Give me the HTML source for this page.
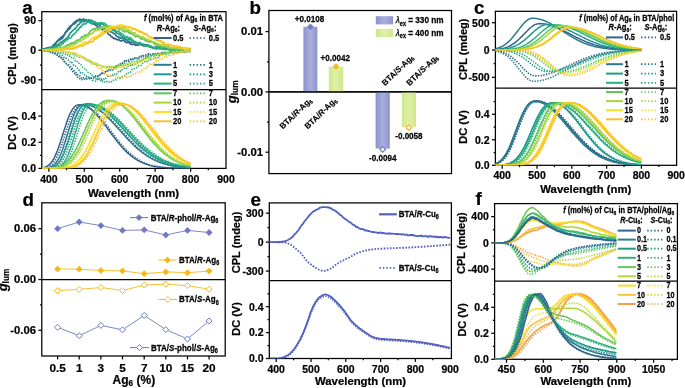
<!DOCTYPE html>
<html><head><meta charset="utf-8"><style>
html,body{margin:0;padding:0;background:#fff;}
svg{display:block;filter:blur(0.3px);}
text{font-family:"Liberation Sans",sans-serif;}
</style></head><body>
<svg width="685" height="388" viewBox="0 0 685 388">
<rect x="0" y="0" width="685" height="388" fill="#fff"/>
<rect x="41.8" y="11.7" width="184.2" height="156.7" fill="none" stroke="#000" stroke-width="1.25"/>
<line x1="41.8" y1="89.7" x2="226" y2="89.7" stroke="#000" stroke-width="1.25"/>
<g clip-path="url(#clipa1)">
<path d="M41.8,49.4 L42.7,49.3 L43.6,49.1 L44.5,48.9 L45.3,48.7 L46.2,48.4 L47.1,48.2 L48,48.2 L48.9,48.3 L49.8,47.6 L50.7,47.7 L51.5,47.4 L52.4,46.4 L53.3,44.9 L54.2,45 L55.1,44.5 L56,43.1 L56.9,41.5 L57.7,40.9 L58.6,40.4 L59.5,38.7 L60.4,38.9 L61.3,37 L62.2,36.6 L63.1,36 L63.9,35.2 L64.8,33.9 L65.7,31.8 L66.6,31.2 L67.5,29.7 L68.4,28.2 L69.3,27.5 L70.1,26.2 L71,26 L71.9,25.4 L72.8,24.4 L73.7,22.8 L74.6,22.1 L75.4,21.6 L76.3,20.7 L77.2,20.3 L78.1,20.3 L79,19.4 L79.9,19.1 L80.8,19.8 L81.6,19.7 L82.5,19.7 L83.4,19.2 L84.3,19.4 L85.2,20.3 L86.1,19.8 L87,21.1 L87.8,21.5 L88.7,21.3 L89.6,22.4 L90.5,22.7 L91.4,23.8 L92.3,23.5 L93.2,23.5 L94,24.1 L94.9,24.2 L95.8,25.5 L96.7,25.8 L97.6,26.4 L98.5,27 L99.4,27.9 L100.2,28 L101.1,28.1 L102,29.3 L102.9,29.9 L103.8,31.5 L104.7,31.6 L105.6,32 L106.4,31.9 L107.3,32.4 L108.2,33.9 L109.1,34.7 L110,34.9 L110.9,36.4 L111.8,36.6 L112.6,37.5 L113.5,38.2 L114.4,38.9 L115.3,38.3 L116.2,39.2 L117.1,39.7 L118,39.9 L118.8,39.4 L119.7,40.6 L120.6,40.8 L121.5,40.9 L122.4,40.5 L123.3,40.5 L124.2,40.6 L125,41.8 L125.9,42.3 L126.8,42.7 L127.7,42.2 L128.6,41.9 L129.5,43.2 L130.3,43.9 L131.2,44.3 L132.1,44.5 L133,44.3 L133.9,44.1 L134.8,44.6 L135.7,45.4 L136.5,45.2 L137.4,45.2 L138.3,44.9 L139.2,44.2 L140.1,44.3 L141,44.8 L141.9,44.9 L142.7,44.9 L143.6,46 L144.5,45.1 L145.4,45 L146.3,44.8 L147.2,44.8 L148.1,45.6 L148.9,46 L149.8,46.8 L150.7,46.3 L151.6,47.1 L152.5,47.5 L153.4,47.5 L154.3,47.6 L155.1,47.4 L156,47.8 L156.9,48.1 L157.8,48.1 L158.7,48.1 L159.6,47.8 L160.5,48.2 L161.3,47.1 L162.2,47 L163.1,47.7 L164,47.9 L164.9,47.9 L165.8,47.9 L166.7,48.3 L167.5,47.5 L168.4,47 L169.3,47.4 L170.2,47.7 L171.1,48.3 L172,48.6 L172.9,48.5 L173.7,48.6 L174.6,48 L175.5,48.5 L176.4,48.9 L177.3,48.1 L178.2,48.2 L179.1,48.7 L179.9,48.5 L180.8,49 L181.7,48.7 L182.6,48.2 L183.5,48 L184.4,48.2 L185.3,48.7 L186.1,48.8 L187,49.1 L187.9,48.7 L188.8,48.8 L189.7,48.6 L190.6,48.9" fill="none" stroke="#33628d" stroke-width="1.7" stroke-linejoin="round"/>
<path d="M41.8,49.4 L42.7,49.2 L43.6,49 L44.5,48.9 L45.3,48.6 L46.2,48.4 L47.1,48.1 L48,47.8 L48.9,47.5 L49.8,47.3 L50.7,47.6 L51.5,47.6 L52.4,46.8 L53.3,46.2 L54.2,44.8 L55.1,43.3 L56,43.1 L56.9,41.8 L57.7,40.6 L58.6,39.7 L59.5,39.8 L60.4,39.6 L61.3,39 L62.2,38.3 L63.1,37.4 L63.9,35.7 L64.8,33.8 L65.7,32.4 L66.6,31.8 L67.5,30.7 L68.4,29.4 L69.3,29.4 L70.1,28 L71,26.3 L71.9,25.3 L72.8,24.4 L73.7,24 L74.6,24 L75.4,22.6 L76.3,22.4 L77.2,21.3 L78.1,20.3 L79,20.7 L79.9,20.8 L80.8,19.9 L81.6,19.8 L82.5,20.8 L83.4,21.4 L84.3,21.7 L85.2,20.6 L86.1,20.3 L87,21.4 L87.8,20.9 L88.7,20.5 L89.6,21 L90.5,21.9 L91.4,22.1 L92.3,23.1 L93.2,24 L94,23 L94.9,23.2 L95.8,23.8 L96.7,23.5 L97.6,24.5 L98.5,24.5 L99.4,24.7 L100.2,26.2 L101.1,27 L102,27.7 L102.9,28.3 L103.8,28.3 L104.7,29.1 L105.6,29.5 L106.4,30.4 L107.3,29.8 L108.2,30.7 L109.1,31.3 L110,31.6 L110.9,31.5 L111.8,32.5 L112.6,32.4 L113.5,33.3 L114.4,34 L115.3,34.5 L116.2,35.9 L117.1,36.2 L118,36.9 L118.8,37.9 L119.7,37.2 L120.6,38.2 L121.5,38.3 L122.4,38.2 L123.3,38.6 L124.2,39.4 L125,39.7 L125.9,39.9 L126.8,39.9 L127.7,41.2 L128.6,41.2 L129.5,41.9 L130.3,42.4 L131.2,41.9 L132.1,42.3 L133,42.5 L133.9,42.4 L134.8,42.3 L135.7,43.1 L136.5,43.4 L137.4,43.8 L138.3,44.1 L139.2,44.1 L140.1,44.5 L141,44.7 L141.9,45 L142.7,44.5 L143.6,44.7 L144.5,44.6 L145.4,44.5 L146.3,45.7 L147.2,45.9 L148.1,45.3 L148.9,45.3 L149.8,46.6 L150.7,47.3 L151.6,47.2 L152.5,47.7 L153.4,47.8 L154.3,48.1 L155.1,47.4 L156,47 L156.9,46.6 L157.8,47.6 L158.7,47.3 L159.6,47.3 L160.5,48 L161.3,47.4 L162.2,47.1 L163.1,47.9 L164,47.4 L164.9,47.9 L165.8,48 L166.7,47.6 L167.5,47.5 L168.4,48.3 L169.3,48.4 L170.2,48.4 L171.1,48.6 L172,48.9 L172.9,48.9 L173.7,48.5 L174.6,49.1 L175.5,48.8 L176.4,48.8 L177.3,49.3 L178.2,49.2 L179.1,48.9 L179.9,48.9 L180.8,49.3 L181.7,48.7 L182.6,48.6 L183.5,48.4 L184.4,49.1 L185.3,49.3 L186.1,49.6 L187,49.2 L187.9,49.4 L188.8,49.6 L189.7,49.5 L190.6,49.1" fill="none" stroke="#2a7b8e" stroke-width="1.7" stroke-linejoin="round"/>
<path d="M41.8,49.7 L42.7,49.6 L43.6,49.5 L44.5,49.4 L45.3,49.3 L46.2,49.1 L47.1,49 L48,49.3 L48.9,48.7 L49.8,48.5 L50.7,48.6 L51.5,47.5 L52.4,47.1 L53.3,46.5 L54.2,47.1 L55.1,45.9 L56,46.3 L56.9,45 L57.7,44.7 L58.6,44.4 L59.5,43.6 L60.4,42.1 L61.3,42.2 L62.2,42 L63.1,40.9 L63.9,40.3 L64.8,39.8 L65.7,39 L66.6,38.3 L67.5,37.2 L68.4,36 L69.3,34.9 L70.1,33 L71,32.4 L71.9,31.2 L72.8,30.6 L73.7,29.6 L74.6,29.2 L75.4,28.1 L76.3,27.5 L77.2,25.6 L78.1,24.6 L79,24.3 L79.9,23.4 L80.8,21.9 L81.6,22.3 L82.5,21.2 L83.4,21.1 L84.3,20.9 L85.2,20.1 L86.1,20.5 L87,20.5 L87.8,20.3 L88.7,19.7 L89.6,20.5 L90.5,20.2 L91.4,20.3 L92.3,20.6 L93.2,21.2 L94,21.7 L94.9,22.6 L95.8,23.1 L96.7,23.5 L97.6,22.8 L98.5,23.4 L99.4,24 L100.2,24.7 L101.1,23.9 L102,23.7 L102.9,24.1 L103.8,25.2 L104.7,26 L105.6,26.6 L106.4,26.8 L107.3,27.7 L108.2,27.9 L109.1,28.5 L110,27.9 L110.9,27.9 L111.8,28.8 L112.6,30.1 L113.5,29.7 L114.4,30.9 L115.3,31.7 L116.2,33 L117.1,33.2 L118,33.5 L118.8,33.8 L119.7,34.7 L120.6,35 L121.5,36.2 L122.4,36.6 L123.3,37.3 L124.2,37.4 L125,38.3 L125.9,39.1 L126.8,39.2 L127.7,39.6 L128.6,39.4 L129.5,39.7 L130.3,39.6 L131.2,40 L132.1,40.2 L133,40.3 L133.9,41.4 L134.8,42.2 L135.7,41.7 L136.5,43 L137.4,42.9 L138.3,43.1 L139.2,44.4 L140.1,43.9 L141,43.7 L141.9,44.1 L142.7,44.3 L143.6,44.4 L144.5,45.8 L145.4,45.9 L146.3,46.1 L147.2,45.8 L148.1,45.8 L148.9,45.9 L149.8,46.4 L150.7,46.3 L151.6,46.7 L152.5,47 L153.4,47.8 L154.3,48.5 L155.1,48.7 L156,48.7 L156.9,49 L157.8,48.4 L158.7,48.5 L159.6,48.5 L160.5,48.6 L161.3,48.6 L162.2,48.8 L163.1,49.4 L164,49.1 L164.9,49 L165.8,49.2 L166.7,49.3 L167.5,49.3 L168.4,49.7 L169.3,49.5 L170.2,49.7 L171.1,50 L172,50 L172.9,49.7 L173.7,49.9 L174.6,49.7 L175.5,49.5 L176.4,49.7 L177.3,49.9 L178.2,49.9 L179.1,49.8 L179.9,49.8 L180.8,49.8 L181.7,49.9 L182.6,50.2 L183.5,50.3 L184.4,50.3 L185.3,50.1 L186.1,50.2 L187,50.1 L187.9,50.3 L188.8,50.4 L189.7,50.4 L190.6,50.2" fill="none" stroke="#20998b" stroke-width="1.7" stroke-linejoin="round"/>
<path d="M41.8,49.8 L42.7,49.7 L43.6,49.7 L44.5,49.6 L45.3,49.5 L46.2,49.4 L47.1,49.2 L48,49 L48.9,49.1 L49.8,48.4 L50.7,48 L51.5,48.6 L52.4,48.3 L53.3,47.6 L54.2,46.8 L55.1,47 L56,47.1 L56.9,47.2 L57.7,45.7 L58.6,46 L59.5,45.3 L60.4,45.4 L61.3,44.6 L62.2,43.1 L63.1,43.5 L63.9,42.1 L64.8,41.6 L65.7,40.4 L66.6,39.7 L67.5,39.8 L68.4,38.3 L69.3,37.8 L70.1,37.9 L71,37.6 L71.9,36.1 L72.8,35 L73.7,34.3 L74.6,33.7 L75.4,32.7 L76.3,31.8 L77.2,30 L78.1,30.1 L79,28.5 L79.9,27.1 L80.8,27.3 L81.6,25.6 L82.5,24.9 L83.4,23.8 L84.3,24.1 L85.2,23.9 L86.1,23.5 L87,22.1 L87.8,22 L88.7,22.2 L89.6,22.2 L90.5,22.4 L91.4,22.9 L92.3,23.1 L93.2,22 L94,22.4 L94.9,21.6 L95.8,22.4 L96.7,22.9 L97.6,22.8 L98.5,23.4 L99.4,23.5 L100.2,22.7 L101.1,22.5 L102,22.8 L102.9,23.3 L103.8,23.3 L104.7,23.4 L105.6,24.4 L106.4,24.7 L107.3,26.3 L108.2,26.1 L109.1,26.7 L110,26.7 L110.9,27.1 L111.8,28.2 L112.6,29.4 L113.5,28.7 L114.4,30 L115.3,30.3 L116.2,31 L117.1,31.6 L118,31.5 L118.8,31.2 L119.7,32.6 L120.6,32.9 L121.5,33.9 L122.4,34.2 L123.3,34.9 L124.2,35.9 L125,36.7 L125.9,37.2 L126.8,36.5 L127.7,37.1 L128.6,38.2 L129.5,37.7 L130.3,37.6 L131.2,38.7 L132.1,40 L133,40.8 L133.9,41.6 L134.8,41.7 L135.7,42.4 L136.5,42.8 L137.4,43.1 L138.3,42.9 L139.2,42.4 L140.1,42.6 L141,43.4 L141.9,44 L142.7,44.3 L143.6,44.8 L144.5,45.3 L145.4,46.1 L146.3,46.3 L147.2,45.4 L148.1,46.4 L148.9,46.5 L149.8,46.4 L150.7,46 L151.6,47 L152.5,47.5 L153.4,47.9 L154.3,47.9 L155.1,47.9 L156,47.4 L156.9,47.4 L157.8,47.4 L158.7,48.4 L159.6,49 L160.5,48.6 L161.3,48.3 L162.2,48.6 L163.1,48.7 L164,49.3 L164.9,49.3 L165.8,48.9 L166.7,48.9 L167.5,48.9 L168.4,48.8 L169.3,49.3 L170.2,49.7 L171.1,49.9 L172,49.7 L172.9,49.6 L173.7,49.4 L174.6,49.5 L175.5,49.6 L176.4,49.6 L177.3,49.7 L178.2,49.8 L179.1,50.1 L179.9,49.9 L180.8,50.1 L181.7,49.8 L182.6,49.8 L183.5,50 L184.4,50.2 L185.3,50.3 L186.1,50.1 L187,50 L187.9,50.2 L188.8,50.4 L189.7,50.2 L190.6,50.1" fill="none" stroke="#28b07e" stroke-width="1.7" stroke-linejoin="round"/>
<path d="M41.8,49.9 L42.7,49.9 L43.6,49.9 L44.5,49.8 L45.3,49.8 L46.2,49.7 L47.1,49.7 L48,49.4 L48.9,49.2 L49.8,49.3 L50.7,49.5 L51.5,49.5 L52.4,48.9 L53.3,48.8 L54.2,48.9 L55.1,49.2 L56,48.9 L56.9,48.4 L57.7,48.4 L58.6,48.4 L59.5,47.9 L60.4,47.2 L61.3,47.6 L62.2,48 L63.1,47.6 L63.9,47.2 L64.8,46.4 L65.7,46.6 L66.6,45.5 L67.5,44.9 L68.4,44.8 L69.3,45.1 L70.1,43.7 L71,43.9 L71.9,42.9 L72.8,43.2 L73.7,43.1 L74.6,41.9 L75.4,41.8 L76.3,40.4 L77.2,40.2 L78.1,40.3 L79,40 L79.9,39.3 L80.8,38.2 L81.6,36.8 L82.5,37.2 L83.4,36.7 L84.3,36.5 L85.2,34.7 L86.1,35 L87,35 L87.8,34.7 L88.7,33.7 L89.6,32 L90.5,31 L91.4,30.4 L92.3,29.5 L93.2,28.9 L94,29.4 L94.9,29.6 L95.8,28.3 L96.7,27.8 L97.6,28.6 L98.5,27.7 L99.4,27.7 L100.2,27.6 L101.1,27.5 L102,27.6 L102.9,27.9 L103.8,27.6 L104.7,27.3 L105.6,26.1 L106.4,27 L107.3,26 L108.2,26.8 L109.1,27 L110,26.4 L110.9,26.1 L111.8,26.8 L112.6,27.8 L113.5,27.7 L114.4,27.9 L115.3,27.2 L116.2,28.2 L117.1,28.6 L118,27.9 L118.8,29.3 L119.7,29.4 L120.6,29 L121.5,29 L122.4,30.4 L123.3,31.3 L124.2,31.9 L125,30.9 L125.9,31.7 L126.8,31.5 L127.7,31.3 L128.6,32.4 L129.5,33.3 L130.3,32.7 L131.2,33.2 L132.1,34.3 L133,34.3 L133.9,35.2 L134.8,35.9 L135.7,36.9 L136.5,36.4 L137.4,36 L138.3,36.5 L139.2,36.5 L140.1,38.2 L141,38.9 L141.9,39.1 L142.7,38.5 L143.6,38.5 L144.5,39.6 L145.4,40.6 L146.3,41 L147.2,41.2 L148.1,40.8 L148.9,42 L149.8,41.8 L150.7,41.9 L151.6,42 L152.5,42.3 L153.4,42.9 L154.3,43.8 L155.1,44.4 L156,44.8 L156.9,44.4 L157.8,45.5 L158.7,46 L159.6,45.4 L160.5,46.1 L161.3,46.9 L162.2,47.4 L163.1,46.9 L164,47.2 L164.9,46.3 L165.8,46.2 L166.7,46.1 L167.5,47.2 L168.4,48 L169.3,48.4 L170.2,48.2 L171.1,47.9 L172,48.1 L172.9,48.6 L173.7,48.6 L174.6,48.5 L175.5,48.4 L176.4,48.4 L177.3,48.3 L178.2,48.5 L179.1,49.1 L179.9,48.9 L180.8,49.2 L181.7,49.2 L182.6,49.4 L183.5,49.2 L184.4,49.6 L185.3,49.7 L186.1,49.8 L187,50 L187.9,49.6 L188.8,49.6 L189.7,49.8 L190.6,49.9" fill="none" stroke="#5ec45b" stroke-width="1.7" stroke-linejoin="round"/>
<path d="M41.8,50 L42.7,50 L43.6,49.9 L44.5,49.9 L45.3,49.9 L46.2,49.8 L47.1,49.8 L48,49.8 L48.9,49.5 L49.8,49.3 L50.7,49.1 L51.5,49.6 L52.4,49.6 L53.3,49.7 L54.2,49.7 L55.1,49 L56,48.9 L56.9,48.5 L57.7,48.7 L58.6,48.2 L59.5,48.3 L60.4,48.5 L61.3,47.9 L62.2,47.3 L63.1,47.9 L63.9,47.5 L64.8,47.1 L65.7,47.4 L66.6,47.2 L67.5,47.3 L68.4,47.1 L69.3,46.8 L70.1,45.8 L71,45.1 L71.9,45.3 L72.8,45.5 L73.7,44.9 L74.6,43.8 L75.4,43.8 L76.3,43.4 L77.2,43.1 L78.1,41.7 L79,41.2 L79.9,41.5 L80.8,41.3 L81.6,40.5 L82.5,39.5 L83.4,38.6 L84.3,38.8 L85.2,38.5 L86.1,37.1 L87,36.6 L87.8,36.3 L88.7,35.8 L89.6,34.2 L90.5,34.2 L91.4,33.5 L92.3,33.2 L93.2,32.7 L94,31.4 L94.9,30.3 L95.8,30.6 L96.7,30.7 L97.6,29.7 L98.5,29.9 L99.4,30.1 L100.2,28.5 L101.1,28.3 L102,27.4 L102.9,27.6 L103.8,26.7 L104.7,26.9 L105.6,27.4 L106.4,27.8 L107.3,27.1 L108.2,26.6 L109.1,25.8 L110,26.9 L110.9,26.5 L111.8,26.8 L112.6,26.7 L113.5,27.4 L114.4,27.5 L115.3,27.2 L116.2,26.5 L117.1,27.6 L118,27.6 L118.8,27.1 L119.7,26.8 L120.6,28 L121.5,28.9 L122.4,28.1 L123.3,27.7 L124.2,28.6 L125,29.9 L125.9,29.2 L126.8,30 L127.7,29.6 L128.6,30.1 L129.5,30.2 L130.3,31.6 L131.2,31.4 L132.1,32.5 L133,32.9 L133.9,32.6 L134.8,32.6 L135.7,34 L136.5,34.8 L137.4,35.1 L138.3,35.3 L139.2,35.8 L140.1,36.7 L141,37.2 L141.9,36.8 L142.7,36.5 L143.6,38.1 L144.5,38.1 L145.4,38 L146.3,39.4 L147.2,39 L148.1,40.2 L148.9,40.1 L149.8,40.4 L150.7,40.6 L151.6,41.4 L152.5,41.8 L153.4,41.9 L154.3,42.4 L155.1,42.4 L156,42.9 L156.9,43.3 L157.8,44.4 L158.7,44.1 L159.6,44.3 L160.5,45 L161.3,44.5 L162.2,44.4 L163.1,45 L164,46 L164.9,46 L165.8,46.8 L166.7,47.3 L167.5,47.1 L168.4,47.6 L169.3,47.4 L170.2,47.3 L171.1,48 L172,47.6 L172.9,48.2 L173.7,47.7 L174.6,47.5 L175.5,47.8 L176.4,48.6 L177.3,48.5 L178.2,48.6 L179.1,48.2 L179.9,48.8 L180.8,48.5 L181.7,48.3 L182.6,48.5 L183.5,48.5 L184.4,49.1 L185.3,48.8 L186.1,49.1 L187,48.9 L187.9,48.9 L188.8,49.4 L189.7,49.3 L190.6,49.2" fill="none" stroke="#a9d53a" stroke-width="1.7" stroke-linejoin="round"/>
<path d="M41.8,50.1 L42.7,50.1 L43.6,50.1 L44.5,50.1 L45.3,50.1 L46.2,50.1 L47.1,50.1 L48,50.2 L48.9,50.1 L49.8,49.9 L50.7,50.1 L51.5,50.1 L52.4,50 L53.3,50.1 L54.2,50.2 L55.1,50.2 L56,50.2 L56.9,49.7 L57.7,49.6 L58.6,49.3 L59.5,49.6 L60.4,49.3 L61.3,49.6 L62.2,49.4 L63.1,49.2 L63.9,49.2 L64.8,48.8 L65.7,48.7 L66.6,48.6 L67.5,48.2 L68.4,48.6 L69.3,47.9 L70.1,47.7 L71,47.9 L71.9,47.3 L72.8,47.6 L73.7,46.6 L74.6,46.6 L75.4,46.7 L76.3,46 L77.2,46 L78.1,46.3 L79,45.3 L79.9,45.8 L80.8,44.6 L81.6,44.7 L82.5,43.9 L83.4,42.7 L84.3,42.5 L85.2,42.1 L86.1,42.2 L87,42.6 L87.8,42.4 L88.7,41.9 L89.6,40.5 L90.5,39.9 L91.4,39.2 L92.3,37.8 L93.2,38.2 L94,37.9 L94.9,36.7 L95.8,36.9 L96.7,36.8 L97.6,35.8 L98.5,35.4 L99.4,34.5 L100.2,34 L101.1,32.8 L102,31.9 L102.9,31.9 L103.8,30.8 L104.7,30.3 L105.6,30.4 L106.4,28.8 L107.3,29 L108.2,29.1 L109.1,29 L110,27.8 L110.9,26.7 L111.8,26.1 L112.6,26.4 L113.5,26.6 L114.4,27.1 L115.3,26.1 L116.2,25.8 L117.1,25.9 L118,25.4 L118.8,25.6 L119.7,24.8 L120.6,24.8 L121.5,25.7 L122.4,25 L123.3,26.3 L124.2,26.1 L125,26.3 L125.9,26.8 L126.8,27.5 L127.7,26.7 L128.6,27.8 L129.5,27.5 L130.3,26.8 L131.2,28 L132.1,28.7 L133,28.5 L133.9,28.8 L134.8,28.9 L135.7,28.8 L136.5,30.1 L137.4,30.7 L138.3,31.2 L139.2,32.1 L140.1,31.4 L141,31.4 L141.9,31.7 L142.7,33.4 L143.6,33 L144.5,33.2 L145.4,34 L146.3,34.1 L147.2,35 L148.1,36 L148.9,36.9 L149.8,37.4 L150.7,38.2 L151.6,38.4 L152.5,37.9 L153.4,38.1 L154.3,38.1 L155.1,38.5 L156,39.7 L156.9,40 L157.8,40.6 L158.7,40.5 L159.6,41.1 L160.5,42 L161.3,42 L162.2,41.6 L163.1,42.9 L164,42.6 L164.9,44.1 L165.8,44.5 L166.7,45 L167.5,44.5 L168.4,44 L169.3,44.3 L170.2,45.3 L171.1,44.9 L172,45.8 L172.9,46.6 L173.7,45.9 L174.6,46.1 L175.5,46.3 L176.4,46.5 L177.3,46.3 L178.2,47 L179.1,46.9 L179.9,47.2 L180.8,47.2 L181.7,47.8 L182.6,47.8 L183.5,48.1 L184.4,48.5 L185.3,48.9 L186.1,48.7 L187,49.2 L187.9,48.8 L188.8,49.2 L189.7,49.6 L190.6,49.7" fill="none" stroke="#f6e01f" stroke-width="1.7" stroke-linejoin="round"/>
<path d="M41.8,50.2 L42.7,50.2 L43.6,50.2 L44.5,50.2 L45.3,50.1 L46.2,50.1 L47.1,50.1 L48,50 L48.9,49.9 L49.8,50.2 L50.7,50.1 L51.5,50.1 L52.4,49.9 L53.3,49.8 L54.2,49.7 L55.1,50 L56,49.8 L56.9,49.6 L57.7,49.5 L58.6,49.8 L59.5,50 L60.4,50.1 L61.3,50.1 L62.2,49.6 L63.1,49.4 L63.9,49.3 L64.8,49.1 L65.7,49 L66.6,49.2 L67.5,49.4 L68.4,49.5 L69.3,48.9 L70.1,49 L71,48.9 L71.9,48.7 L72.8,48.9 L73.7,48.7 L74.6,48.5 L75.4,47.7 L76.3,47.7 L77.2,47.6 L78.1,46.5 L79,46.4 L79.9,45.7 L80.8,45.6 L81.6,46.3 L82.5,45.9 L83.4,45.5 L84.3,44.5 L85.2,44.5 L86.1,43.7 L87,43.4 L87.8,43.5 L88.7,42.3 L89.6,42.7 L90.5,41.5 L91.4,41.7 L92.3,41.8 L93.2,41.3 L94,39.8 L94.9,38.4 L95.8,39.1 L96.7,38.3 L97.6,37.7 L98.5,36.5 L99.4,36.7 L100.2,36 L101.1,35.6 L102,34.3 L102.9,34.3 L103.8,32.9 L104.7,33 L105.6,33 L106.4,31.9 L107.3,31.4 L108.2,31.6 L109.1,30.6 L110,30.8 L110.9,29.5 L111.8,28.8 L112.6,28.1 L113.5,27.9 L114.4,28.1 L115.3,28 L116.2,27.9 L117.1,26.9 L118,27.7 L118.8,26.6 L119.7,27.5 L120.6,27.7 L121.5,27.7 L122.4,26.6 L123.3,26.7 L124.2,27.1 L125,26.4 L125.9,27.3 L126.8,27.4 L127.7,27.4 L128.6,27.1 L129.5,27.1 L130.3,27.4 L131.2,28.1 L132.1,28.7 L133,29.4 L133.9,28.7 L134.8,28.9 L135.7,29 L136.5,30.2 L137.4,30.5 L138.3,30.3 L139.2,30.7 L140.1,31.9 L141,32.1 L141.9,31.7 L142.7,32.9 L143.6,33.7 L144.5,34.2 L145.4,33.9 L146.3,33.8 L147.2,35.2 L148.1,36 L148.9,36.6 L149.8,36.9 L150.7,37 L151.6,37.9 L152.5,38.2 L153.4,38.9 L154.3,38.1 L155.1,38.3 L156,39.7 L156.9,39.2 L157.8,40.6 L158.7,41 L159.6,40.4 L160.5,40.6 L161.3,41 L162.2,41.9 L163.1,42.9 L164,42.9 L164.9,43.9 L165.8,44.4 L166.7,44.5 L167.5,45.4 L168.4,45.3 L169.3,44.7 L170.2,44.8 L171.1,45.2 L172,45.4 L172.9,45.9 L173.7,46.8 L174.6,46.5 L175.5,46.9 L176.4,46.6 L177.3,46.3 L178.2,47 L179.1,47.2 L179.9,47.2 L180.8,47.7 L181.7,48.2 L182.6,48 L183.5,47.8 L184.4,47.9 L185.3,48.1 L186.1,48.1 L187,48.3 L187.9,48.5 L188.8,48.8 L189.7,49.1 L190.6,49.1" fill="none" stroke="#f8c02c" stroke-width="1.7" stroke-linejoin="round"/>
<path d="M41.8,50.6 L42.7,50.6 L43.6,50.7 L44.5,50.8 L45.3,51 L46.2,51.1 L47.1,51.3 L48,51.5 L48.9,51.6 L49.8,51.9 L50.7,52 L51.5,51.8 L52.4,52.9 L53.3,53 L54.2,53 L55.1,53.9 L56,54.5 L56.9,54.2 L57.7,56 L58.6,56.4 L59.5,57.7 L60.4,57.6 L61.3,57.7 L62.2,59 L63.1,60.8 L63.9,61.4 L64.8,62.2 L65.7,62.9 L66.6,64.1 L67.5,65 L68.4,65.7 L69.3,67.1 L70.1,68.6 L71,68.9 L71.9,70.9 L72.8,71.6 L73.7,72.9 L74.6,73.4 L75.4,75.2 L76.3,75 L77.2,76.3 L78.1,77.8 L79,78.4 L79.9,78.7 L80.8,79.7 L81.6,79.6 L82.5,79.5 L83.4,79 L84.3,79.3 L85.2,79.6 L86.1,79.8 L87,78.9 L87.8,78 L88.7,78.2 L89.6,78.8 L90.5,77.9 L91.4,78.1 L92.3,78.3 L93.2,78.4 L94,77.2 L94.9,76.4 L95.8,76.1 L96.7,76 L97.6,75.7 L98.5,75.8 L99.4,74.5 L100.2,74.6 L101.1,73.9 L102,73.1 L102.9,72.4 L103.8,72.4 L104.7,72.5 L105.6,71.9 L106.4,72 L107.3,70.6 L108.2,70.5 L109.1,69.3 L110,69.5 L110.9,69.2 L111.8,68.9 L112.6,68.3 L113.5,68.1 L114.4,68.1 L115.3,66.6 L116.2,66.4 L117.1,66.1 L118,65.7 L118.8,64.9 L119.7,64.4 L120.6,63.6 L121.5,62.9 L122.4,62.9 L123.3,61.7 L124.2,61.1 L125,61.9 L125.9,60.8 L126.8,60 L127.7,59.6 L128.6,60.3 L129.5,59.3 L130.3,59 L131.2,59.8 L132.1,60 L133,58.4 L133.9,58 L134.8,58.3 L135.7,58.6 L136.5,58.6 L137.4,58.3 L138.3,57.1 L139.2,57.1 L140.1,57.4 L141,56.1 L141.9,55.6 L142.7,56.3 L143.6,55.3 L144.5,55.2 L145.4,54.8 L146.3,54.7 L147.2,54.2 L148.1,54.1 L148.9,53.8 L149.8,54.7 L150.7,54.3 L151.6,54.3 L152.5,53.8 L153.4,54.1 L154.3,53.4 L155.1,53.6 L156,54.1 L156.9,54.3 L157.8,54.6 L158.7,54 L159.6,54.4 L160.5,53.9 L161.3,54.1 L162.2,53.6 L163.1,53.3 L164,53.1 L164.9,52.5 L165.8,53.3 L166.7,52.6 L167.5,52.7 L168.4,52.6 L169.3,52.3 L170.2,52 L171.1,52.4 L172,52.5 L172.9,51.8 L173.7,52.5 L174.6,52.2 L175.5,52 L176.4,52.5 L177.3,52.1 L178.2,51.8 L179.1,51.4 L179.9,51.8 L180.8,51.3 L181.7,51.5 L182.6,51.6 L183.5,51.3 L184.4,51.9 L185.3,51.5 L186.1,51.4 L187,51.6 L187.9,51.2 L188.8,51.4 L189.7,51.4 L190.6,51.3" fill="none" stroke="#33628d" stroke-width="1.6" stroke-dasharray="1.4 1.3" stroke-linecap="butt"/>
<path d="M41.8,50.6 L42.7,50.7 L43.6,50.7 L44.5,50.8 L45.3,50.9 L46.2,51.1 L47.1,51.2 L48,51.1 L48.9,51.5 L49.8,51.8 L50.7,52.3 L51.5,52.4 L52.4,52.1 L53.3,52.4 L54.2,52.6 L55.1,53.6 L56,54.4 L56.9,55.1 L57.7,55.3 L58.6,55.6 L59.5,55.8 L60.4,57.5 L61.3,57.6 L62.2,57.8 L63.1,58.8 L63.9,60.7 L64.8,61.6 L65.7,63 L66.6,63.9 L67.5,63.6 L68.4,64.5 L69.3,65.3 L70.1,66.1 L71,66.7 L71.9,68.1 L72.8,69.2 L73.7,70.2 L74.6,71.1 L75.4,72.1 L76.3,72.9 L77.2,74.5 L78.1,74.8 L79,75.7 L79.9,75.9 L80.8,77.3 L81.6,78.1 L82.5,78.8 L83.4,78 L84.3,77.4 L85.2,77.6 L86.1,78.1 L87,77.5 L87.8,77.3 L88.7,77.5 L89.6,78 L90.5,78.1 L91.4,77.9 L92.3,77.9 L93.2,77.5 L94,76.9 L94.9,75.9 L95.8,76.8 L96.7,76.2 L97.6,76.6 L98.5,76.5 L99.4,75.1 L100.2,74.6 L101.1,73.6 L102,73.7 L102.9,74.3 L103.8,73.7 L104.7,72.9 L105.6,71.6 L106.4,70.7 L107.3,70.9 L108.2,70.8 L109.1,71.1 L110,70.1 L110.9,70.1 L111.8,69.9 L112.6,69.9 L113.5,69.6 L114.4,68.1 L115.3,68 L116.2,66.4 L117.1,66.8 L118,65.4 L118.8,65.8 L119.7,66 L120.6,64.6 L121.5,64.5 L122.4,63.5 L123.3,63.7 L124.2,63.8 L125,62.4 L125.9,61.6 L126.8,60.8 L127.7,60.5 L128.6,61.2 L129.5,60.5 L130.3,59.8 L131.2,59.7 L132.1,58.7 L133,59.2 L133.9,58.1 L134.8,57.9 L135.7,58.8 L136.5,59.1 L137.4,58.1 L138.3,57.2 L139.2,57.8 L140.1,57.7 L141,56.8 L141.9,57.2 L142.7,56.1 L143.6,56.1 L144.5,56.7 L145.4,56.4 L146.3,55.8 L147.2,55.7 L148.1,55.1 L148.9,55.7 L149.8,54.8 L150.7,55 L151.6,54.5 L152.5,54.3 L153.4,54.4 L154.3,54.5 L155.1,53.8 L156,53.1 L156.9,53 L157.8,53.3 L158.7,53.8 L159.6,54.4 L160.5,53.2 L161.3,52.9 L162.2,52.6 L163.1,53.1 L164,53 L164.9,52.3 L165.8,52.2 L166.7,52.4 L167.5,52.8 L168.4,52.9 L169.3,52.2 L170.2,52.6 L171.1,52.3 L172,52.2 L172.9,51.8 L173.7,51.7 L174.6,52.2 L175.5,52.8 L176.4,52.7 L177.3,52.4 L178.2,52.1 L179.1,51.7 L179.9,51.4 L180.8,52.1 L181.7,51.6 L182.6,51.4 L183.5,51.2 L184.4,51.3 L185.3,51.7 L186.1,51.3 L187,51.1 L187.9,51.1 L188.8,50.9 L189.7,51.3 L190.6,51.7" fill="none" stroke="#2a7b8e" stroke-width="1.6" stroke-dasharray="1.4 1.3" stroke-linecap="butt"/>
<path d="M41.8,50.5 L42.7,50.6 L43.6,50.6 L44.5,50.7 L45.3,50.8 L46.2,50.9 L47.1,51 L48,50.9 L48.9,51.1 L49.8,51.6 L50.7,51.8 L51.5,51.6 L52.4,51.5 L53.3,51.9 L54.2,52.7 L55.1,52.4 L56,52.4 L56.9,53.3 L57.7,53.4 L58.6,53.1 L59.5,53.2 L60.4,54.1 L61.3,54.8 L62.2,55.3 L63.1,56.5 L63.9,57.3 L64.8,58.1 L65.7,57.9 L66.6,58.7 L67.5,59.1 L68.4,60 L69.3,60.6 L70.1,61.9 L71,63.2 L71.9,62.6 L72.8,63.8 L73.7,65.3 L74.6,65.6 L75.4,65.9 L76.3,67.6 L77.2,68.2 L78.1,69.3 L79,70 L79.9,71.7 L80.8,72.9 L81.6,72.3 L82.5,72.6 L83.4,73.8 L84.3,74.6 L85.2,75.9 L86.1,76 L87,76.9 L87.8,76.7 L88.7,77.2 L89.6,77.5 L90.5,77.6 L91.4,79 L92.3,80.2 L93.2,80.5 L94,80.7 L94.9,81 L95.8,81.2 L96.7,80.3 L97.6,79.3 L98.5,79.5 L99.4,78.7 L100.2,78.2 L101.1,79.4 L102,78.9 L102.9,78.9 L103.8,79.3 L104.7,77.9 L105.6,78.3 L106.4,77.8 L107.3,77.2 L108.2,76.2 L109.1,76 L110,76.2 L110.9,76 L111.8,76.2 L112.6,74.7 L113.5,73.7 L114.4,74.3 L115.3,74.7 L116.2,74.3 L117.1,73.7 L118,72.2 L118.8,71.2 L119.7,70.6 L120.6,71.4 L121.5,70.2 L122.4,69.6 L123.3,69.1 L124.2,68 L125,68.8 L125.9,68.8 L126.8,67.5 L127.7,66.3 L128.6,65.9 L129.5,66.1 L130.3,65.5 L131.2,64.6 L132.1,65.1 L133,64.7 L133.9,64.4 L134.8,64.3 L135.7,63.4 L136.5,63.2 L137.4,62.8 L138.3,62.6 L139.2,61.4 L140.1,61.7 L141,60.5 L141.9,60.6 L142.7,60.7 L143.6,59.1 L144.5,59.3 L145.4,58 L146.3,57.3 L147.2,56.8 L148.1,57.7 L148.9,57.4 L149.8,57.8 L150.7,56.4 L151.6,55.7 L152.5,55.6 L153.4,55.8 L154.3,55.9 L155.1,55 L156,55.1 L156.9,54.8 L157.8,55.3 L158.7,55.4 L159.6,55.6 L160.5,54.5 L161.3,54.1 L162.2,54.6 L163.1,53.5 L164,53.9 L164.9,53.8 L165.8,54 L166.7,53.9 L167.5,52.9 L168.4,53.1 L169.3,53.4 L170.2,53 L171.1,53 L172,52.2 L172.9,52.8 L173.7,52 L174.6,52.6 L175.5,51.9 L176.4,51.8 L177.3,52.2 L178.2,52.1 L179.1,52.2 L179.9,52.2 L180.8,52.2 L181.7,52.1 L182.6,51.4 L183.5,51 L184.4,50.9 L185.3,51.5 L186.1,51.6 L187,51.1 L187.9,51.6 L188.8,51.2 L189.7,51.4 L190.6,50.9" fill="none" stroke="#20998b" stroke-width="1.6" stroke-dasharray="1.4 1.3" stroke-linecap="butt"/>
<path d="M41.8,50.4 L42.7,50.4 L43.6,50.4 L44.5,50.5 L45.3,50.5 L46.2,50.5 L47.1,50.6 L48,50.8 L48.9,50.8 L49.8,50.6 L50.7,50.9 L51.5,50.9 L52.4,51.3 L53.3,51.5 L54.2,51.2 L55.1,51.2 L56,51.7 L56.9,52.2 L57.7,52.6 L58.6,52.3 L59.5,52.4 L60.4,52.9 L61.3,53.3 L62.2,53.2 L63.1,53.1 L63.9,53 L64.8,53.5 L65.7,54.6 L66.6,55.6 L67.5,55.2 L68.4,55.8 L69.3,55.8 L70.1,57.2 L71,56.9 L71.9,57.9 L72.8,57.8 L73.7,58 L74.6,59.1 L75.4,60.8 L76.3,60.5 L77.2,61.5 L78.1,61.7 L79,63.2 L79.9,64.5 L80.8,64.5 L81.6,65.7 L82.5,67 L83.4,67.8 L84.3,68.2 L85.2,69.9 L86.1,70.3 L87,71 L87.8,71.7 L88.7,73.1 L89.6,73.2 L90.5,73.5 L91.4,73.9 L92.3,75.4 L93.2,75.9 L94,77 L94.9,77.2 L95.8,78.8 L96.7,78.5 L97.6,78.4 L98.5,79.3 L99.4,80 L100.2,80.4 L101.1,80.7 L102,81.9 L102.9,80.9 L103.8,81.7 L104.7,82.1 L105.6,82.5 L106.4,82.3 L107.3,81.3 L108.2,82 L109.1,82.2 L110,81.2 L110.9,81.4 L111.8,81.7 L112.6,80.8 L113.5,80.2 L114.4,79.8 L115.3,79.2 L116.2,79.7 L117.1,78.5 L118,77.9 L118.8,78.6 L119.7,78.6 L120.6,77.7 L121.5,77 L122.4,76.8 L123.3,76.7 L124.2,76 L125,75.8 L125.9,74.6 L126.8,73.3 L127.7,73.7 L128.6,72.8 L129.5,71.8 L130.3,72 L131.2,70.7 L132.1,69.6 L133,69.7 L133.9,69.4 L134.8,68.2 L135.7,67.9 L136.5,67.7 L137.4,66.4 L138.3,65.7 L139.2,65.9 L140.1,65.9 L141,65.4 L141.9,64.8 L142.7,63.3 L143.6,62.6 L144.5,61.8 L145.4,61.3 L146.3,60.8 L147.2,61.7 L148.1,61.1 L148.9,59.8 L149.8,59 L150.7,59.6 L151.6,59.3 L152.5,58.7 L153.4,58.6 L154.3,58.1 L155.1,58.5 L156,57.9 L156.9,57.3 L157.8,57.7 L158.7,57.5 L159.6,55.8 L160.5,55.2 L161.3,54.5 L162.2,54.5 L163.1,54.1 L164,53.6 L164.9,53.3 L165.8,54.5 L166.7,53.9 L167.5,54.2 L168.4,53.5 L169.3,53.8 L170.2,53.4 L171.1,52.6 L172,52.5 L172.9,52.9 L173.7,52.7 L174.6,52.6 L175.5,51.9 L176.4,52.3 L177.3,52.4 L178.2,52 L179.1,52.3 L179.9,52 L180.8,51.4 L181.7,51.5 L182.6,51.7 L183.5,51.6 L184.4,51.5 L185.3,51.7 L186.1,51.8 L187,51.8 L187.9,51.6 L188.8,51.4 L189.7,51.4 L190.6,51.4" fill="none" stroke="#28b07e" stroke-width="1.6" stroke-dasharray="1.4 1.3" stroke-linecap="butt"/>
<path d="M41.8,50.3 L42.7,50.3 L43.6,50.3 L44.5,50.4 L45.3,50.4 L46.2,50.4 L47.1,50.4 L48,50.4 L48.9,50.5 L49.8,50.5 L50.7,50.5 L51.5,50.6 L52.4,50.8 L53.3,50.9 L54.2,51.1 L55.1,51 L56,51.1 L56.9,51.1 L57.7,51.5 L58.6,51.5 L59.5,51.2 L60.4,51.6 L61.3,51.6 L62.2,51.8 L63.1,52.1 L63.9,51.6 L64.8,52.2 L65.7,52.1 L66.6,52.9 L67.5,53.5 L68.4,52.9 L69.3,53.3 L70.1,54.2 L71,54.3 L71.9,54.5 L72.8,54.2 L73.7,55.2 L74.6,55.7 L75.4,54.9 L76.3,55.1 L77.2,56.3 L78.1,56.8 L79,57.3 L79.9,57.1 L80.8,57.4 L81.6,57.3 L82.5,57.5 L83.4,58.4 L84.3,58.7 L85.2,59 L86.1,59.4 L87,60.3 L87.8,60.4 L88.7,60.9 L89.6,60.9 L90.5,62.5 L91.4,62.3 L92.3,63.8 L93.2,63.5 L94,63.8 L94.9,64.3 L95.8,64 L96.7,64.6 L97.6,65.4 L98.5,65.2 L99.4,65.1 L100.2,65.7 L101.1,66.4 L102,66.8 L102.9,67 L103.8,66.7 L104.7,67.3 L105.6,67.5 L106.4,67.3 L107.3,67.5 L108.2,67.7 L109.1,67 L110,66.5 L110.9,66.8 L111.8,67 L112.6,67.5 L113.5,67.5 L114.4,67.7 L115.3,67 L116.2,66.6 L117.1,67.1 L118,65.9 L118.8,66.2 L119.7,65.4 L120.6,64.9 L121.5,64.3 L122.4,65.2 L123.3,65.1 L124.2,64.2 L125,65.1 L125.9,65.4 L126.8,64.5 L127.7,64 L128.6,62.9 L129.5,62.5 L130.3,62.5 L131.2,61.6 L132.1,61.8 L133,61.8 L133.9,61.3 L134.8,61.4 L135.7,61.4 L136.5,60.8 L137.4,60.8 L138.3,59.6 L139.2,59.3 L140.1,59.3 L141,59.9 L141.9,59.5 L142.7,59.2 L143.6,58.6 L144.5,58.1 L145.4,57.2 L146.3,56.5 L147.2,56.8 L148.1,56.9 L148.9,56.5 L149.8,55.5 L150.7,56 L151.6,55.8 L152.5,55.1 L153.4,55.8 L154.3,55.7 L155.1,54.4 L156,54 L156.9,54.2 L157.8,54.8 L158.7,53.7 L159.6,53.4 L160.5,53 L161.3,52.4 L162.2,52.3 L163.1,52.8 L164,53.4 L164.9,53.4 L165.8,53 L166.7,52.7 L167.5,52.9 L168.4,53 L169.3,52.4 L170.2,52.1 L171.1,52.1 L172,51.5 L172.9,51.5 L173.7,52 L174.6,51.8 L175.5,51.4 L176.4,51.5 L177.3,51.2 L178.2,51.6 L179.1,51.5 L179.9,51 L180.8,51 L181.7,50.8 L182.6,51.1 L183.5,51 L184.4,50.8 L185.3,50.9 L186.1,50.7 L187,50.7 L187.9,50.4 L188.8,50.4 L189.7,50.6 L190.6,50.8" fill="none" stroke="#5ec45b" stroke-width="1.6" stroke-dasharray="1.4 1.3" stroke-linecap="butt"/>
<path d="M41.8,50.3 L42.7,50.3 L43.6,50.3 L44.5,50.3 L45.3,50.4 L46.2,50.4 L47.1,50.4 L48,50.3 L48.9,50.3 L49.8,50.6 L50.7,50.9 L51.5,50.6 L52.4,50.7 L53.3,50.6 L54.2,50.8 L55.1,51 L56,51.1 L56.9,51.4 L57.7,50.9 L58.6,51 L59.5,51.3 L60.4,51.4 L61.3,51.5 L62.2,52 L63.1,51.5 L63.9,51.7 L64.8,51.4 L65.7,51.9 L66.6,52 L67.5,52.6 L68.4,53.3 L69.3,52.6 L70.1,52.5 L71,53.3 L71.9,52.9 L72.8,52.9 L73.7,54 L74.6,54.1 L75.4,53.7 L76.3,54.5 L77.2,54.3 L78.1,55.6 L79,56.1 L79.9,56 L80.8,57 L81.6,57.5 L82.5,57 L83.4,57.6 L84.3,57.6 L85.2,58.8 L86.1,59.6 L87,60 L87.8,60.7 L88.7,59.9 L89.6,60.8 L90.5,61.1 L91.4,62.1 L92.3,62.2 L93.2,62.6 L94,63 L94.9,64 L95.8,64.5 L96.7,63.8 L97.6,64.4 L98.5,65 L99.4,65.6 L100.2,65.8 L101.1,66.2 L102,66.8 L102.9,66.1 L103.8,66.4 L104.7,67 L105.6,66.4 L106.4,67.2 L107.3,67.3 L108.2,66.4 L109.1,67.2 L110,67 L110.9,66.2 L111.8,65.9 L112.6,66.8 L113.5,66.9 L114.4,66.3 L115.3,66.5 L116.2,65.6 L117.1,66.3 L118,65.4 L118.8,65.6 L119.7,66.1 L120.6,65.8 L121.5,66.2 L122.4,65.3 L123.3,65.5 L124.2,64.4 L125,64.3 L125.9,64.5 L126.8,64.7 L127.7,64 L128.6,64.3 L129.5,63.1 L130.3,63.7 L131.2,63.2 L132.1,62.7 L133,62.8 L133.9,61.9 L134.8,61.9 L135.7,61.3 L136.5,61.1 L137.4,61.2 L138.3,61 L139.2,61.3 L140.1,61.1 L141,59.7 L141.9,59.8 L142.7,59.1 L143.6,59.5 L144.5,58.9 L145.4,58.7 L146.3,58.3 L147.2,58.2 L148.1,58.5 L148.9,58.1 L149.8,57.9 L150.7,57.8 L151.6,56.6 L152.5,56.7 L153.4,56.4 L154.3,55.2 L155.1,54.8 L156,54.2 L156.9,53.9 L157.8,54.9 L158.7,55 L159.6,55.4 L160.5,54.4 L161.3,53.8 L162.2,54 L163.1,53.8 L164,53.3 L164.9,52.9 L165.8,53.3 L166.7,52.6 L167.5,52.8 L168.4,52.5 L169.3,52.8 L170.2,53 L171.1,52.1 L172,51.8 L172.9,51.6 L173.7,52.2 L174.6,52.4 L175.5,52.3 L176.4,52.2 L177.3,52 L178.2,51.8 L179.1,51.9 L179.9,51.7 L180.8,51.3 L181.7,51.4 L182.6,51 L183.5,50.9 L184.4,50.8 L185.3,51 L186.1,50.9 L187,50.7 L187.9,50.8 L188.8,51.1 L189.7,50.6 L190.6,50.5" fill="none" stroke="#a9d53a" stroke-width="1.6" stroke-dasharray="1.4 1.3" stroke-linecap="butt"/>
<path d="M41.8,50.3 L42.7,50.3 L43.6,50.3 L44.5,50.3 L45.3,50.3 L46.2,50.3 L47.1,50.4 L48,50.4 L48.9,50.5 L49.8,50.3 L50.7,50.3 L51.5,50.6 L52.4,50.5 L53.3,50.6 L54.2,50.5 L55.1,50.4 L56,50.7 L56.9,51 L57.7,50.7 L58.6,50.9 L59.5,50.7 L60.4,50.8 L61.3,50.8 L62.2,50.8 L63.1,51 L63.9,51.4 L64.8,52 L65.7,51.8 L66.6,52 L67.5,52.1 L68.4,51.8 L69.3,52.6 L70.1,52.4 L71,53.4 L71.9,53.1 L72.8,52.8 L73.7,53.7 L74.6,53.8 L75.4,53.3 L76.3,53.8 L77.2,54.3 L78.1,55.3 L79,56.2 L79.9,56.4 L80.8,56.6 L81.6,57.2 L82.5,57.5 L83.4,58.2 L84.3,57.8 L85.2,57.8 L86.1,58.8 L87,59.5 L87.8,59.6 L88.7,60 L89.6,59.6 L90.5,60.7 L91.4,61.5 L92.3,61.1 L93.2,62.4 L94,62.6 L94.9,63.3 L95.8,63 L96.7,63.6 L97.6,63.7 L98.5,65 L99.4,64.9 L100.2,65.2 L101.1,65.8 L102,65.7 L102.9,65.7 L103.8,67 L104.7,67.5 L105.6,67.8 L106.4,68.3 L107.3,68.9 L108.2,68.8 L109.1,69 L110,68.3 L110.9,68.4 L111.8,69 L112.6,69 L113.5,68.7 L114.4,68.7 L115.3,69 L116.2,69.3 L117.1,69.5 L118,67.9 L118.8,67.4 L119.7,68.3 L120.6,67.5 L121.5,66.6 L122.4,66.8 L123.3,67.6 L124.2,67.2 L125,67 L125.9,67.3 L126.8,66.6 L127.7,67.1 L128.6,65.7 L129.5,65.3 L130.3,65 L131.2,64.2 L132.1,64.1 L133,64.6 L133.9,64.8 L134.8,64.9 L135.7,64.9 L136.5,63.5 L137.4,62.6 L138.3,62.9 L139.2,63 L140.1,62.2 L141,61.3 L141.9,60.5 L142.7,61.2 L143.6,60.4 L144.5,59.7 L145.4,59.4 L146.3,59.8 L147.2,60.1 L148.1,58.9 L148.9,59.1 L149.8,58.9 L150.7,58.4 L151.6,58.3 L152.5,57.3 L153.4,57.7 L154.3,58.1 L155.1,57.2 L156,56.6 L156.9,55.8 L157.8,55.4 L158.7,54.8 L159.6,54.3 L160.5,54.7 L161.3,54.8 L162.2,55.3 L163.1,55.2 L164,54.6 L164.9,55 L165.8,54.1 L166.7,54.4 L167.5,54 L168.4,52.9 L169.3,53.6 L170.2,53.9 L171.1,53.4 L172,53.4 L172.9,52.7 L173.7,53.1 L174.6,52.3 L175.5,51.8 L176.4,51.6 L177.3,51.8 L178.2,52 L179.1,51.7 L179.9,51.6 L180.8,51.6 L181.7,51.7 L182.6,51.5 L183.5,51.3 L184.4,51 L185.3,50.7 L186.1,51.1 L187,51.2 L187.9,51.1 L188.8,51 L189.7,51 L190.6,51.1" fill="none" stroke="#f6e01f" stroke-width="1.6" stroke-dasharray="1.4 1.3" stroke-linecap="butt"/>
<path d="M41.8,50.2 L42.7,50.2 L43.6,50.3 L44.5,50.3 L45.3,50.3 L46.2,50.3 L47.1,50.3 L48,49.9 L48.9,50.1 L49.8,50.1 L50.7,50.4 L51.5,50.3 L52.4,50.3 L53.3,50.5 L54.2,50.5 L55.1,50.3 L56,50.4 L56.9,50.4 L57.7,50.7 L58.6,50.8 L59.5,50.6 L60.4,51 L61.3,51.2 L62.2,51 L63.1,51.1 L63.9,51.5 L64.8,51.3 L65.7,51.5 L66.6,51.5 L67.5,51.7 L68.4,51.8 L69.3,51.9 L70.1,52.2 L71,52.9 L71.9,53.2 L72.8,52.6 L73.7,52.9 L74.6,53.8 L75.4,53.3 L76.3,54.1 L77.2,55 L78.1,54.9 L79,55.5 L79.9,55.6 L80.8,55.7 L81.6,56.6 L82.5,56.7 L83.4,57.7 L84.3,57.8 L85.2,58 L86.1,59.2 L87,59.6 L87.8,60.6 L88.7,60.8 L89.6,60.5 L90.5,61.2 L91.4,61.6 L92.3,62 L93.2,63.7 L94,63.4 L94.9,64 L95.8,65.7 L96.7,65.7 L97.6,66.8 L98.5,68.1 L99.4,67.7 L100.2,68.5 L101.1,68.9 L102,70.6 L102.9,70.6 L103.8,72.2 L104.7,72.9 L105.6,73.4 L106.4,74.5 L107.3,74.4 L108.2,75.2 L109.1,75.7 L110,75.4 L110.9,76 L111.8,75.7 L112.6,76.1 L113.5,76 L114.4,76.6 L115.3,76.4 L116.2,76.5 L117.1,77.7 L118,77.4 L118.8,77.9 L119.7,77.4 L120.6,77.3 L121.5,76.9 L122.4,77.9 L123.3,77.8 L124.2,77.1 L125,76.3 L125.9,76.2 L126.8,77.1 L127.7,76.5 L128.6,76.9 L129.5,76.2 L130.3,75.2 L131.2,75.7 L132.1,74.4 L133,74 L133.9,74.2 L134.8,74.3 L135.7,73.6 L136.5,72.4 L137.4,72 L138.3,72.3 L139.2,72.4 L140.1,72.1 L141,70.4 L141.9,70.4 L142.7,69.5 L143.6,69.2 L144.5,68.2 L145.4,67.9 L146.3,67.9 L147.2,66.3 L148.1,65.9 L148.9,65.1 L149.8,64.3 L150.7,63.4 L151.6,64.2 L152.5,63.9 L153.4,63.7 L154.3,62.8 L155.1,61.5 L156,60.7 L156.9,61.4 L157.8,61.3 L158.7,59.9 L159.6,59.2 L160.5,59.2 L161.3,58.8 L162.2,58.9 L163.1,57.6 L164,57.6 L164.9,56.5 L165.8,56.3 L166.7,56.9 L167.5,56.6 L168.4,56.5 L169.3,55.2 L170.2,54.9 L171.1,55.5 L172,55.5 L172.9,55 L173.7,54.5 L174.6,53.9 L175.5,53.8 L176.4,53.7 L177.3,54.1 L178.2,53.3 L179.1,53.2 L179.9,53.4 L180.8,52.9 L181.7,51.9 L182.6,52.5 L183.5,52.5 L184.4,52 L185.3,52 L186.1,52 L187,51.7 L187.9,51.7 L188.8,51.4 L189.7,51.3 L190.6,50.8" fill="none" stroke="#f8c02c" stroke-width="1.6" stroke-dasharray="1.4 1.3" stroke-linecap="butt"/>
</g>
<g clip-path="url(#clipa2)">
<path d="M41.8,168 L42.9,167.8 L43.9,167.5 L45,167.2 L46.1,166.8 L47.1,166.2 L48.2,165.5 L49.2,164.7 L50.3,163.6 L51.4,162.3 L52.4,160.9 L53.5,159.1 L54.6,157.1 L55.6,154.9 L56.7,152.4 L57.7,149.7 L58.8,146.7 L59.9,143.6 L60.9,140.4 L62,137 L63.1,133.6 L64.1,130.2 L65.2,126.9 L66.2,123.6 L67.3,120.6 L68.4,117.7 L69.4,115.1 L70.5,112.8 L71.6,110.8 L72.6,109.1 L73.7,107.7 L74.7,106.6 L75.8,105.8 L76.9,105.2 L77.9,104.9 L79,104.8 L80.1,104.7 L81.1,104.8 L82.2,104.9 L83.2,105.2 L84.3,105.5 L85.4,105.9 L86.4,106.3 L87.5,106.9 L88.6,107.5 L89.6,108.3 L90.7,109.1 L91.7,109.9 L92.8,110.9 L93.9,111.9 L94.9,112.9 L96,114.1 L97.1,115.2 L98.1,116.5 L99.2,117.7 L100.2,119 L101.3,120.4 L102.4,121.7 L103.4,123.1 L104.5,124.5 L105.6,125.9 L106.6,127.4 L107.7,128.8 L108.7,130.3 L109.8,131.7 L110.9,133.2 L111.9,134.6 L113,136 L114.1,137.4 L115.1,138.8 L116.2,140.2 L117.2,141.5 L118.3,142.8 L119.4,144.1 L120.4,145.3 L121.5,146.6 L122.6,147.7 L123.6,148.9 L124.7,150 L125.7,151.1 L126.8,152.1 L127.9,153.1 L128.9,154 L130,154.9 L131.1,155.8 L132.1,156.6 L133.2,157.4 L134.2,158.2 L135.3,158.9 L136.4,159.6 L137.4,160.2 L138.5,160.8 L139.6,161.4 L140.6,161.9 L141.7,162.4 L142.7,162.9 L143.8,163.3 L144.9,163.7 L145.9,164.1 L147,164.5 L148.1,164.8 L149.1,165.1 L150.2,165.4 L151.2,165.7 L152.3,165.9 L153.4,166.2 L154.4,166.4 L155.5,166.6 L156.6,166.7 L157.6,166.9 L158.7,167 L159.7,167.2 L160.8,167.3 L161.9,167.4 L162.9,167.5 L164,167.6 L165.1,167.7 L166.1,167.8 L167.2,167.8 L168.2,167.9 L169.3,168 L170.4,168 L171.4,168 L172.5,168.1 L173.6,168.1 L174.6,168.2 L175.7,168.2 L176.8,168.2 L177.8,168.2 L178.9,168.3 L179.9,168.3 L181,168.3 L182.1,168.3 L183.1,168.3 L184.2,168.3 L185.3,168.3 L186.3,168.3 L187.4,168.4 L188.4,168.4 L189.5,168.4 L190.6,168.4" fill="none" stroke="#33628d" stroke-width="1.5" stroke-linejoin="round"/>
<path d="M41.8,168.2 L42.9,168.1 L43.9,168 L45,167.8 L46.1,167.5 L47.1,167.2 L48.2,166.8 L49.2,166.2 L50.3,165.6 L51.4,164.7 L52.4,163.7 L53.5,162.4 L54.6,161 L55.6,159.3 L56.7,157.3 L57.7,155.1 L58.8,152.7 L59.9,150 L60.9,147.1 L62,144 L63.1,140.8 L64.1,137.5 L65.2,134.1 L66.2,130.8 L67.3,127.5 L68.4,124.3 L69.4,121.3 L70.5,118.5 L71.6,115.9 L72.6,113.6 L73.7,111.6 L74.7,110 L75.8,108.6 L76.9,107.5 L77.9,106.7 L79,106.2 L80.1,105.9 L81.1,105.7 L82.2,105.7 L83.2,105.7 L84.3,105.9 L85.4,106.1 L86.4,106.4 L87.5,106.8 L88.6,107.3 L89.6,107.8 L90.7,108.5 L91.7,109.2 L92.8,110 L93.9,110.8 L94.9,111.7 L96,112.7 L97.1,113.8 L98.1,114.9 L99.2,116 L100.2,117.2 L101.3,118.5 L102.4,119.8 L103.4,121.1 L104.5,122.4 L105.6,123.8 L106.6,125.2 L107.7,126.6 L108.7,128 L109.8,129.4 L110.9,130.8 L111.9,132.3 L113,133.7 L114.1,135.1 L115.1,136.5 L116.2,137.9 L117.2,139.2 L118.3,140.6 L119.4,141.9 L120.4,143.2 L121.5,144.5 L122.6,145.7 L123.6,146.9 L124.7,148 L125.7,149.2 L126.8,150.3 L127.9,151.3 L128.9,152.3 L130,153.3 L131.1,154.2 L132.1,155.1 L133.2,156 L134.2,156.8 L135.3,157.6 L136.4,158.3 L137.4,159 L138.5,159.7 L139.6,160.3 L140.6,160.9 L141.7,161.5 L142.7,162 L143.8,162.5 L144.9,163 L145.9,163.4 L147,163.8 L148.1,164.2 L149.1,164.6 L150.2,164.9 L151.2,165.2 L152.3,165.5 L153.4,165.7 L154.4,166 L155.5,166.2 L156.6,166.4 L157.6,166.6 L158.7,166.8 L159.7,166.9 L160.8,167.1 L161.9,167.2 L162.9,167.3 L164,167.4 L165.1,167.5 L166.1,167.6 L167.2,167.7 L168.2,167.8 L169.3,167.8 L170.4,167.9 L171.4,168 L172.5,168 L173.6,168.1 L174.6,168.1 L175.7,168.1 L176.8,168.2 L177.8,168.2 L178.9,168.2 L179.9,168.2 L181,168.3 L182.1,168.3 L183.1,168.3 L184.2,168.3 L185.3,168.3 L186.3,168.3 L187.4,168.3 L188.4,168.3 L189.5,168.4 L190.6,168.4" fill="none" stroke="#33628d" stroke-width="1.6" stroke-dasharray="1.4 1.3" stroke-linecap="butt"/>
<path d="M41.8,168.3 L42.9,168.3 L43.9,168.3 L45,168.2 L46.1,168.1 L47.1,167.9 L48.2,167.7 L49.2,167.5 L50.3,167.1 L51.4,166.6 L52.4,166 L53.5,165.3 L54.6,164.3 L55.6,163.2 L56.7,161.8 L57.7,160.2 L58.8,158.3 L59.9,156.1 L60.9,153.7 L62,151 L63.1,148.1 L64.1,144.9 L65.2,141.6 L66.2,138.2 L67.3,134.7 L68.4,131.2 L69.4,127.7 L70.5,124.4 L71.6,121.2 L72.6,118.2 L73.7,115.4 L74.7,112.9 L75.8,110.8 L76.9,109 L77.9,107.5 L79,106.3 L80.1,105.5 L81.1,104.9 L82.2,104.5 L83.2,104.4 L84.3,104.4 L85.4,104.4 L86.4,104.5 L87.5,104.6 L88.6,104.8 L89.6,105.1 L90.7,105.4 L91.7,105.8 L92.8,106.2 L93.9,106.7 L94.9,107.3 L96,107.9 L97.1,108.5 L98.1,109.2 L99.2,110 L100.2,110.8 L101.3,111.6 L102.4,112.5 L103.4,113.4 L104.5,114.3 L105.6,115.3 L106.6,116.3 L107.7,117.4 L108.7,118.4 L109.8,119.5 L110.9,120.6 L111.9,121.7 L113,122.9 L114.1,124 L115.1,125.2 L116.2,126.4 L117.2,127.6 L118.3,128.8 L119.4,130 L120.4,131.1 L121.5,132.3 L122.6,133.5 L123.6,134.7 L124.7,135.8 L125.7,137 L126.8,138.1 L127.9,139.3 L128.9,140.4 L130,141.5 L131.1,142.5 L132.1,143.6 L133.2,144.6 L134.2,145.7 L135.3,146.6 L136.4,147.6 L137.4,148.6 L138.5,149.5 L139.6,150.4 L140.6,151.2 L141.7,152.1 L142.7,152.9 L143.8,153.7 L144.9,154.4 L145.9,155.2 L147,155.9 L148.1,156.5 L149.1,157.2 L150.2,157.8 L151.2,158.4 L152.3,159 L153.4,159.6 L154.4,160.1 L155.5,160.6 L156.6,161.1 L157.6,161.5 L158.7,162 L159.7,162.4 L160.8,162.8 L161.9,163.1 L162.9,163.5 L164,163.8 L165.1,164.1 L166.1,164.4 L167.2,164.7 L168.2,165 L169.3,165.2 L170.4,165.4 L171.4,165.7 L172.5,165.9 L173.6,166.1 L174.6,166.2 L175.7,166.4 L176.8,166.6 L177.8,166.7 L178.9,166.8 L179.9,167 L181,167.1 L182.1,167.2 L183.1,167.3 L184.2,167.4 L185.3,167.5 L186.3,167.5 L187.4,167.6 L188.4,167.7 L189.5,167.8 L190.6,167.8" fill="none" stroke="#2a7b8e" stroke-width="1.5" stroke-linejoin="round"/>
<path d="M41.8,168.4 L42.9,168.4 L43.9,168.3 L45,168.3 L46.1,168.3 L47.1,168.2 L48.2,168.1 L49.2,167.9 L50.3,167.7 L51.4,167.5 L52.4,167.1 L53.5,166.7 L54.6,166.1 L55.6,165.3 L56.7,164.4 L57.7,163.2 L58.8,161.9 L59.9,160.3 L60.9,158.4 L62,156.3 L63.1,153.9 L64.1,151.3 L65.2,148.4 L66.2,145.3 L67.3,142 L68.4,138.7 L69.4,135.2 L70.5,131.8 L71.6,128.3 L72.6,125 L73.7,121.9 L74.7,118.9 L75.8,116.2 L76.9,113.8 L77.9,111.7 L79,109.9 L80.1,108.4 L81.1,107.3 L82.2,106.4 L83.2,105.8 L84.3,105.5 L85.4,105.3 L86.4,105.3 L87.5,105.3 L88.6,105.4 L89.6,105.6 L90.7,105.8 L91.7,106.1 L92.8,106.4 L93.9,106.7 L94.9,107.2 L96,107.7 L97.1,108.2 L98.1,108.8 L99.2,109.4 L100.2,110.1 L101.3,110.9 L102.4,111.6 L103.4,112.4 L104.5,113.3 L105.6,114.2 L106.6,115.1 L107.7,116.1 L108.7,117.1 L109.8,118.1 L110.9,119.2 L111.9,120.2 L113,121.3 L114.1,122.4 L115.1,123.6 L116.2,124.7 L117.2,125.9 L118.3,127 L119.4,128.2 L120.4,129.4 L121.5,130.5 L122.6,131.7 L123.6,132.9 L124.7,134 L125.7,135.2 L126.8,136.3 L127.9,137.5 L128.9,138.6 L130,139.7 L131.1,140.8 L132.1,141.9 L133.2,142.9 L134.2,144 L135.3,145 L136.4,146 L137.4,147 L138.5,147.9 L139.6,148.8 L140.6,149.8 L141.7,150.6 L142.7,151.5 L143.8,152.3 L144.9,153.1 L145.9,153.9 L147,154.6 L148.1,155.4 L149.1,156.1 L150.2,156.7 L151.2,157.4 L152.3,158 L153.4,158.6 L154.4,159.1 L155.5,159.7 L156.6,160.2 L157.6,160.7 L158.7,161.2 L159.7,161.6 L160.8,162 L161.9,162.5 L162.9,162.8 L164,163.2 L165.1,163.6 L166.1,163.9 L167.2,164.2 L168.2,164.5 L169.3,164.8 L170.4,165 L171.4,165.3 L172.5,165.5 L173.6,165.7 L174.6,165.9 L175.7,166.1 L176.8,166.3 L177.8,166.4 L178.9,166.6 L179.9,166.7 L181,166.9 L182.1,167 L183.1,167.1 L184.2,167.2 L185.3,167.3 L186.3,167.4 L187.4,167.5 L188.4,167.6 L189.5,167.6 L190.6,167.7" fill="none" stroke="#2a7b8e" stroke-width="1.6" stroke-dasharray="1.4 1.3" stroke-linecap="butt"/>
<path d="M41.8,168.4 L42.9,168.4 L43.9,168.3 L45,168.3 L46.1,168.3 L47.1,168.2 L48.2,168.1 L49.2,168 L50.3,167.8 L51.4,167.6 L52.4,167.3 L53.5,166.9 L54.6,166.4 L55.6,165.7 L56.7,164.9 L57.7,163.9 L58.8,162.7 L59.9,161.3 L60.9,159.6 L62,157.7 L63.1,155.5 L64.1,153 L65.2,150.3 L66.2,147.4 L67.3,144.3 L68.4,141 L69.4,137.6 L70.5,134.2 L71.6,130.7 L72.6,127.3 L73.7,124 L74.7,120.8 L75.8,117.8 L76.9,115.1 L77.9,112.6 L79,110.5 L80.1,108.6 L81.1,107.1 L82.2,105.9 L83.2,105 L84.3,104.4 L85.4,104 L86.4,103.8 L87.5,103.7 L88.6,103.7 L89.6,103.8 L90.7,103.9 L91.7,104.1 L92.8,104.3 L93.9,104.6 L94.9,105 L96,105.4 L97.1,105.9 L98.1,106.4 L99.2,106.9 L100.2,107.5 L101.3,108.2 L102.4,108.9 L103.4,109.7 L104.5,110.5 L105.6,111.3 L106.6,112.2 L107.7,113.1 L108.7,114 L109.8,115 L110.9,116 L111.9,117.1 L113,118.1 L114.1,119.2 L115.1,120.3 L116.2,121.4 L117.2,122.6 L118.3,123.7 L119.4,124.9 L120.4,126 L121.5,127.2 L122.6,128.4 L123.6,129.6 L124.7,130.7 L125.7,131.9 L126.8,133.1 L127.9,134.2 L128.9,135.4 L130,136.5 L131.1,137.7 L132.1,138.8 L133.2,139.9 L134.2,141 L135.3,142 L136.4,143.1 L137.4,144.1 L138.5,145.1 L139.6,146.1 L140.6,147.1 L141.7,148 L142.7,148.9 L143.8,149.8 L144.9,150.7 L145.9,151.5 L147,152.4 L148.1,153.1 L149.1,153.9 L150.2,154.7 L151.2,155.4 L152.3,156.1 L153.4,156.7 L154.4,157.3 L155.5,158 L156.6,158.5 L157.6,159.1 L158.7,159.6 L159.7,160.2 L160.8,160.6 L161.9,161.1 L162.9,161.6 L164,162 L165.1,162.4 L166.1,162.8 L167.2,163.1 L168.2,163.5 L169.3,163.8 L170.4,164.1 L171.4,164.4 L172.5,164.7 L173.6,164.9 L174.6,165.2 L175.7,165.4 L176.8,165.6 L177.8,165.8 L178.9,166 L179.9,166.2 L181,166.4 L182.1,166.5 L183.1,166.7 L184.2,166.8 L185.3,166.9 L186.3,167 L187.4,167.2 L188.4,167.3 L189.5,167.3 L190.6,167.4" fill="none" stroke="#20998b" stroke-width="1.5" stroke-linejoin="round"/>
<path d="M41.8,168.4 L42.9,168.4 L43.9,168.4 L45,168.4 L46.1,168.3 L47.1,168.3 L48.2,168.3 L49.2,168.2 L50.3,168.1 L51.4,168 L52.4,167.8 L53.5,167.6 L54.6,167.3 L55.6,166.9 L56.7,166.4 L57.7,165.8 L58.8,165 L59.9,164 L60.9,162.8 L62,161.4 L63.1,159.7 L64.1,157.8 L65.2,155.7 L66.2,153.2 L67.3,150.6 L68.4,147.7 L69.4,144.7 L70.5,141.4 L71.6,138.1 L72.6,134.7 L73.7,131.3 L74.7,127.9 L75.8,124.6 L76.9,121.5 L77.9,118.6 L79,115.9 L80.1,113.5 L81.1,111.4 L82.2,109.5 L83.2,108 L84.3,106.8 L85.4,105.9 L86.4,105.3 L87.5,104.9 L88.6,104.7 L89.6,104.7 L90.7,104.7 L91.7,104.8 L92.8,104.9 L93.9,105.1 L94.9,105.3 L96,105.6 L97.1,105.9 L98.1,106.3 L99.2,106.8 L100.2,107.3 L101.3,107.9 L102.4,108.5 L103.4,109.1 L104.5,109.8 L105.6,110.6 L106.6,111.3 L107.7,112.2 L108.7,113 L109.8,113.9 L110.9,114.9 L111.9,115.8 L113,116.8 L114.1,117.8 L115.1,118.9 L116.2,119.9 L117.2,121 L118.3,122.1 L119.4,123.2 L120.4,124.4 L121.5,125.5 L122.6,126.7 L123.6,127.8 L124.7,129 L125.7,130.1 L126.8,131.3 L127.9,132.4 L128.9,133.6 L130,134.7 L131.1,135.9 L132.1,137 L133.2,138.1 L134.2,139.2 L135.3,140.3 L136.4,141.4 L137.4,142.4 L138.5,143.5 L139.6,144.5 L140.6,145.5 L141.7,146.4 L142.7,147.4 L143.8,148.3 L144.9,149.2 L145.9,150.1 L147,151 L148.1,151.8 L149.1,152.6 L150.2,153.4 L151.2,154.1 L152.3,154.9 L153.4,155.6 L154.4,156.2 L155.5,156.9 L156.6,157.5 L157.6,158.1 L158.7,158.7 L159.7,159.2 L160.8,159.8 L161.9,160.3 L162.9,160.8 L164,161.2 L165.1,161.7 L166.1,162.1 L167.2,162.5 L168.2,162.9 L169.3,163.2 L170.4,163.6 L171.4,163.9 L172.5,164.2 L173.6,164.5 L174.6,164.7 L175.7,165 L176.8,165.2 L177.8,165.5 L178.9,165.7 L179.9,165.9 L181,166.1 L182.1,166.2 L183.1,166.4 L184.2,166.5 L185.3,166.7 L186.3,166.8 L187.4,166.9 L188.4,167.1 L189.5,167.2 L190.6,167.3" fill="none" stroke="#20998b" stroke-width="1.6" stroke-dasharray="1.4 1.3" stroke-linecap="butt"/>
<path d="M41.8,168.4 L42.9,168.4 L43.9,168.4 L45,168.4 L46.1,168.4 L47.1,168.4 L48.2,168.4 L49.2,168.4 L50.3,168.3 L51.4,168.3 L52.4,168.2 L53.5,168.1 L54.6,168 L55.6,167.8 L56.7,167.6 L57.7,167.3 L58.8,166.8 L59.9,166.3 L60.9,165.6 L62,164.7 L63.1,163.6 L64.1,162.2 L65.2,160.6 L66.2,158.8 L67.3,156.6 L68.4,154.2 L69.4,151.5 L70.5,148.6 L71.6,145.4 L72.6,142 L73.7,138.5 L74.7,134.9 L75.8,131.3 L76.9,127.8 L77.9,124.3 L79,121 L80.1,118 L81.1,115.2 L82.2,112.7 L83.2,110.5 L84.3,108.7 L85.4,107.2 L86.4,106.1 L87.5,105.3 L88.6,104.8 L89.6,104.5 L90.7,104.4 L91.7,104.4 L92.8,104.4 L93.9,104.5 L94.9,104.7 L96,104.9 L97.1,105.2 L98.1,105.5 L99.2,105.9 L100.2,106.3 L101.3,106.8 L102.4,107.4 L103.4,108 L104.5,108.6 L105.6,109.3 L106.6,110 L107.7,110.8 L108.7,111.6 L109.8,112.5 L110.9,113.3 L111.9,114.3 L113,115.2 L114.1,116.2 L115.1,117.2 L116.2,118.3 L117.2,119.3 L118.3,120.4 L119.4,121.5 L120.4,122.6 L121.5,123.8 L122.6,124.9 L123.6,126.1 L124.7,127.2 L125.7,128.4 L126.8,129.6 L127.9,130.7 L128.9,131.9 L130,133 L131.1,134.2 L132.1,135.3 L133.2,136.5 L134.2,137.6 L135.3,138.7 L136.4,139.8 L137.4,140.9 L138.5,142 L139.6,143 L140.6,144 L141.7,145 L142.7,146 L143.8,147 L144.9,147.9 L145.9,148.8 L147,149.7 L148.1,150.6 L149.1,151.4 L150.2,152.3 L151.2,153 L152.3,153.8 L153.4,154.5 L154.4,155.3 L155.5,156 L156.6,156.6 L157.6,157.3 L158.7,157.9 L159.7,158.5 L160.8,159 L161.9,159.6 L162.9,160.1 L164,160.6 L165.1,161 L166.1,161.5 L167.2,161.9 L168.2,162.3 L169.3,162.7 L170.4,163.1 L171.4,163.4 L172.5,163.7 L173.6,164.1 L174.6,164.4 L175.7,164.6 L176.8,164.9 L177.8,165.1 L178.9,165.4 L179.9,165.6 L181,165.8 L182.1,166 L183.1,166.2 L184.2,166.3 L185.3,166.5 L186.3,166.6 L187.4,166.8 L188.4,166.9 L189.5,167 L190.6,167.1" fill="none" stroke="#28b07e" stroke-width="1.5" stroke-linejoin="round"/>
<path d="M41.8,168.4 L42.9,168.4 L43.9,168.4 L45,168.4 L46.1,168.4 L47.1,168.4 L48.2,168.4 L49.2,168.4 L50.3,168.4 L51.4,168.4 L52.4,168.3 L53.5,168.3 L54.6,168.2 L55.6,168.1 L56.7,168 L57.7,167.8 L58.8,167.6 L59.9,167.3 L60.9,166.9 L62,166.3 L63.1,165.6 L64.1,164.7 L65.2,163.6 L66.2,162.3 L67.3,160.8 L68.4,158.9 L69.4,156.8 L70.5,154.4 L71.6,151.8 L72.6,148.9 L73.7,145.7 L74.7,142.4 L75.8,139 L76.9,135.4 L77.9,131.9 L79,128.4 L80.1,125 L81.1,121.7 L82.2,118.7 L83.2,116 L84.3,113.5 L85.4,111.4 L86.4,109.6 L87.5,108.2 L88.6,107 L89.6,106.2 L90.7,105.7 L91.7,105.4 L92.8,105.3 L93.9,105.3 L94.9,105.4 L96,105.5 L97.1,105.6 L98.1,105.8 L99.2,106.1 L100.2,106.4 L101.3,106.8 L102.4,107.3 L103.4,107.7 L104.5,108.3 L105.6,108.9 L106.6,109.5 L107.7,110.2 L108.7,110.9 L109.8,111.7 L110.9,112.5 L111.9,113.3 L113,114.2 L114.1,115.1 L115.1,116 L116.2,117 L117.2,118 L118.3,119 L119.4,120.1 L120.4,121.1 L121.5,122.2 L122.6,123.3 L123.6,124.4 L124.7,125.6 L125.7,126.7 L126.8,127.8 L127.9,129 L128.9,130.1 L130,131.3 L131.1,132.4 L132.1,133.6 L133.2,134.7 L134.2,135.8 L135.3,137 L136.4,138.1 L137.4,139.2 L138.5,140.2 L139.6,141.3 L140.6,142.4 L141.7,143.4 L142.7,144.4 L143.8,145.4 L144.9,146.4 L145.9,147.3 L147,148.2 L148.1,149.1 L149.1,150 L150.2,150.9 L151.2,151.7 L152.3,152.5 L153.4,153.3 L154.4,154 L155.5,154.8 L156.6,155.5 L157.6,156.1 L158.7,156.8 L159.7,157.4 L160.8,158 L161.9,158.6 L162.9,159.2 L164,159.7 L165.1,160.2 L166.1,160.7 L167.2,161.1 L168.2,161.6 L169.3,162 L170.4,162.4 L171.4,162.8 L172.5,163.2 L173.6,163.5 L174.6,163.8 L175.7,164.1 L176.8,164.4 L177.8,164.7 L178.9,164.9 L179.9,165.2 L181,165.4 L182.1,165.6 L183.1,165.8 L184.2,166 L185.3,166.2 L186.3,166.4 L187.4,166.5 L188.4,166.7 L189.5,166.8 L190.6,166.9" fill="none" stroke="#28b07e" stroke-width="1.6" stroke-dasharray="1.4 1.3" stroke-linecap="butt"/>
<path d="M41.8,168.4 L42.9,168.4 L43.9,168.3 L45,168.3 L46.1,168.3 L47.1,168.3 L48.2,168.2 L49.2,168.2 L50.3,168.1 L51.4,168 L52.4,167.9 L53.5,167.8 L54.6,167.6 L55.6,167.5 L56.7,167.2 L57.7,167 L58.8,166.7 L59.9,166.3 L60.9,165.8 L62,165.3 L63.1,164.7 L64.1,164.1 L65.2,163.3 L66.2,162.4 L67.3,161.4 L68.4,160.3 L69.4,159.1 L70.5,157.8 L71.6,156.4 L72.6,154.8 L73.7,153.1 L74.7,151.3 L75.8,149.4 L76.9,147.4 L77.9,145.3 L79,143.1 L80.1,140.8 L81.1,138.5 L82.2,136.1 L83.2,133.7 L84.3,131.2 L85.4,128.8 L86.4,126.4 L87.5,124 L88.6,121.7 L89.6,119.5 L90.7,117.3 L91.7,115.3 L92.8,113.3 L93.9,111.5 L94.9,109.8 L96,108.3 L97.1,106.9 L98.1,105.6 L99.2,104.5 L100.2,103.6 L101.3,102.8 L102.4,102.1 L103.4,101.5 L104.5,101.1 L105.6,100.8 L106.6,100.6 L107.7,100.5 L108.7,100.4 L109.8,100.4 L110.9,100.5 L111.9,100.6 L113,100.8 L114.1,101.1 L115.1,101.4 L116.2,101.8 L117.2,102.3 L118.3,102.9 L119.4,103.6 L120.4,104.3 L121.5,105.1 L122.6,105.9 L123.6,106.8 L124.7,107.8 L125.7,108.8 L126.8,109.8 L127.9,110.9 L128.9,112.1 L130,113.3 L131.1,114.5 L132.1,115.8 L133.2,117.1 L134.2,118.4 L135.3,119.8 L136.4,121.1 L137.4,122.5 L138.5,123.9 L139.6,125.3 L140.6,126.7 L141.7,128.1 L142.7,129.5 L143.8,130.9 L144.9,132.3 L145.9,133.7 L147,135 L148.1,136.4 L149.1,137.7 L150.2,139 L151.2,140.3 L152.3,141.6 L153.4,142.8 L154.4,144 L155.5,145.2 L156.6,146.3 L157.6,147.4 L158.7,148.5 L159.7,149.6 L160.8,150.6 L161.9,151.6 L162.9,152.5 L164,153.4 L165.1,154.3 L166.1,155.1 L167.2,155.9 L168.2,156.7 L169.3,157.4 L170.4,158.1 L171.4,158.8 L172.5,159.4 L173.6,160 L174.6,160.6 L175.7,161.1 L176.8,161.6 L177.8,162.1 L178.9,162.6 L179.9,163 L181,163.4 L182.1,163.8 L183.1,164.1 L184.2,164.5 L185.3,164.8 L186.3,165.1 L187.4,165.3 L188.4,165.6 L189.5,165.8 L190.6,166" fill="none" stroke="#5ec45b" stroke-width="1.5" stroke-linejoin="round"/>
<path d="M41.8,168.4 L42.9,168.4 L43.9,168.4 L45,168.4 L46.1,168.3 L47.1,168.3 L48.2,168.3 L49.2,168.3 L50.3,168.2 L51.4,168.2 L52.4,168.1 L53.5,168 L54.6,167.9 L55.6,167.8 L56.7,167.7 L57.7,167.5 L58.8,167.3 L59.9,167 L60.9,166.7 L62,166.3 L63.1,165.9 L64.1,165.4 L65.2,164.8 L66.2,164.1 L67.3,163.4 L68.4,162.5 L69.4,161.5 L70.5,160.5 L71.6,159.3 L72.6,158 L73.7,156.6 L74.7,155 L75.8,153.4 L76.9,151.6 L77.9,149.7 L79,147.7 L80.1,145.6 L81.1,143.5 L82.2,141.2 L83.2,138.9 L84.3,136.6 L85.4,134.2 L86.4,131.8 L87.5,129.4 L88.6,127 L89.6,124.7 L90.7,122.4 L91.7,120.2 L92.8,118.1 L93.9,116.1 L94.9,114.2 L96,112.4 L97.1,110.7 L98.1,109.2 L99.2,107.8 L100.2,106.6 L101.3,105.5 L102.4,104.5 L103.4,103.7 L104.5,103.1 L105.6,102.5 L106.6,102.1 L107.7,101.8 L108.7,101.6 L109.8,101.5 L110.9,101.5 L111.9,101.5 L113,101.5 L114.1,101.6 L115.1,101.8 L116.2,102.1 L117.2,102.4 L118.3,102.8 L119.4,103.3 L120.4,103.9 L121.5,104.5 L122.6,105.2 L123.6,106 L124.7,106.8 L125.7,107.7 L126.8,108.7 L127.9,109.7 L128.9,110.7 L130,111.8 L131.1,112.9 L132.1,114.1 L133.2,115.3 L134.2,116.6 L135.3,117.9 L136.4,119.2 L137.4,120.5 L138.5,121.8 L139.6,123.2 L140.6,124.6 L141.7,126 L142.7,127.3 L143.8,128.7 L144.9,130.1 L145.9,131.5 L147,132.8 L148.1,134.2 L149.1,135.5 L150.2,136.9 L151.2,138.2 L152.3,139.5 L153.4,140.7 L154.4,142 L155.5,143.2 L156.6,144.4 L157.6,145.5 L158.7,146.7 L159.7,147.8 L160.8,148.8 L161.9,149.9 L162.9,150.9 L164,151.8 L165.1,152.7 L166.1,153.6 L167.2,154.5 L168.2,155.3 L169.3,156.1 L170.4,156.9 L171.4,157.6 L172.5,158.3 L173.6,158.9 L174.6,159.5 L175.7,160.1 L176.8,160.7 L177.8,161.2 L178.9,161.7 L179.9,162.2 L181,162.7 L182.1,163.1 L183.1,163.5 L184.2,163.8 L185.3,164.2 L186.3,164.5 L187.4,164.8 L188.4,165.1 L189.5,165.4 L190.6,165.6" fill="none" stroke="#5ec45b" stroke-width="1.6" stroke-dasharray="1.4 1.3" stroke-linecap="butt"/>
<path d="M41.8,168.4 L42.9,168.4 L43.9,168.4 L45,168.4 L46.1,168.4 L47.1,168.4 L48.2,168.4 L49.2,168.3 L50.3,168.3 L51.4,168.3 L52.4,168.2 L53.5,168.2 L54.6,168.1 L55.6,168 L56.7,167.9 L57.7,167.8 L58.8,167.6 L59.9,167.4 L60.9,167.2 L62,166.9 L63.1,166.5 L64.1,166.1 L65.2,165.6 L66.2,165 L67.3,164.4 L68.4,163.6 L69.4,162.7 L70.5,161.8 L71.6,160.6 L72.6,159.4 L73.7,158.1 L74.7,156.6 L75.8,154.9 L76.9,153.2 L77.9,151.3 L79,149.3 L80.1,147.2 L81.1,145 L82.2,142.7 L83.2,140.3 L84.3,137.8 L85.4,135.3 L86.4,132.8 L87.5,130.3 L88.6,127.8 L89.6,125.3 L90.7,122.9 L91.7,120.5 L92.8,118.2 L93.9,116.1 L94.9,114 L96,112.1 L97.1,110.4 L98.1,108.8 L99.2,107.3 L100.2,106.1 L101.3,104.9 L102.4,104 L103.4,103.2 L104.5,102.5 L105.6,102 L106.6,101.6 L107.7,101.4 L108.7,101.2 L109.8,101.1 L110.9,101.1 L111.9,101.1 L113,101.2 L114.1,101.4 L115.1,101.6 L116.2,101.9 L117.2,102.3 L118.3,102.8 L119.4,103.3 L120.4,104 L121.5,104.6 L122.6,105.4 L123.6,106.2 L124.7,107.1 L125.7,108 L126.8,109 L127.9,110 L128.9,111.1 L130,112.3 L131.1,113.4 L132.1,114.6 L133.2,115.9 L134.2,117.2 L135.3,118.5 L136.4,119.8 L137.4,121.1 L138.5,122.5 L139.6,123.9 L140.6,125.3 L141.7,126.6 L142.7,128 L143.8,129.4 L144.9,130.8 L145.9,132.2 L147,133.6 L148.1,134.9 L149.1,136.3 L150.2,137.6 L151.2,138.9 L152.3,140.2 L153.4,141.4 L154.4,142.7 L155.5,143.9 L156.6,145 L157.6,146.2 L158.7,147.3 L159.7,148.4 L160.8,149.4 L161.9,150.4 L162.9,151.4 L164,152.3 L165.1,153.3 L166.1,154.1 L167.2,155 L168.2,155.8 L169.3,156.5 L170.4,157.3 L171.4,158 L172.5,158.7 L173.6,159.3 L174.6,159.9 L175.7,160.5 L176.8,161 L177.8,161.5 L178.9,162 L179.9,162.5 L181,162.9 L182.1,163.3 L183.1,163.7 L184.2,164.1 L185.3,164.4 L186.3,164.7 L187.4,165 L188.4,165.3 L189.5,165.5 L190.6,165.8" fill="none" stroke="#a9d53a" stroke-width="1.5" stroke-linejoin="round"/>
<path d="M41.8,168.4 L42.9,168.4 L43.9,168.4 L45,168.4 L46.1,168.4 L47.1,168.4 L48.2,168.4 L49.2,168.4 L50.3,168.4 L51.4,168.3 L52.4,168.3 L53.5,168.3 L54.6,168.2 L55.6,168.2 L56.7,168.1 L57.7,168 L58.8,167.9 L59.9,167.8 L60.9,167.6 L62,167.4 L63.1,167.2 L64.1,166.9 L65.2,166.6 L66.2,166.1 L67.3,165.7 L68.4,165.1 L69.4,164.4 L70.5,163.7 L71.6,162.8 L72.6,161.9 L73.7,160.8 L74.7,159.6 L75.8,158.2 L76.9,156.7 L77.9,155.1 L79,153.4 L80.1,151.6 L81.1,149.6 L82.2,147.5 L83.2,145.3 L84.3,143 L85.4,140.7 L86.4,138.3 L87.5,135.8 L88.6,133.3 L89.6,130.8 L90.7,128.4 L91.7,125.9 L92.8,123.5 L93.9,121.2 L94.9,119 L96,116.9 L97.1,114.9 L98.1,113 L99.2,111.3 L100.2,109.7 L101.3,108.3 L102.4,107 L103.4,105.9 L104.5,104.9 L105.6,104.1 L106.6,103.5 L107.7,103 L108.7,102.6 L109.8,102.4 L110.9,102.2 L111.9,102.1 L113,102.1 L114.1,102.1 L115.1,102.2 L116.2,102.4 L117.2,102.6 L118.3,102.9 L119.4,103.3 L120.4,103.8 L121.5,104.3 L122.6,104.9 L123.6,105.6 L124.7,106.3 L125.7,107.1 L126.8,108 L127.9,108.9 L128.9,109.9 L130,110.9 L131.1,112 L132.1,113.1 L133.2,114.3 L134.2,115.4 L135.3,116.7 L136.4,117.9 L137.4,119.2 L138.5,120.5 L139.6,121.8 L140.6,123.2 L141.7,124.5 L142.7,125.9 L143.8,127.3 L144.9,128.6 L145.9,130 L147,131.4 L148.1,132.7 L149.1,134.1 L150.2,135.4 L151.2,136.7 L152.3,138 L153.4,139.3 L154.4,140.6 L155.5,141.8 L156.6,143 L157.6,144.2 L158.7,145.4 L159.7,146.5 L160.8,147.6 L161.9,148.7 L162.9,149.7 L164,150.7 L165.1,151.7 L166.1,152.6 L167.2,153.5 L168.2,154.3 L169.3,155.2 L170.4,156 L171.4,156.7 L172.5,157.4 L173.6,158.1 L174.6,158.8 L175.7,159.4 L176.8,160 L177.8,160.6 L178.9,161.1 L179.9,161.6 L181,162.1 L182.1,162.6 L183.1,163 L184.2,163.4 L185.3,163.8 L186.3,164.1 L187.4,164.4 L188.4,164.8 L189.5,165 L190.6,165.3" fill="none" stroke="#a9d53a" stroke-width="1.6" stroke-dasharray="1.4 1.3" stroke-linecap="butt"/>
<path d="M41.8,168.4 L42.9,168.4 L43.9,168.4 L45,168.4 L46.1,168.4 L47.1,168.4 L48.2,168.4 L49.2,168.4 L50.3,168.4 L51.4,168.4 L52.4,168.4 L53.5,168.4 L54.6,168.3 L55.6,168.3 L56.7,168.3 L57.7,168.2 L58.8,168.2 L59.9,168.1 L60.9,168.1 L62,168 L63.1,167.9 L64.1,167.7 L65.2,167.6 L66.2,167.4 L67.3,167.1 L68.4,166.8 L69.4,166.5 L70.5,166.1 L71.6,165.6 L72.6,165.1 L73.7,164.4 L74.7,163.7 L75.8,162.9 L76.9,162 L77.9,161 L79,159.9 L80.1,158.7 L81.1,157.3 L82.2,155.8 L83.2,154.3 L84.3,152.6 L85.4,150.8 L86.4,148.9 L87.5,146.9 L88.6,144.8 L89.6,142.6 L90.7,140.4 L91.7,138.1 L92.8,135.8 L93.9,133.4 L94.9,131.1 L96,128.8 L97.1,126.5 L98.1,124.3 L99.2,122.1 L100.2,120 L101.3,118 L102.4,116.1 L103.4,114.3 L104.5,112.6 L105.6,111.1 L106.6,109.7 L107.7,108.4 L108.7,107.3 L109.8,106.3 L110.9,105.5 L111.9,104.8 L113,104.3 L114.1,103.8 L115.1,103.5 L116.2,103.3 L117.2,103.1 L118.3,103.1 L119.4,103.1 L120.4,103.1 L121.5,103.2 L122.6,103.3 L123.6,103.6 L124.7,103.9 L125.7,104.3 L126.8,104.8 L127.9,105.4 L128.9,106 L130,106.7 L131.1,107.5 L132.1,108.4 L133.2,109.3 L134.2,110.2 L135.3,111.2 L136.4,112.3 L137.4,113.4 L138.5,114.6 L139.6,115.8 L140.6,117 L141.7,118.3 L142.7,119.6 L143.8,120.9 L144.9,122.3 L145.9,123.7 L147,125 L148.1,126.4 L149.1,127.8 L150.2,129.2 L151.2,130.6 L152.3,132 L153.4,133.4 L154.4,134.8 L155.5,136.1 L156.6,137.5 L157.6,138.8 L158.7,140.1 L159.7,141.4 L160.8,142.6 L161.9,143.9 L162.9,145.1 L164,146.2 L165.1,147.4 L166.1,148.5 L167.2,149.5 L168.2,150.6 L169.3,151.6 L170.4,152.5 L171.4,153.5 L172.5,154.3 L173.6,155.2 L174.6,156 L175.7,156.8 L176.8,157.5 L177.8,158.2 L178.9,158.9 L179.9,159.6 L181,160.2 L182.1,160.7 L183.1,161.3 L184.2,161.8 L185.3,162.3 L186.3,162.7 L187.4,163.2 L188.4,163.6 L189.5,163.9 L190.6,164.3" fill="none" stroke="#f6e01f" stroke-width="1.5" stroke-linejoin="round"/>
<path d="M41.8,168.4 L42.9,168.4 L43.9,168.4 L45,168.4 L46.1,168.4 L47.1,168.4 L48.2,168.4 L49.2,168.4 L50.3,168.4 L51.4,168.4 L52.4,168.4 L53.5,168.4 L54.6,168.4 L55.6,168.4 L56.7,168.3 L57.7,168.3 L58.8,168.3 L59.9,168.3 L60.9,168.2 L62,168.1 L63.1,168.1 L64.1,168 L65.2,167.9 L66.2,167.7 L67.3,167.6 L68.4,167.4 L69.4,167.1 L70.5,166.8 L71.6,166.5 L72.6,166.1 L73.7,165.7 L74.7,165.1 L75.8,164.5 L76.9,163.8 L77.9,163 L79,162.1 L80.1,161.1 L81.1,160 L82.2,158.8 L83.2,157.5 L84.3,156 L85.4,154.5 L86.4,152.8 L87.5,151 L88.6,149.2 L89.6,147.2 L90.7,145.1 L91.7,143 L92.8,140.8 L93.9,138.5 L94.9,136.3 L96,134 L97.1,131.7 L98.1,129.4 L99.2,127.1 L100.2,124.9 L101.3,122.8 L102.4,120.7 L103.4,118.7 L104.5,116.8 L105.6,115.1 L106.6,113.4 L107.7,111.9 L108.7,110.6 L109.8,109.3 L110.9,108.2 L111.9,107.3 L113,106.5 L114.1,105.8 L115.1,105.2 L116.2,104.8 L117.2,104.5 L118.3,104.3 L119.4,104.1 L120.4,104.1 L121.5,104 L122.6,104 L123.6,104.1 L124.7,104.3 L125.7,104.6 L126.8,104.9 L127.9,105.3 L128.9,105.8 L130,106.3 L131.1,107 L132.1,107.7 L133.2,108.4 L134.2,109.3 L135.3,110.2 L136.4,111.1 L137.4,112.1 L138.5,113.2 L139.6,114.3 L140.6,115.4 L141.7,116.6 L142.7,117.8 L143.8,119.1 L144.9,120.3 L145.9,121.7 L147,123 L148.1,124.3 L149.1,125.7 L150.2,127.1 L151.2,128.4 L152.3,129.8 L153.4,131.2 L154.4,132.6 L155.5,133.9 L156.6,135.3 L157.6,136.6 L158.7,137.9 L159.7,139.3 L160.8,140.5 L161.9,141.8 L162.9,143 L164,144.2 L165.1,145.4 L166.1,146.6 L167.2,147.7 L168.2,148.8 L169.3,149.8 L170.4,150.8 L171.4,151.8 L172.5,152.8 L173.6,153.7 L174.6,154.6 L175.7,155.4 L176.8,156.2 L177.8,157 L178.9,157.7 L179.9,158.4 L181,159.1 L182.1,159.7 L183.1,160.3 L184.2,160.9 L185.3,161.4 L186.3,161.9 L187.4,162.4 L188.4,162.8 L189.5,163.2 L190.6,163.6" fill="none" stroke="#f6e01f" stroke-width="1.6" stroke-dasharray="1.4 1.3" stroke-linecap="butt"/>
<path d="M41.8,168.4 L42.9,168.4 L43.9,168.4 L45,168.4 L46.1,168.4 L47.1,168.4 L48.2,168.4 L49.2,168.4 L50.3,168.4 L51.4,168.4 L52.4,168.4 L53.5,168.4 L54.6,168.4 L55.6,168.4 L56.7,168.4 L57.7,168.4 L58.8,168.4 L59.9,168.3 L60.9,168.3 L62,168.3 L63.1,168.2 L64.1,168.2 L65.2,168.1 L66.2,168 L67.3,167.9 L68.4,167.8 L69.4,167.7 L70.5,167.5 L71.6,167.2 L72.6,166.9 L73.7,166.6 L74.7,166.2 L75.8,165.7 L76.9,165.2 L77.9,164.5 L79,163.8 L80.1,163 L81.1,162 L82.2,161 L83.2,159.8 L84.3,158.5 L85.4,157 L86.4,155.5 L87.5,153.8 L88.6,152 L89.6,150 L90.7,148 L91.7,145.9 L92.8,143.7 L93.9,141.4 L94.9,139 L96,136.6 L97.1,134.2 L98.1,131.8 L99.2,129.3 L100.2,127 L101.3,124.6 L102.4,122.4 L103.4,120.2 L104.5,118.1 L105.6,116.2 L106.6,114.3 L107.7,112.6 L108.7,111.1 L109.8,109.7 L110.9,108.5 L111.9,107.4 L113,106.5 L114.1,105.7 L115.1,105.1 L116.2,104.6 L117.2,104.2 L118.3,104 L119.4,103.8 L120.4,103.7 L121.5,103.7 L122.6,103.7 L123.6,103.8 L124.7,104 L125.7,104.2 L126.8,104.6 L127.9,105 L128.9,105.5 L130,106 L131.1,106.7 L132.1,107.4 L133.2,108.1 L134.2,109 L135.3,109.9 L136.4,110.8 L137.4,111.8 L138.5,112.9 L139.6,114 L140.6,115.1 L141.7,116.3 L142.7,117.6 L143.8,118.8 L144.9,120.1 L145.9,121.4 L147,122.8 L148.1,124.1 L149.1,125.5 L150.2,126.9 L151.2,128.2 L152.3,129.6 L153.4,131 L154.4,132.4 L155.5,133.8 L156.6,135.1 L157.6,136.5 L158.7,137.8 L159.7,139.1 L160.8,140.4 L161.9,141.7 L162.9,142.9 L164,144.1 L165.1,145.3 L166.1,146.5 L167.2,147.6 L168.2,148.7 L169.3,149.7 L170.4,150.7 L171.4,151.7 L172.5,152.7 L173.6,153.6 L174.6,154.5 L175.7,155.3 L176.8,156.1 L177.8,156.9 L178.9,157.6 L179.9,158.3 L181,159 L182.1,159.6 L183.1,160.2 L184.2,160.8 L185.3,161.4 L186.3,161.9 L187.4,162.3 L188.4,162.8 L189.5,163.2 L190.6,163.6" fill="none" stroke="#f8c02c" stroke-width="1.5" stroke-linejoin="round"/>
<path d="M41.8,168.4 L42.9,168.4 L43.9,168.4 L45,168.4 L46.1,168.4 L47.1,168.4 L48.2,168.4 L49.2,168.4 L50.3,168.4 L51.4,168.4 L52.4,168.4 L53.5,168.4 L54.6,168.4 L55.6,168.4 L56.7,168.4 L57.7,168.4 L58.8,168.4 L59.9,168.4 L60.9,168.4 L62,168.3 L63.1,168.3 L64.1,168.3 L65.2,168.2 L66.2,168.2 L67.3,168.1 L68.4,168 L69.4,167.9 L70.5,167.8 L71.6,167.7 L72.6,167.5 L73.7,167.2 L74.7,167 L75.8,166.6 L76.9,166.2 L77.9,165.8 L79,165.2 L80.1,164.6 L81.1,163.9 L82.2,163 L83.2,162.1 L84.3,161.1 L85.4,159.9 L86.4,158.6 L87.5,157.2 L88.6,155.7 L89.6,154 L90.7,152.2 L91.7,150.3 L92.8,148.3 L93.9,146.2 L94.9,144 L96,141.8 L97.1,139.4 L98.1,137.1 L99.2,134.7 L100.2,132.3 L101.3,129.9 L102.4,127.6 L103.4,125.3 L104.5,123.1 L105.6,120.9 L106.6,118.9 L107.7,116.9 L108.7,115.1 L109.8,113.5 L110.9,112 L111.9,110.6 L113,109.4 L114.1,108.3 L115.1,107.4 L116.2,106.6 L117.2,106 L118.3,105.5 L119.4,105.2 L120.4,104.9 L121.5,104.8 L122.6,104.7 L123.6,104.7 L124.7,104.7 L125.7,104.8 L126.8,105 L127.9,105.2 L128.9,105.5 L130,105.9 L131.1,106.4 L132.1,107 L133.2,107.6 L134.2,108.3 L135.3,109 L136.4,109.9 L137.4,110.7 L138.5,111.7 L139.6,112.7 L140.6,113.7 L141.7,114.8 L142.7,115.9 L143.8,117.1 L144.9,118.3 L145.9,119.6 L147,120.8 L148.1,122.1 L149.1,123.4 L150.2,124.8 L151.2,126.1 L152.3,127.5 L153.4,128.8 L154.4,130.2 L155.5,131.6 L156.6,132.9 L157.6,134.3 L158.7,135.6 L159.7,136.9 L160.8,138.3 L161.9,139.5 L162.9,140.8 L164,142.1 L165.1,143.3 L166.1,144.5 L167.2,145.7 L168.2,146.8 L169.3,147.9 L170.4,149 L171.4,150 L172.5,151 L173.6,152 L174.6,152.9 L175.7,153.8 L176.8,154.7 L177.8,155.5 L178.9,156.3 L179.9,157.1 L181,157.8 L182.1,158.5 L183.1,159.2 L184.2,159.8 L185.3,160.4 L186.3,160.9 L187.4,161.5 L188.4,162 L189.5,162.4 L190.6,162.9" fill="none" stroke="#f8c02c" stroke-width="1.6" stroke-dasharray="1.4 1.3" stroke-linecap="butt"/>
</g>
<line x1="38.4" y1="20.6" x2="41.8" y2="20.6" stroke="#000" stroke-width="1.25"/>
<line x1="38.4" y1="50.2" x2="41.8" y2="50.2" stroke="#000" stroke-width="1.25"/>
<line x1="38.4" y1="79.8" x2="41.8" y2="79.8" stroke="#000" stroke-width="1.25"/>
<line x1="40" y1="35.4" x2="41.8" y2="35.4" stroke="#000" stroke-width="1.25"/>
<line x1="40" y1="65" x2="41.8" y2="65" stroke="#000" stroke-width="1.25"/>
<text transform="translate(36,24.4) scale(1,1.12)" font-size="10.5" font-weight="bold" text-anchor="end" fill="#000" stroke="#000" stroke-width="0.22" >90</text>
<text transform="translate(36,54) scale(1,1.12)" font-size="10.5" font-weight="bold" text-anchor="end" fill="#000" stroke="#000" stroke-width="0.22" >0</text>
<text transform="translate(36,83.6) scale(1,1.12)" font-size="10.5" font-weight="bold" text-anchor="end" fill="#000" stroke="#000" stroke-width="0.22" >-90</text>
<line x1="38.4" y1="168.4" x2="41.8" y2="168.4" stroke="#000" stroke-width="1.25"/>
<line x1="38.4" y1="142.3" x2="41.8" y2="142.3" stroke="#000" stroke-width="1.25"/>
<line x1="38.4" y1="116.1" x2="41.8" y2="116.1" stroke="#000" stroke-width="1.25"/>
<line x1="40" y1="155.3" x2="41.8" y2="155.3" stroke="#000" stroke-width="1.25"/>
<line x1="40" y1="129.2" x2="41.8" y2="129.2" stroke="#000" stroke-width="1.25"/>
<line x1="40" y1="103.1" x2="41.8" y2="103.1" stroke="#000" stroke-width="1.25"/>
<text transform="translate(36,172.2) scale(1,1.12)" font-size="10.5" font-weight="bold" text-anchor="end" fill="#000" stroke="#000" stroke-width="0.22" >0.0</text>
<text transform="translate(36,146.1) scale(1,1.12)" font-size="10.5" font-weight="bold" text-anchor="end" fill="#000" stroke="#000" stroke-width="0.22" >0.2</text>
<text transform="translate(36,119.9) scale(1,1.12)" font-size="10.5" font-weight="bold" text-anchor="end" fill="#000" stroke="#000" stroke-width="0.22" >0.4</text>
<line x1="48.9" y1="168.4" x2="48.9" y2="171.8" stroke="#000" stroke-width="1.25"/>
<line x1="84.3" y1="168.4" x2="84.3" y2="171.8" stroke="#000" stroke-width="1.25"/>
<line x1="119.7" y1="168.4" x2="119.7" y2="171.8" stroke="#000" stroke-width="1.25"/>
<line x1="155.1" y1="168.4" x2="155.1" y2="171.8" stroke="#000" stroke-width="1.25"/>
<line x1="190.6" y1="168.4" x2="190.6" y2="171.8" stroke="#000" stroke-width="1.25"/>
<line x1="66.6" y1="168.4" x2="66.6" y2="170.2" stroke="#000" stroke-width="1.25"/>
<line x1="102" y1="168.4" x2="102" y2="170.2" stroke="#000" stroke-width="1.25"/>
<line x1="137.4" y1="168.4" x2="137.4" y2="170.2" stroke="#000" stroke-width="1.25"/>
<line x1="172.9" y1="168.4" x2="172.9" y2="170.2" stroke="#000" stroke-width="1.25"/>
<line x1="208.3" y1="168.4" x2="208.3" y2="170.2" stroke="#000" stroke-width="1.25"/>
<text transform="translate(48.9,182.5) scale(1,1.12)" font-size="10.5" font-weight="bold" text-anchor="middle" fill="#000" stroke="#000" stroke-width="0.22" >400</text>
<text transform="translate(84.3,182.5) scale(1,1.12)" font-size="10.5" font-weight="bold" text-anchor="middle" fill="#000" stroke="#000" stroke-width="0.22" >500</text>
<text transform="translate(119.7,182.5) scale(1,1.12)" font-size="10.5" font-weight="bold" text-anchor="middle" fill="#000" stroke="#000" stroke-width="0.22" >600</text>
<text transform="translate(155.1,182.5) scale(1,1.12)" font-size="10.5" font-weight="bold" text-anchor="middle" fill="#000" stroke="#000" stroke-width="0.22" >700</text>
<text transform="translate(190.6,182.5) scale(1,1.12)" font-size="10.5" font-weight="bold" text-anchor="middle" fill="#000" stroke="#000" stroke-width="0.22" >800</text>
<text transform="translate(226,182.5) scale(1,1.12)" font-size="10.5" font-weight="bold" text-anchor="middle" fill="#000" stroke="#000" stroke-width="0.22" >900</text>
<text x="22.2" y="13.7" font-size="18.8" font-weight="bold" text-anchor="start" fill="#000" stroke="#000" stroke-width="0.22" >a</text>
<text transform="translate(16.3,53.9) rotate(-90)" font-size="11.0" font-weight="bold" text-anchor="middle" stroke="#000" stroke-width="0.22">CPL (mdeg)</text>
<text transform="translate(16.1,133.0) rotate(-90)" font-size="11.0" font-weight="bold" text-anchor="middle" stroke="#000" stroke-width="0.22">DC (V)</text>
<text x="133.5" y="196.6" font-size="10.8" font-weight="bold" text-anchor="middle" fill="#000" stroke="#000" stroke-width="0.22"  textLength="91" lengthAdjust="spacingAndGlyphs">Wavelength (nm)</text>
<text transform="translate(223,20.5) scale(1,1.15)" font-size="7.5" font-weight="bold" text-anchor="end" fill="#000" stroke="#000" stroke-width="0.22" ><tspan font-style="italic">f</tspan> (mol%) of Ag<tspan font-size="5" dy="1.5">6</tspan><tspan dy="-1.5"> in BTA</tspan></text>
<text transform="translate(156.8,30.6) scale(1,1.15)" font-size="7.5" font-weight="bold" text-anchor="start" fill="#000" stroke="#000" stroke-width="0.22" ><tspan font-style="italic">R</tspan>-Ag<tspan font-size="5" dy="1.5">6</tspan><tspan dy="-1.5">:</tspan></text>
<text transform="translate(193.6,30.6) scale(1,1.15)" font-size="7.5" font-weight="bold" text-anchor="start" fill="#000" stroke="#000" stroke-width="0.22" ><tspan font-style="italic">S</tspan>-Ag<tspan font-size="5" dy="1.5">6</tspan><tspan dy="-1.5">:</tspan></text>
<line x1="153.7" y1="38" x2="171.6" y2="38" stroke="#33628d" stroke-width="2.0"/>
<text transform="translate(173,40.8) scale(1,1.15)" font-size="7.5" font-weight="bold" text-anchor="start" fill="#000" stroke="#000" stroke-width="0.22" >0.5</text>
<line x1="189.6" y1="38.0" x2="205.5" y2="38.0" stroke="#33628d" stroke-width="1.7" stroke-dasharray="1.5 1.96"/>
<text transform="translate(208.8,40.8) scale(1,1.15)" font-size="7.5" font-weight="bold" text-anchor="start" fill="#000" stroke="#000" stroke-width="0.22" >0.5</text>
<line x1="153.7" y1="64.8" x2="171.6" y2="64.8" stroke="#2a7b8e" stroke-width="2.0"/>
<text transform="translate(173,67.6) scale(1,1.15)" font-size="7.5" font-weight="bold" text-anchor="start" fill="#000" stroke="#000" stroke-width="0.22" >1</text>
<line x1="189.6" y1="64.8" x2="205.5" y2="64.8" stroke="#2a7b8e" stroke-width="1.7" stroke-dasharray="1.5 1.96"/>
<text transform="translate(208.8,67.6) scale(1,1.15)" font-size="7.5" font-weight="bold" text-anchor="start" fill="#000" stroke="#000" stroke-width="0.22" >1</text>
<line x1="153.7" y1="74.3" x2="171.6" y2="74.3" stroke="#20998b" stroke-width="2.0"/>
<text transform="translate(173,77.1) scale(1,1.15)" font-size="7.5" font-weight="bold" text-anchor="start" fill="#000" stroke="#000" stroke-width="0.22" >3</text>
<line x1="189.6" y1="74.3" x2="205.5" y2="74.3" stroke="#20998b" stroke-width="1.7" stroke-dasharray="1.5 1.96"/>
<text transform="translate(208.8,77.1) scale(1,1.15)" font-size="7.5" font-weight="bold" text-anchor="start" fill="#000" stroke="#000" stroke-width="0.22" >3</text>
<line x1="153.7" y1="83.6" x2="171.6" y2="83.6" stroke="#28b07e" stroke-width="2.0"/>
<text transform="translate(173,86.4) scale(1,1.15)" font-size="7.5" font-weight="bold" text-anchor="start" fill="#000" stroke="#000" stroke-width="0.22" >5</text>
<line x1="189.6" y1="83.6" x2="205.5" y2="83.6" stroke="#28b07e" stroke-width="1.7" stroke-dasharray="1.5 1.96"/>
<text transform="translate(208.8,86.4) scale(1,1.15)" font-size="7.5" font-weight="bold" text-anchor="start" fill="#000" stroke="#000" stroke-width="0.22" >5</text>
<line x1="153.7" y1="93.3" x2="171.6" y2="93.3" stroke="#5ec45b" stroke-width="2.0"/>
<text transform="translate(173,96.1) scale(1,1.15)" font-size="7.5" font-weight="bold" text-anchor="start" fill="#000" stroke="#000" stroke-width="0.22" >7</text>
<line x1="189.6" y1="93.3" x2="205.5" y2="93.3" stroke="#5ec45b" stroke-width="1.7" stroke-dasharray="1.5 1.96"/>
<text transform="translate(208.8,96.1) scale(1,1.15)" font-size="7.5" font-weight="bold" text-anchor="start" fill="#000" stroke="#000" stroke-width="0.22" >7</text>
<line x1="153.7" y1="102.6" x2="171.6" y2="102.6" stroke="#a9d53a" stroke-width="2.0"/>
<text transform="translate(173,105.4) scale(1,1.15)" font-size="7.5" font-weight="bold" text-anchor="start" fill="#000" stroke="#000" stroke-width="0.22" >10</text>
<line x1="189.6" y1="102.6" x2="205.5" y2="102.6" stroke="#a9d53a" stroke-width="1.7" stroke-dasharray="1.5 1.96"/>
<text transform="translate(208.8,105.4) scale(1,1.15)" font-size="7.5" font-weight="bold" text-anchor="start" fill="#000" stroke="#000" stroke-width="0.22" >10</text>
<line x1="153.7" y1="111.9" x2="171.6" y2="111.9" stroke="#f6e01f" stroke-width="2.0"/>
<text transform="translate(173,114.7) scale(1,1.15)" font-size="7.5" font-weight="bold" text-anchor="start" fill="#000" stroke="#000" stroke-width="0.22" >15</text>
<line x1="189.6" y1="111.9" x2="205.5" y2="111.9" stroke="#f6e01f" stroke-width="1.7" stroke-dasharray="1.5 1.96"/>
<text transform="translate(208.8,114.7) scale(1,1.15)" font-size="7.5" font-weight="bold" text-anchor="start" fill="#000" stroke="#000" stroke-width="0.22" >15</text>
<line x1="153.7" y1="121.3" x2="171.6" y2="121.3" stroke="#f8c02c" stroke-width="2.0"/>
<text transform="translate(173,124.1) scale(1,1.15)" font-size="7.5" font-weight="bold" text-anchor="start" fill="#000" stroke="#000" stroke-width="0.22" >20</text>
<line x1="189.6" y1="121.3" x2="205.5" y2="121.3" stroke="#f8c02c" stroke-width="1.7" stroke-dasharray="1.5 1.96"/>
<text transform="translate(208.8,124.1) scale(1,1.15)" font-size="7.5" font-weight="bold" text-anchor="start" fill="#000" stroke="#000" stroke-width="0.22" >20</text>
<rect x="268.9" y="10.5" width="182.6" height="163.1" fill="none" stroke="#000" stroke-width="1.25"/>
<line x1="268.9" y1="91.9" x2="451.5" y2="91.9" stroke="#000" stroke-width="1.25"/>
<line x1="265.5" y1="31.6" x2="268.9" y2="31.6" stroke="#000" stroke-width="1.25"/>
<line x1="265.5" y1="91.9" x2="268.9" y2="91.9" stroke="#000" stroke-width="1.25"/>
<line x1="265.5" y1="152.2" x2="268.9" y2="152.2" stroke="#000" stroke-width="1.25"/>
<line x1="267.1" y1="61.8" x2="268.9" y2="61.8" stroke="#000" stroke-width="1.25"/>
<line x1="267.1" y1="122.1" x2="268.9" y2="122.1" stroke="#000" stroke-width="1.25"/>
<text x="263.1" y="35.2" font-size="11.3" font-weight="bold" text-anchor="end" fill="#000" stroke="#000" stroke-width="0.22" >0.01</text>
<text x="263.1" y="95.5" font-size="11.3" font-weight="bold" text-anchor="end" fill="#000" stroke="#000" stroke-width="0.22" >0.00</text>
<text x="263.1" y="155.8" font-size="11.3" font-weight="bold" text-anchor="end" fill="#000" stroke="#000" stroke-width="0.22" >-0.01</text>
<text x="249.4" y="13.6" font-size="18.8" font-weight="bold" text-anchor="start" fill="#000" stroke="#000" stroke-width="0.22" >b</text>
<defs><linearGradient id="gb" x1="0" x2="1" y1="0" y2="0"><stop offset="0" stop-color="#8a93cc"/><stop offset="0.5" stop-color="#a9afdc"/><stop offset="1" stop-color="#8b94cd"/></linearGradient><linearGradient id="gg" x1="0" x2="1" y1="0" y2="0"><stop offset="0" stop-color="#cfe68a"/><stop offset="0.5" stop-color="#e0efa8"/><stop offset="1" stop-color="#d0e78b"/></linearGradient><clipPath id="clipa1"><rect x="41.8" y="11.7" width="184.2" height="78.0"/></clipPath><clipPath id="clipa2"><rect x="41.8" y="89.7" width="184.2" height="78.7"/></clipPath></defs>
<rect x="303.4" y="26.8" width="14" height="65.1" fill="url(#gb)"/>
<path d="M310.4,23.5 L313.7,26.8 L310.4,30.1 L307.1,26.8 Z" fill="#6f7bc4"/>
<text transform="translate(309.6,21.6) scale(1,1.15)" font-size="8.1" font-weight="bold" text-anchor="middle" fill="#000" stroke="#000" stroke-width="0.22" >+0.0108</text>
<rect x="328.8" y="66.6" width="14.4" height="25.3" fill="url(#gg)"/>
<path d="M336,63.3 L339.3,66.6 L336,69.9 L332.7,66.6 Z" fill="#f6b81a"/>
<text transform="translate(335.2,61.4) scale(1,1.15)" font-size="8.1" font-weight="bold" text-anchor="middle" fill="#000" stroke="#000" stroke-width="0.22" >+0.0042</text>
<rect x="375.6" y="91.9" width="14.2" height="56.7" fill="url(#gb)"/>
<path d="M382.7,146.6 L385.5,149.4 L382.7,152.2 L379.9,149.4 Z" fill="#fff" stroke="#6f7bc4" stroke-width="1.2"/>
<text transform="translate(382.7,160.5) scale(1,1.15)" font-size="8.1" font-weight="bold" text-anchor="middle" fill="#000" stroke="#000" stroke-width="0.22" >-0.0094</text>
<rect x="401.8" y="91.9" width="14.2" height="35" fill="url(#gg)"/>
<path d="M408.9,124.9 L411.7,127.7 L408.9,130.5 L406.1,127.7 Z" fill="#fff" stroke="#f6b81a" stroke-width="1.2"/>
<text transform="translate(408.9,138.8) scale(1,1.15)" font-size="8.1" font-weight="bold" text-anchor="middle" fill="#000" stroke="#000" stroke-width="0.22" >-0.0058</text>
<line x1="268.9" y1="91.9" x2="451.5" y2="91.9" stroke="#000" stroke-width="1.25"/>
<text transform="translate(312.3,101.0) rotate(-44)" font-size="8.2" font-weight="bold" text-anchor="end" fill="#000" stroke="#000" stroke-width="0.15">BTA/<tspan font-style="italic">R</tspan>-Ag<tspan font-size="5.5" dy="1.5">6</tspan></text>
<text transform="translate(337.3,101.0) rotate(-44)" font-size="8.2" font-weight="bold" text-anchor="end" fill="#000" stroke="#000" stroke-width="0.15">BTA/<tspan font-style="italic">R</tspan>-Ag<tspan font-size="5.5" dy="1.5">6</tspan></text>
<text transform="translate(385.0,86.2) rotate(-44)" font-size="8.2" font-weight="bold" text-anchor="start" fill="#000" stroke="#000" stroke-width="0.15">BTA/<tspan font-style="italic">S</tspan>-Ag<tspan font-size="5.5" dy="1.5">6</tspan></text>
<text transform="translate(409.5,86.2) rotate(-44)" font-size="8.2" font-weight="bold" text-anchor="start" fill="#000" stroke="#000" stroke-width="0.15">BTA/<tspan font-style="italic">S</tspan>-Ag<tspan font-size="5.5" dy="1.5">6</tspan></text>
<rect x="375.8" y="16.2" width="17.2" height="8.2" fill="url(#gb)"/>
<rect x="375.8" y="28.9" width="17.2" height="8.2" fill="url(#gg)"/>
<text transform="translate(395.8,23.2) scale(1,1.15)" font-size="8.2" font-weight="bold" text-anchor="start" fill="#000" stroke="#000" stroke-width="0.22" ><tspan font-style="italic" font-weight="normal">λ</tspan><tspan font-size="5.5" dy="2">ex</tspan><tspan dy="-2"> = 330 nm</tspan></text>
<text transform="translate(395.8,35.9) scale(1,1.15)" font-size="8.2" font-weight="bold" text-anchor="start" fill="#000" stroke="#000" stroke-width="0.22" ><tspan font-style="italic" font-weight="normal">λ</tspan><tspan font-size="5.5" dy="2">ex</tspan><tspan dy="-2"> = 400 nm</tspan></text>
<text transform="translate(235.9,91.8) rotate(-90)" font-size="13" font-weight="bold" text-anchor="middle" stroke="#000" stroke-width="0.2"><tspan font-style="italic">g</tspan><tspan font-size="8.3" dy="2">lum</tspan></text>
<defs><clipPath id="clipc1"><rect x="495.4" y="11.3" width="181.20000000000005" height="76.8"/></clipPath><clipPath id="clipc2"><rect x="495.4" y="88.1" width="181.20000000000005" height="77.20000000000002"/></clipPath></defs>
<rect x="495.4" y="11.3" width="181.2" height="154" fill="none" stroke="#000" stroke-width="1.25"/>
<line x1="495.4" y1="88.1" x2="676.6" y2="88.1" stroke="#000" stroke-width="1.25"/>
<g clip-path="url(#clipc1)">
<path d="M495.2,49.6 L496.6,49.5 L498,49.3 L499.4,49.1 L500.8,48.9 L502.2,48.6 L503.6,48.3 L505,47.9 L506.4,47.4 L507.8,46.9 L509.2,46.3 L510.6,45.5 L511.9,44.7 L513.3,43.8 L514.7,42.8 L516.1,41.7 L517.5,40.5 L518.9,39.3 L520.3,37.9 L521.7,36.5 L523.1,35.1 L524.5,33.6 L525.9,32.2 L527.3,30.8 L528.6,29.4 L530,28.2 L531.4,27 L532.8,26 L534.2,25.1 L535.6,24.4 L537,24 L538.4,23.7 L539.8,23.6 L541.2,23.7 L542.6,23.8 L544,23.9 L545.4,24.1 L546.7,24.4 L548.1,24.7 L549.5,25 L550.9,25.4 L552.3,25.9 L553.7,26.3 L555.1,26.9 L556.5,27.4 L557.9,28 L559.3,28.6 L560.7,29.3 L562.1,29.9 L563.4,30.6 L564.8,31.3 L566.2,32 L567.6,32.7 L569,33.5 L570.4,34.2 L571.8,34.9 L573.2,35.6 L574.6,36.4 L576,37.1 L577.4,37.8 L578.8,38.4 L580.2,39.1 L581.5,39.8 L582.9,40.4 L584.3,41 L585.7,41.6 L587.1,42.2 L588.5,42.7 L589.9,43.2 L591.3,43.7 L592.7,44.2 L594.1,44.6 L595.5,45.1 L596.9,45.5 L598.2,45.8 L599.6,46.2 L601,46.5 L602.4,46.8 L603.8,47.1 L605.2,47.4 L606.6,47.6 L608,47.8 L609.4,48.1 L610.8,48.3 L612.2,48.4 L613.6,48.6 L615,48.7 L616.3,48.9 L617.7,49 L619.1,49.1 L620.5,49.2 L621.9,49.3 L623.3,49.4 L624.7,49.5 L626.1,49.5 L627.5,49.6 L628.9,49.6 L630.3,49.7 L631.7,49.7 L633,49.8 L634.4,49.8 L635.8,49.8 L637.2,49.8 L638.6,49.9 L640,49.9 L641.4,49.9" fill="none" stroke="#33628d" stroke-width="1.5" stroke-linejoin="round"/>
<path d="M495.2,48.8 L496.6,48.4 L498,48 L499.4,47.5 L500.8,47 L502.2,46.3 L503.6,45.5 L505,44.6 L506.4,43.5 L507.8,42.4 L509.2,41.1 L510.6,39.7 L511.9,38.2 L513.3,36.5 L514.7,34.8 L516.1,33 L517.5,31.2 L518.9,29.4 L520.3,27.5 L521.7,25.8 L523.1,24.2 L524.5,22.6 L525.9,21.3 L527.3,20.2 L528.6,19.3 L530,18.7 L531.4,18.3 L532.8,18.2 L534.2,18.3 L535.6,18.4 L537,18.6 L538.4,18.9 L539.8,19.2 L541.2,19.6 L542.6,20 L544,20.5 L545.4,21.1 L546.7,21.7 L548.1,22.4 L549.5,23.1 L550.9,23.8 L552.3,24.6 L553.7,25.4 L555.1,26.3 L556.5,27.1 L557.9,28 L559.3,28.9 L560.7,29.8 L562.1,30.7 L563.4,31.6 L564.8,32.5 L566.2,33.4 L567.6,34.3 L569,35.2 L570.4,36 L571.8,36.9 L573.2,37.7 L574.6,38.5 L576,39.2 L577.4,40 L578.8,40.7 L580.2,41.3 L581.5,42 L582.9,42.6 L584.3,43.2 L585.7,43.7 L587.1,44.2 L588.5,44.7 L589.9,45.2 L591.3,45.6 L592.7,46 L594.1,46.4 L595.5,46.7 L596.9,47 L598.2,47.3 L599.6,47.6 L601,47.8 L602.4,48.1 L603.8,48.3 L605.2,48.5 L606.6,48.6 L608,48.8 L609.4,48.9 L610.8,49 L612.2,49.2 L613.6,49.3 L615,49.3 L616.3,49.4 L617.7,49.5 L619.1,49.6 L620.5,49.6 L621.9,49.7 L623.3,49.7 L624.7,49.8 L626.1,49.8 L627.5,49.8 L628.9,49.8 L630.3,49.9 L631.7,49.9 L633,49.9 L634.4,49.9 L635.8,49.9 L637.2,49.9 L638.6,49.9 L640,50 L641.4,50" fill="none" stroke="#2a7b8e" stroke-width="1.5" stroke-linejoin="round"/>
<path d="M495.2,49.8 L496.6,49.7 L498,49.7 L499.4,49.6 L500.8,49.5 L502.2,49.3 L503.6,49.2 L505,49 L506.4,48.8 L507.8,48.5 L509.2,48.2 L510.6,47.8 L511.9,47.3 L513.3,46.8 L514.7,46.2 L516.1,45.6 L517.5,44.9 L518.9,44.1 L520.3,43.2 L521.7,42.2 L523.1,41.2 L524.5,40.1 L525.9,38.9 L527.3,37.7 L528.6,36.4 L530,35.1 L531.4,33.9 L532.8,32.6 L534.2,31.3 L535.6,30.1 L537,29 L538.4,27.9 L539.8,27 L541.2,26.2 L542.6,25.5 L544,25 L545.4,24.6 L546.7,24.5 L548.1,24.5 L549.5,24.5 L550.9,24.6 L552.3,24.8 L553.7,25 L555.1,25.3 L556.5,25.6 L557.9,26 L559.3,26.4 L560.7,26.8 L562.1,27.3 L563.4,27.9 L564.8,28.4 L566.2,29 L567.6,29.6 L569,30.3 L570.4,31 L571.8,31.7 L573.2,32.4 L574.6,33.1 L576,33.8 L577.4,34.5 L578.8,35.2 L580.2,35.9 L581.5,36.7 L582.9,37.4 L584.3,38 L585.7,38.7 L587.1,39.4 L588.5,40 L589.9,40.7 L591.3,41.3 L592.7,41.8 L594.1,42.4 L595.5,42.9 L596.9,43.5 L598.2,44 L599.6,44.4 L601,44.9 L602.4,45.3 L603.8,45.7 L605.2,46 L606.6,46.4 L608,46.7 L609.4,47 L610.8,47.3 L612.2,47.5 L613.6,47.8 L615,48 L616.3,48.2 L617.7,48.4 L619.1,48.5 L620.5,48.7 L621.9,48.8 L623.3,49 L624.7,49.1 L626.1,49.2 L627.5,49.3 L628.9,49.4 L630.3,49.4 L631.7,49.5 L633,49.6 L634.4,49.6 L635.8,49.7 L637.2,49.7 L638.6,49.8 L640,49.8 L641.4,49.8" fill="none" stroke="#20998b" stroke-width="1.5" stroke-linejoin="round"/>
<path d="M495.2,50 L496.6,49.9 L498,49.9 L499.4,49.9 L500.8,49.9 L502.2,49.8 L503.6,49.8 L505,49.7 L506.4,49.6 L507.8,49.5 L509.2,49.4 L510.6,49.3 L511.9,49.1 L513.3,48.9 L514.7,48.6 L516.1,48.3 L517.5,48 L518.9,47.6 L520.3,47.1 L521.7,46.6 L523.1,46 L524.5,45.3 L525.9,44.6 L527.3,43.7 L528.6,42.8 L530,41.8 L531.4,40.8 L532.8,39.7 L534.2,38.5 L535.6,37.3 L537,36 L538.4,34.8 L539.8,33.5 L541.2,32.3 L542.6,31 L544,29.9 L545.4,28.8 L546.7,27.8 L548.1,27 L549.5,26.2 L550.9,25.7 L552.3,25.2 L553.7,25 L555.1,24.9 L556.5,24.9 L557.9,25 L559.3,25.1 L560.7,25.3 L562.1,25.6 L563.4,25.8 L564.8,26.2 L566.2,26.6 L567.6,27 L569,27.5 L570.4,28 L571.8,28.5 L573.2,29.1 L574.6,29.7 L576,30.3 L577.4,31 L578.8,31.6 L580.2,32.3 L581.5,33 L582.9,33.7 L584.3,34.4 L585.7,35.1 L587.1,35.8 L588.5,36.5 L589.9,37.2 L591.3,37.9 L592.7,38.6 L594.1,39.2 L595.5,39.9 L596.9,40.5 L598.2,41.1 L599.6,41.7 L601,42.3 L602.4,42.8 L603.8,43.3 L605.2,43.8 L606.6,44.3 L608,44.7 L609.4,45.2 L610.8,45.6 L612.2,45.9 L613.6,46.3 L615,46.6 L616.3,46.9 L617.7,47.2 L619.1,47.5 L620.5,47.7 L621.9,47.9 L623.3,48.1 L624.7,48.3 L626.1,48.5 L627.5,48.7 L628.9,48.8 L630.3,48.9 L631.7,49 L633,49.2 L634.4,49.3 L635.8,49.3 L637.2,49.4 L638.6,49.5 L640,49.6 L641.4,49.6" fill="none" stroke="#28b07e" stroke-width="1.5" stroke-linejoin="round"/>
<path d="M495.2,50 L496.6,50 L498,50 L499.4,50 L500.8,50 L502.2,49.9 L503.6,49.9 L505,49.9 L506.4,49.9 L507.8,49.8 L509.2,49.8 L510.6,49.7 L511.9,49.6 L513.3,49.5 L514.7,49.4 L516.1,49.2 L517.5,49 L518.9,48.8 L520.3,48.5 L521.7,48.2 L523.1,47.9 L524.5,47.4 L525.9,47 L527.3,46.4 L528.6,45.8 L530,45.1 L531.4,44.3 L532.8,43.5 L534.2,42.5 L535.6,41.6 L537,40.5 L538.4,39.4 L539.8,38.2 L541.2,37 L542.6,35.8 L544,34.5 L545.4,33.3 L546.7,32.1 L548.1,31 L549.5,29.9 L550.9,28.9 L552.3,28 L553.7,27.2 L555.1,26.6 L556.5,26.1 L557.9,25.7 L559.3,25.6 L560.7,25.5 L562.1,25.6 L563.4,25.7 L564.8,25.9 L566.2,26.1 L567.6,26.3 L569,26.6 L570.4,27 L571.8,27.4 L573.2,27.8 L574.6,28.3 L576,28.8 L577.4,29.3 L578.8,29.9 L580.2,30.5 L581.5,31.1 L582.9,31.8 L584.3,32.4 L585.7,33.1 L587.1,33.8 L588.5,34.5 L589.9,35.2 L591.3,35.9 L592.7,36.5 L594.1,37.2 L595.5,37.9 L596.9,38.6 L598.2,39.2 L599.6,39.8 L601,40.5 L602.4,41.1 L603.8,41.6 L605.2,42.2 L606.6,42.7 L608,43.2 L609.4,43.7 L610.8,44.2 L612.2,44.7 L613.6,45.1 L615,45.5 L616.3,45.9 L617.7,46.2 L619.1,46.5 L620.5,46.8 L621.9,47.1 L623.3,47.4 L624.7,47.6 L626.1,47.9 L627.5,48.1 L628.9,48.3 L630.3,48.4 L631.7,48.6 L633,48.8 L634.4,48.9 L635.8,49 L637.2,49.1 L638.6,49.2 L640,49.3 L641.4,49.4" fill="none" stroke="#5ec45b" stroke-width="1.5" stroke-linejoin="round"/>
<path d="M495.2,50 L496.6,50 L498,50 L499.4,50 L500.8,50 L502.2,50 L503.6,50 L505,49.9 L506.4,49.9 L507.8,49.9 L509.2,49.9 L510.6,49.8 L511.9,49.8 L513.3,49.7 L514.7,49.7 L516.1,49.6 L517.5,49.5 L518.9,49.3 L520.3,49.1 L521.7,48.9 L523.1,48.7 L524.5,48.4 L525.9,48.1 L527.3,47.7 L528.6,47.3 L530,46.7 L531.4,46.2 L532.8,45.5 L534.2,44.8 L535.6,44 L537,43.1 L538.4,42.2 L539.8,41.2 L541.2,40.1 L542.6,39 L544,37.8 L545.4,36.6 L546.7,35.4 L548.1,34.2 L549.5,33 L550.9,31.9 L552.3,30.8 L553.7,29.7 L555.1,28.8 L556.5,28 L557.9,27.3 L559.3,26.7 L560.7,26.3 L562.1,26.1 L563.4,26 L564.8,26 L566.2,26.1 L567.6,26.2 L569,26.4 L570.4,26.6 L571.8,26.9 L573.2,27.2 L574.6,27.6 L576,28 L577.4,28.4 L578.8,28.9 L580.2,29.4 L581.5,30 L582.9,30.6 L584.3,31.2 L585.7,31.8 L587.1,32.4 L588.5,33.1 L589.9,33.7 L591.3,34.4 L592.7,35.1 L594.1,35.8 L595.5,36.4 L596.9,37.1 L598.2,37.8 L599.6,38.4 L601,39.1 L602.4,39.7 L603.8,40.3 L605.2,40.9 L606.6,41.5 L608,42.1 L609.4,42.6 L610.8,43.1 L612.2,43.6 L613.6,44.1 L615,44.5 L616.3,45 L617.7,45.4 L619.1,45.7 L620.5,46.1 L621.9,46.4 L623.3,46.7 L624.7,47 L626.1,47.3 L627.5,47.6 L628.9,47.8 L630.3,48 L631.7,48.2 L633,48.4 L634.4,48.6 L635.8,48.7 L637.2,48.8 L638.6,49 L640,49.1 L641.4,49.2" fill="none" stroke="#a9d53a" stroke-width="1.5" stroke-linejoin="round"/>
<path d="M495.2,50 L496.6,50 L498,50 L499.4,50 L500.8,50 L502.2,50 L503.6,50 L505,50 L506.4,50 L507.8,50 L509.2,50 L510.6,49.9 L511.9,49.9 L513.3,49.9 L514.7,49.9 L516.1,49.8 L517.5,49.8 L518.9,49.7 L520.3,49.7 L521.7,49.6 L523.1,49.5 L524.5,49.3 L525.9,49.2 L527.3,49 L528.6,48.8 L530,48.5 L531.4,48.2 L532.8,47.8 L534.2,47.4 L535.6,46.9 L537,46.4 L538.4,45.8 L539.8,45.1 L541.2,44.4 L542.6,43.6 L544,42.8 L545.4,41.8 L546.7,40.9 L548.1,39.8 L549.5,38.8 L550.9,37.7 L552.3,36.5 L553.7,35.4 L555.1,34.3 L556.5,33.2 L557.9,32.2 L559.3,31.2 L560.7,30.3 L562.1,29.5 L563.4,28.8 L564.8,28.2 L566.2,27.8 L567.6,27.5 L569,27.4 L570.4,27.3 L571.8,27.4 L573.2,27.5 L574.6,27.6 L576,27.8 L577.4,28.1 L578.8,28.4 L580.2,28.7 L581.5,29.1 L582.9,29.5 L584.3,29.9 L585.7,30.4 L587.1,30.9 L588.5,31.5 L589.9,32 L591.3,32.6 L592.7,33.2 L594.1,33.9 L595.5,34.5 L596.9,35.1 L598.2,35.8 L599.6,36.4 L601,37.1 L602.4,37.7 L603.8,38.3 L605.2,39 L606.6,39.6 L608,40.2 L609.4,40.8 L610.8,41.4 L612.2,41.9 L613.6,42.4 L615,43 L616.3,43.5 L617.7,43.9 L619.1,44.4 L620.5,44.8 L621.9,45.2 L623.3,45.6 L624.7,46 L626.1,46.3 L627.5,46.6 L628.9,46.9 L630.3,47.2 L631.7,47.5 L633,47.7 L634.4,47.9 L635.8,48.1 L637.2,48.3 L638.6,48.5 L640,48.7 L641.4,48.8" fill="none" stroke="#f6e01f" stroke-width="1.5" stroke-linejoin="round"/>
<path d="M495.2,50 L496.6,50 L498,50 L499.4,50 L500.8,50 L502.2,50 L503.6,50 L505,50 L506.4,50 L507.8,50 L509.2,50 L510.6,50 L511.9,49.9 L513.3,49.9 L514.7,49.9 L516.1,49.9 L517.5,49.8 L518.9,49.8 L520.3,49.7 L521.7,49.7 L523.1,49.6 L524.5,49.5 L525.9,49.3 L527.3,49.2 L528.6,49 L530,48.8 L531.4,48.5 L532.8,48.2 L534.2,47.8 L535.6,47.4 L537,47 L538.4,46.4 L539.8,45.8 L541.2,45.2 L542.6,44.5 L544,43.7 L545.4,42.8 L546.7,41.9 L548.1,40.9 L549.5,39.9 L550.9,38.8 L552.3,37.7 L553.7,36.6 L555.1,35.5 L556.5,34.4 L557.9,33.3 L559.3,32.3 L560.7,31.3 L562.1,30.5 L563.4,29.7 L564.8,29 L566.2,28.4 L567.6,28 L569,27.7 L570.4,27.5 L571.8,27.5 L573.2,27.6 L574.6,27.7 L576,27.8 L577.4,28 L578.8,28.3 L580.2,28.6 L581.5,28.9 L582.9,29.3 L584.3,29.7 L585.7,30.1 L587.1,30.6 L588.5,31.2 L589.9,31.7 L591.3,32.3 L592.7,32.9 L594.1,33.5 L595.5,34.1 L596.9,34.7 L598.2,35.4 L599.6,36 L601,36.7 L602.4,37.3 L603.8,38 L605.2,38.6 L606.6,39.2 L608,39.9 L609.4,40.5 L610.8,41 L612.2,41.6 L613.6,42.2 L615,42.7 L616.3,43.2 L617.7,43.7 L619.1,44.2 L620.5,44.6 L621.9,45 L623.3,45.4 L624.7,45.8 L626.1,46.2 L627.5,46.5 L628.9,46.8 L630.3,47.1 L631.7,47.4 L633,47.6 L634.4,47.8 L635.8,48.1 L637.2,48.3 L638.6,48.4 L640,48.6 L641.4,48.8" fill="none" stroke="#f8c02c" stroke-width="1.5" stroke-linejoin="round"/>
<path d="M495.2,50.6 L496.6,50.8 L498,51 L499.4,51.3 L500.8,51.6 L502.2,52 L503.6,52.5 L505,53 L506.4,53.7 L507.8,54.4 L509.2,55.3 L510.6,56.2 L511.9,57.3 L513.3,58.4 L514.7,59.6 L516.1,61 L517.5,62.4 L518.9,63.8 L520.3,65.3 L521.7,66.8 L523.1,68.3 L524.5,69.7 L525.9,71 L527.3,72.3 L528.6,73.4 L530,74.3 L531.4,75 L532.8,75.5 L534.2,75.8 L535.6,75.9 L537,75.8 L538.4,75.8 L539.8,75.6 L541.2,75.5 L542.6,75.3 L544,75 L545.4,74.7 L546.7,74.4 L548.1,74 L549.5,73.6 L550.9,73.1 L552.3,72.7 L553.7,72.2 L555.1,71.6 L556.5,71.1 L557.9,70.5 L559.3,69.9 L560.7,69.3 L562.1,68.6 L563.4,68 L564.8,67.3 L566.2,66.7 L567.6,66 L569,65.4 L570.4,64.7 L571.8,64.1 L573.2,63.4 L574.6,62.8 L576,62.1 L577.4,61.5 L578.8,60.9 L580.2,60.3 L581.5,59.7 L582.9,59.1 L584.3,58.6 L585.7,58.1 L587.1,57.6 L588.5,57.1 L589.9,56.6 L591.3,56.2 L592.7,55.7 L594.1,55.3 L595.5,54.9 L596.9,54.6 L598.2,54.2 L599.6,53.9 L601,53.6 L602.4,53.3 L603.8,53 L605.2,52.8 L606.6,52.5 L608,52.3 L609.4,52.1 L610.8,51.9 L612.2,51.7 L613.6,51.6 L615,51.4 L616.3,51.3 L617.7,51.2 L619.1,51 L620.5,50.9 L621.9,50.8 L623.3,50.7 L624.7,50.7 L626.1,50.6 L627.5,50.5 L628.9,50.5 L630.3,50.4 L631.7,50.4 L633,50.3 L634.4,50.3 L635.8,50.3 L637.2,50.2 L638.6,50.2 L640,50.2 L641.4,50.1" fill="none" stroke="#33628d" stroke-width="1.6" stroke-dasharray="1.4 1.3" stroke-linecap="butt"/>
<path d="M495.2,51 L496.6,51.3 L498,51.6 L499.4,52.1 L500.8,52.6 L502.2,53.1 L503.6,53.8 L505,54.7 L506.4,55.6 L507.8,56.6 L509.2,57.8 L510.6,59.1 L511.9,60.5 L513.3,62.1 L514.7,63.7 L516.1,65.4 L517.5,67.2 L518.9,69 L520.3,70.8 L521.7,72.5 L523.1,74.2 L524.5,75.8 L525.9,77.3 L527.3,78.5 L528.6,79.6 L530,80.4 L531.4,81 L532.8,81.3 L534.2,81.3 L535.6,81.2 L537,81.1 L538.4,81 L539.8,80.8 L541.2,80.5 L542.6,80.2 L544,79.9 L545.4,79.5 L546.7,79 L548.1,78.5 L549.5,78 L550.9,77.5 L552.3,76.9 L553.7,76.3 L555.1,75.6 L556.5,74.9 L557.9,74.2 L559.3,73.5 L560.7,72.8 L562.1,72 L563.4,71.3 L564.8,70.5 L566.2,69.7 L567.6,69 L569,68.2 L570.4,67.4 L571.8,66.7 L573.2,65.9 L574.6,65.2 L576,64.4 L577.4,63.7 L578.8,63 L580.2,62.3 L581.5,61.6 L582.9,61 L584.3,60.3 L585.7,59.7 L587.1,59.1 L588.5,58.5 L589.9,58 L591.3,57.5 L592.7,56.9 L594.1,56.5 L595.5,56 L596.9,55.6 L598.2,55.2 L599.6,54.8 L601,54.4 L602.4,54.1 L603.8,53.7 L605.2,53.4 L606.6,53.1 L608,52.9 L609.4,52.6 L610.8,52.4 L612.2,52.2 L613.6,52 L615,51.8 L616.3,51.6 L617.7,51.5 L619.1,51.3 L620.5,51.2 L621.9,51.1 L623.3,51 L624.7,50.9 L626.1,50.8 L627.5,50.7 L628.9,50.6 L630.3,50.6 L631.7,50.5 L633,50.4 L634.4,50.4 L635.8,50.3 L637.2,50.3 L638.6,50.3 L640,50.2 L641.4,50.2" fill="none" stroke="#2a7b8e" stroke-width="1.6" stroke-dasharray="1.4 1.3" stroke-linecap="butt"/>
<path d="M495.2,50.2 L496.6,50.2 L498,50.3 L499.4,50.3 L500.8,50.4 L502.2,50.6 L503.6,50.7 L505,50.9 L506.4,51.1 L507.8,51.3 L509.2,51.6 L510.6,51.9 L511.9,52.3 L513.3,52.8 L514.7,53.3 L516.1,53.9 L517.5,54.5 L518.9,55.2 L520.3,56 L521.7,56.8 L523.1,57.7 L524.5,58.7 L525.9,59.7 L527.3,60.8 L528.6,61.9 L530,63 L531.4,64.1 L532.8,65.2 L534.2,66.2 L535.6,67.2 L537,68.1 L538.4,69 L539.8,69.7 L541.2,70.3 L542.6,70.8 L544,71.2 L545.4,71.4 L546.7,71.4 L548.1,71.4 L549.5,71.3 L550.9,71.2 L552.3,71 L553.7,70.9 L555.1,70.6 L556.5,70.4 L557.9,70.1 L559.3,69.7 L560.7,69.4 L562.1,69 L563.4,68.6 L564.8,68.1 L566.2,67.7 L567.6,67.2 L569,66.7 L570.4,66.2 L571.8,65.6 L573.2,65.1 L574.6,64.5 L576,64 L577.4,63.4 L578.8,62.8 L580.2,62.3 L581.5,61.7 L582.9,61.2 L584.3,60.6 L585.7,60.1 L587.1,59.5 L588.5,59 L589.9,58.5 L591.3,58 L592.7,57.5 L594.1,57.1 L595.5,56.6 L596.9,56.2 L598.2,55.8 L599.6,55.4 L601,55 L602.4,54.6 L603.8,54.3 L605.2,54 L606.6,53.7 L608,53.4 L609.4,53.1 L610.8,52.8 L612.2,52.6 L613.6,52.4 L615,52.2 L616.3,52 L617.7,51.8 L619.1,51.6 L620.5,51.5 L621.9,51.3 L623.3,51.2 L624.7,51.1 L626.1,51 L627.5,50.9 L628.9,50.8 L630.3,50.7 L631.7,50.6 L633,50.5 L634.4,50.5 L635.8,50.4 L637.2,50.4 L638.6,50.3 L640,50.3 L641.4,50.3" fill="none" stroke="#20998b" stroke-width="1.6" stroke-dasharray="1.4 1.3" stroke-linecap="butt"/>
<path d="M495.2,50.1 L496.6,50.1 L498,50.1 L499.4,50.1 L500.8,50.2 L502.2,50.2 L503.6,50.3 L505,50.4 L506.4,50.5 L507.8,50.6 L509.2,50.7 L510.6,50.9 L511.9,51.1 L513.3,51.4 L514.7,51.7 L516.1,52 L517.5,52.5 L518.9,52.9 L520.3,53.4 L521.7,54 L523.1,54.7 L524.5,55.4 L525.9,56.2 L527.3,57.1 L528.6,58 L530,59 L531.4,60.1 L532.8,61.1 L534.2,62.2 L535.6,63.4 L537,64.5 L538.4,65.6 L539.8,66.6 L541.2,67.6 L542.6,68.5 L544,69.3 L545.4,70 L546.7,70.6 L548.1,71.1 L549.5,71.4 L550.9,71.5 L552.3,71.6 L553.7,71.5 L555.1,71.4 L556.5,71.3 L557.9,71.1 L559.3,70.9 L560.7,70.7 L562.1,70.4 L563.4,70.1 L564.8,69.7 L566.2,69.3 L567.6,68.9 L569,68.5 L570.4,68 L571.8,67.5 L573.2,67 L574.6,66.5 L576,65.9 L577.4,65.4 L578.8,64.8 L580.2,64.2 L581.5,63.7 L582.9,63.1 L584.3,62.5 L585.7,61.9 L587.1,61.3 L588.5,60.8 L589.9,60.2 L591.3,59.7 L592.7,59.1 L594.1,58.6 L595.5,58.1 L596.9,57.6 L598.2,57.1 L599.6,56.7 L601,56.2 L602.4,55.8 L603.8,55.4 L605.2,55 L606.6,54.6 L608,54.3 L609.4,53.9 L610.8,53.6 L612.2,53.3 L613.6,53.1 L615,52.8 L616.3,52.5 L617.7,52.3 L619.1,52.1 L620.5,51.9 L621.9,51.7 L623.3,51.6 L624.7,51.4 L626.1,51.3 L627.5,51.1 L628.9,51 L630.3,50.9 L631.7,50.8 L633,50.7 L634.4,50.7 L635.8,50.6 L637.2,50.5 L638.6,50.5 L640,50.4 L641.4,50.4" fill="none" stroke="#28b07e" stroke-width="1.6" stroke-dasharray="1.4 1.3" stroke-linecap="butt"/>
<path d="M495.2,50 L496.6,50 L498,50 L499.4,50 L500.8,50 L502.2,50 L503.6,50.1 L505,50.1 L506.4,50.1 L507.8,50.1 L509.2,50.2 L510.6,50.2 L511.9,50.3 L513.3,50.4 L514.7,50.5 L516.1,50.6 L517.5,50.8 L518.9,51 L520.3,51.2 L521.7,51.5 L523.1,51.8 L524.5,52.1 L525.9,52.5 L527.3,53 L528.6,53.5 L530,54.1 L531.4,54.8 L532.8,55.5 L534.2,56.3 L535.6,57.2 L537,58.1 L538.4,59.1 L539.8,60.1 L541.2,61.2 L542.6,62.3 L544,63.4 L545.4,64.5 L546.7,65.6 L548.1,66.7 L549.5,67.7 L550.9,68.7 L552.3,69.5 L553.7,70.3 L555.1,70.9 L556.5,71.4 L557.9,71.8 L559.3,72 L560.7,72.1 L562.1,72.1 L563.4,72 L564.8,71.9 L566.2,71.8 L567.6,71.5 L569,71.3 L570.4,71 L571.8,70.7 L573.2,70.3 L574.6,69.9 L576,69.5 L577.4,69.1 L578.8,68.6 L580.2,68.1 L581.5,67.5 L582.9,67 L584.3,66.4 L585.7,65.8 L587.1,65.2 L588.5,64.6 L589.9,64 L591.3,63.4 L592.7,62.8 L594.1,62.2 L595.5,61.6 L596.9,61 L598.2,60.4 L599.6,59.8 L601,59.3 L602.4,58.7 L603.8,58.2 L605.2,57.7 L606.6,57.2 L608,56.7 L609.4,56.2 L610.8,55.8 L612.2,55.4 L613.6,55 L615,54.6 L616.3,54.2 L617.7,53.9 L619.1,53.6 L620.5,53.3 L621.9,53 L623.3,52.7 L624.7,52.5 L626.1,52.3 L627.5,52 L628.9,51.9 L630.3,51.7 L631.7,51.5 L633,51.4 L634.4,51.2 L635.8,51.1 L637.2,51 L638.6,50.9 L640,50.8 L641.4,50.7" fill="none" stroke="#5ec45b" stroke-width="1.6" stroke-dasharray="1.4 1.3" stroke-linecap="butt"/>
<path d="M495.2,50 L496.6,50 L498,50 L499.4,50 L500.8,50 L502.2,50 L503.6,50 L505,50 L506.4,50.1 L507.8,50.1 L509.2,50.1 L510.6,50.1 L511.9,50.2 L513.3,50.2 L514.7,50.3 L516.1,50.4 L517.5,50.5 L518.9,50.6 L520.3,50.7 L521.7,50.9 L523.1,51.1 L524.5,51.4 L525.9,51.6 L527.3,52 L528.6,52.4 L530,52.8 L531.4,53.3 L532.8,53.9 L534.2,54.6 L535.6,55.3 L537,56.1 L538.4,56.9 L539.8,57.8 L541.2,58.8 L542.6,59.8 L544,60.9 L545.4,62 L546.7,63.2 L548.1,64.3 L549.5,65.5 L550.9,66.6 L552.3,67.6 L553.7,68.6 L555.1,69.6 L556.5,70.4 L557.9,71.1 L559.3,71.7 L560.7,72.2 L562.1,72.5 L563.4,72.6 L564.8,72.7 L566.2,72.6 L567.6,72.5 L569,72.4 L570.4,72.2 L571.8,72 L573.2,71.7 L574.6,71.4 L576,71 L577.4,70.6 L578.8,70.2 L580.2,69.8 L581.5,69.3 L582.9,68.8 L584.3,68.2 L585.7,67.7 L587.1,67.1 L588.5,66.5 L589.9,65.9 L591.3,65.3 L592.7,64.7 L594.1,64.1 L595.5,63.4 L596.9,62.8 L598.2,62.2 L599.6,61.6 L601,61 L602.4,60.4 L603.8,59.8 L605.2,59.2 L606.6,58.7 L608,58.1 L609.4,57.6 L610.8,57.1 L612.2,56.6 L613.6,56.2 L615,55.7 L616.3,55.3 L617.7,54.9 L619.1,54.5 L620.5,54.2 L621.9,53.8 L623.3,53.5 L624.7,53.2 L626.1,52.9 L627.5,52.7 L628.9,52.4 L630.3,52.2 L631.7,52 L633,51.8 L634.4,51.6 L635.8,51.5 L637.2,51.3 L638.6,51.2 L640,51.1 L641.4,50.9" fill="none" stroke="#a9d53a" stroke-width="1.6" stroke-dasharray="1.4 1.3" stroke-linecap="butt"/>
<path d="M495.2,50 L496.6,50 L498,50 L499.4,50 L500.8,50 L502.2,50 L503.6,50 L505,50 L506.4,50 L507.8,50 L509.2,50.1 L510.6,50.1 L511.9,50.1 L513.3,50.1 L514.7,50.2 L516.1,50.2 L517.5,50.3 L518.9,50.4 L520.3,50.5 L521.7,50.6 L523.1,50.8 L524.5,51 L525.9,51.2 L527.3,51.4 L528.6,51.8 L530,52.1 L531.4,52.5 L532.8,53 L534.2,53.6 L535.6,54.2 L537,54.9 L538.4,55.6 L539.8,56.5 L541.2,57.4 L542.6,58.4 L544,59.4 L545.4,60.6 L546.7,61.7 L548.1,62.9 L549.5,64.1 L550.9,65.4 L552.3,66.6 L553.7,67.8 L555.1,68.9 L556.5,70 L557.9,71 L559.3,71.9 L560.7,72.6 L562.1,73.3 L563.4,73.8 L564.8,74.1 L566.2,74.3 L567.6,74.3 L569,74.2 L570.4,74.1 L571.8,74 L573.2,73.8 L574.6,73.5 L576,73.2 L577.4,72.9 L578.8,72.5 L580.2,72 L581.5,71.6 L582.9,71.1 L584.3,70.5 L585.7,69.9 L587.1,69.4 L588.5,68.7 L589.9,68.1 L591.3,67.4 L592.7,66.8 L594.1,66.1 L595.5,65.4 L596.9,64.7 L598.2,64.1 L599.6,63.4 L601,62.7 L602.4,62 L603.8,61.4 L605.2,60.7 L606.6,60.1 L608,59.5 L609.4,58.9 L610.8,58.3 L612.2,57.8 L613.6,57.2 L615,56.7 L616.3,56.2 L617.7,55.8 L619.1,55.3 L620.5,54.9 L621.9,54.5 L623.3,54.1 L624.7,53.8 L626.1,53.4 L627.5,53.1 L628.9,52.9 L630.3,52.6 L631.7,52.3 L633,52.1 L634.4,51.9 L635.8,51.7 L637.2,51.5 L638.6,51.4 L640,51.2 L641.4,51.1" fill="none" stroke="#f6e01f" stroke-width="1.6" stroke-dasharray="1.4 1.3" stroke-linecap="butt"/>
<path d="M495.2,50 L496.6,50 L498,50 L499.4,50 L500.8,50 L502.2,50 L503.6,50 L505,50 L506.4,50 L507.8,50 L509.2,50 L510.6,50.1 L511.9,50.1 L513.3,50.1 L514.7,50.1 L516.1,50.2 L517.5,50.2 L518.9,50.3 L520.3,50.4 L521.7,50.5 L523.1,50.6 L524.5,50.7 L525.9,50.9 L527.3,51.1 L528.6,51.4 L530,51.7 L531.4,52 L532.8,52.5 L534.2,52.9 L535.6,53.5 L537,54.1 L538.4,54.8 L539.8,55.5 L541.2,56.4 L542.6,57.3 L544,58.3 L545.4,59.4 L546.7,60.5 L548.1,61.7 L549.5,63 L550.9,64.3 L552.3,65.6 L553.7,66.9 L555.1,68.1 L556.5,69.4 L557.9,70.5 L559.3,71.6 L560.7,72.6 L562.1,73.5 L563.4,74.3 L564.8,74.9 L566.2,75.3 L567.6,75.6 L569,75.7 L570.4,75.6 L571.8,75.5 L573.2,75.4 L574.6,75.2 L576,74.9 L577.4,74.6 L578.8,74.3 L580.2,73.9 L581.5,73.4 L582.9,72.9 L584.3,72.4 L585.7,71.8 L587.1,71.2 L588.5,70.5 L589.9,69.9 L591.3,69.2 L592.7,68.5 L594.1,67.8 L595.5,67 L596.9,66.3 L598.2,65.6 L599.6,64.8 L601,64.1 L602.4,63.4 L603.8,62.6 L605.2,61.9 L606.6,61.2 L608,60.5 L609.4,59.9 L610.8,59.2 L612.2,58.6 L613.6,58 L615,57.5 L616.3,56.9 L617.7,56.4 L619.1,55.9 L620.5,55.4 L621.9,55 L623.3,54.6 L624.7,54.2 L626.1,53.8 L627.5,53.5 L628.9,53.2 L630.3,52.9 L631.7,52.6 L633,52.3 L634.4,52.1 L635.8,51.9 L637.2,51.7 L638.6,51.5 L640,51.3 L641.4,51.2" fill="none" stroke="#f8c02c" stroke-width="1.6" stroke-dasharray="1.4 1.3" stroke-linecap="butt"/>
</g>
<g clip-path="url(#clipc2)">
<path d="M495.2,164 L496.6,163.4 L498,162.8 L499.4,161.9 L500.8,160.9 L502.2,159.6 L503.6,158 L505,156.2 L506.4,154 L507.8,151.5 L509.2,148.8 L510.6,145.7 L511.9,142.4 L513.3,138.9 L514.7,135.2 L516.1,131.4 L517.5,127.6 L518.9,123.8 L520.3,120.2 L521.7,116.7 L523.1,113.5 L524.5,110.6 L525.9,108.1 L527.3,106 L528.6,104.2 L530,102.9 L531.4,101.9 L532.8,101.3 L534.2,101 L535.6,100.9 L537,100.9 L538.4,101.1 L539.8,101.3 L541.2,101.7 L542.6,102.2 L544,102.8 L545.4,103.5 L546.7,104.3 L548.1,105.1 L549.5,106.1 L550.9,107.2 L552.3,108.3 L553.7,109.6 L555.1,110.8 L556.5,112.2 L557.9,113.6 L559.3,115.1 L560.7,116.6 L562.1,118.2 L563.4,119.7 L564.8,121.3 L566.2,123 L567.6,124.6 L569,126.2 L570.4,127.9 L571.8,129.5 L573.2,131.2 L574.6,132.8 L576,134.4 L577.4,135.9 L578.8,137.5 L580.2,139 L581.5,140.4 L582.9,141.8 L584.3,143.2 L585.7,144.6 L587.1,145.9 L588.5,147.1 L589.9,148.3 L591.3,149.4 L592.7,150.5 L594.1,151.6 L595.5,152.6 L596.9,153.5 L598.2,154.4 L599.6,155.2 L601,156 L602.4,156.8 L603.8,157.5 L605.2,158.1 L606.6,158.7 L608,159.3 L609.4,159.8 L610.8,160.3 L612.2,160.8 L613.6,161.2 L615,161.6 L616.3,162 L617.7,162.3 L619.1,162.6 L620.5,162.9 L621.9,163.1 L623.3,163.3 L624.7,163.5 L626.1,163.7 L627.5,163.9 L628.9,164.1 L630.3,164.2 L631.7,164.3 L633,164.4 L634.4,164.5 L635.8,164.6 L637.2,164.7 L638.6,164.8 L640,164.8 L641.4,164.9" fill="none" stroke="#33628d" stroke-width="1.6" stroke-linejoin="round"/>
<path d="M495.2,164.3 L496.6,164 L498,163.4 L499.4,162.8 L500.8,161.9 L502.2,160.9 L503.6,159.6 L505,158 L506.4,156.2 L507.8,154 L509.2,151.5 L510.6,148.8 L511.9,145.7 L513.3,142.4 L514.7,138.9 L516.1,135.2 L517.5,131.4 L518.9,127.6 L520.3,123.8 L521.7,120.2 L523.1,116.7 L524.5,113.5 L525.9,110.6 L527.3,108.1 L528.6,106 L530,104.2 L531.4,102.9 L532.8,101.9 L534.2,101.3 L535.6,101 L537,100.9 L538.4,100.9 L539.8,101.1 L541.2,101.3 L542.6,101.7 L544,102.2 L545.4,102.8 L546.7,103.5 L548.1,104.3 L549.5,105.1 L550.9,106.1 L552.3,107.2 L553.7,108.3 L555.1,109.6 L556.5,110.8 L557.9,112.2 L559.3,113.6 L560.7,115.1 L562.1,116.6 L563.4,118.2 L564.8,119.7 L566.2,121.3 L567.6,123 L569,124.6 L570.4,126.2 L571.8,127.9 L573.2,129.5 L574.6,131.2 L576,132.8 L577.4,134.4 L578.8,135.9 L580.2,137.5 L581.5,139 L582.9,140.4 L584.3,141.8 L585.7,143.2 L587.1,144.6 L588.5,145.9 L589.9,147.1 L591.3,148.3 L592.7,149.4 L594.1,150.5 L595.5,151.6 L596.9,152.6 L598.2,153.5 L599.6,154.4 L601,155.2 L602.4,156 L603.8,156.8 L605.2,157.5 L606.6,158.1 L608,158.7 L609.4,159.3 L610.8,159.8 L612.2,160.3 L613.6,160.8 L615,161.2 L616.3,161.6 L617.7,162 L619.1,162.3 L620.5,162.6 L621.9,162.9 L623.3,163.1 L624.7,163.3 L626.1,163.5 L627.5,163.7 L628.9,163.9 L630.3,164.1 L631.7,164.2 L633,164.3 L634.4,164.4 L635.8,164.5 L637.2,164.6 L638.6,164.7 L640,164.8 L641.4,164.8" fill="none" stroke="#33628d" stroke-width="1.6" stroke-dasharray="1.4 1.3" stroke-linecap="butt"/>
<path d="M495.2,163.7 L496.6,163.2 L498,162.4 L499.4,161.5 L500.8,160.3 L502.2,158.9 L503.6,157.2 L505,155.2 L506.4,152.9 L507.8,150.3 L509.2,147.5 L510.6,144.3 L511.9,140.9 L513.3,137.3 L514.7,133.6 L516.1,129.8 L517.5,126.1 L518.9,122.4 L520.3,118.9 L521.7,115.6 L523.1,112.6 L524.5,109.9 L525.9,107.6 L527.3,105.6 L528.6,104.1 L530,103 L531.4,102.2 L532.8,101.8 L534.2,101.6 L535.6,101.6 L537,101.6 L538.4,101.8 L539.8,102.2 L541.2,102.6 L542.6,103.2 L544,103.8 L545.4,104.6 L546.7,105.4 L548.1,106.4 L549.5,107.5 L550.9,108.6 L552.3,109.8 L553.7,111.1 L555.1,112.5 L556.5,113.9 L557.9,115.4 L559.3,116.9 L560.7,118.5 L562.1,120 L563.4,121.7 L564.8,123.3 L566.2,125 L567.6,126.6 L569,128.3 L570.4,130 L571.8,131.6 L573.2,133.2 L574.6,134.8 L576,136.4 L577.4,138 L578.8,139.5 L580.2,140.9 L581.5,142.4 L582.9,143.8 L584.3,145.1 L585.7,146.4 L587.1,147.6 L588.5,148.8 L589.9,150 L591.3,151.1 L592.7,152.1 L594.1,153.1 L595.5,154 L596.9,154.9 L598.2,155.7 L599.6,156.5 L601,157.2 L602.4,157.9 L603.8,158.5 L605.2,159.1 L606.6,159.7 L608,160.2 L609.4,160.7 L610.8,161.1 L612.2,161.5 L613.6,161.9 L615,162.2 L616.3,162.5 L617.7,162.8 L619.1,163.1 L620.5,163.3 L621.9,163.5 L623.3,163.7 L624.7,163.9 L626.1,164.1 L627.5,164.2 L628.9,164.3 L630.3,164.4 L631.7,164.5 L633,164.6 L634.4,164.7 L635.8,164.8 L637.2,164.9 L638.6,164.9 L640,165 L641.4,165" fill="none" stroke="#2a7b8e" stroke-width="1.6" stroke-linejoin="round"/>
<path d="M495.2,164.2 L496.6,163.7 L498,163.2 L499.4,162.4 L500.8,161.5 L502.2,160.3 L503.6,158.9 L505,157.2 L506.4,155.2 L507.8,152.9 L509.2,150.3 L510.6,147.5 L511.9,144.3 L513.3,140.9 L514.7,137.3 L516.1,133.6 L517.5,129.8 L518.9,126.1 L520.3,122.4 L521.7,118.9 L523.1,115.6 L524.5,112.6 L525.9,109.9 L527.3,107.6 L528.6,105.6 L530,104.1 L531.4,103 L532.8,102.2 L534.2,101.8 L535.6,101.6 L537,101.6 L538.4,101.6 L539.8,101.8 L541.2,102.2 L542.6,102.6 L544,103.2 L545.4,103.8 L546.7,104.6 L548.1,105.4 L549.5,106.4 L550.9,107.5 L552.3,108.6 L553.7,109.8 L555.1,111.1 L556.5,112.5 L557.9,113.9 L559.3,115.4 L560.7,116.9 L562.1,118.5 L563.4,120 L564.8,121.7 L566.2,123.3 L567.6,125 L569,126.6 L570.4,128.3 L571.8,130 L573.2,131.6 L574.6,133.2 L576,134.8 L577.4,136.4 L578.8,138 L580.2,139.5 L581.5,140.9 L582.9,142.4 L584.3,143.8 L585.7,145.1 L587.1,146.4 L588.5,147.6 L589.9,148.8 L591.3,150 L592.7,151.1 L594.1,152.1 L595.5,153.1 L596.9,154 L598.2,154.9 L599.6,155.7 L601,156.5 L602.4,157.2 L603.8,157.9 L605.2,158.5 L606.6,159.1 L608,159.7 L609.4,160.2 L610.8,160.7 L612.2,161.1 L613.6,161.5 L615,161.9 L616.3,162.2 L617.7,162.5 L619.1,162.8 L620.5,163.1 L621.9,163.3 L623.3,163.5 L624.7,163.7 L626.1,163.9 L627.5,164.1 L628.9,164.2 L630.3,164.3 L631.7,164.4 L633,164.5 L634.4,164.6 L635.8,164.7 L637.2,164.8 L638.6,164.9 L640,164.9 L641.4,165" fill="none" stroke="#2a7b8e" stroke-width="1.6" stroke-dasharray="1.4 1.3" stroke-linecap="butt"/>
<path d="M495.2,165.2 L496.6,165.2 L498,165.2 L499.4,165.1 L500.8,165 L502.2,164.9 L503.6,164.7 L505,164.5 L506.4,164.2 L507.8,163.8 L509.2,163.4 L510.6,162.8 L511.9,162 L513.3,161.1 L514.7,160.1 L516.1,158.8 L517.5,157.3 L518.9,155.5 L520.3,153.6 L521.7,151.4 L523.1,148.9 L524.5,146.3 L525.9,143.4 L527.3,140.4 L528.6,137.2 L530,134 L531.4,130.7 L532.8,127.4 L534.2,124.2 L535.6,121.1 L537,118.1 L538.4,115.3 L539.8,112.8 L541.2,110.5 L542.6,108.6 L544,106.9 L545.4,105.5 L546.7,104.5 L548.1,103.7 L549.5,103.2 L550.9,102.9 L552.3,102.8 L553.7,102.8 L555.1,103 L556.5,103.3 L557.9,103.7 L559.3,104.3 L560.7,105 L562.1,105.9 L563.4,106.9 L564.8,108 L566.2,109.2 L567.6,110.5 L569,111.9 L570.4,113.4 L571.8,115 L573.2,116.7 L574.6,118.4 L576,120.1 L577.4,121.9 L578.8,123.7 L580.2,125.6 L581.5,127.4 L582.9,129.3 L584.3,131.1 L585.7,132.9 L587.1,134.7 L588.5,136.5 L589.9,138.2 L591.3,139.9 L592.7,141.5 L594.1,143.1 L595.5,144.6 L596.9,146.1 L598.2,147.5 L599.6,148.9 L601,150.1 L602.4,151.4 L603.8,152.5 L605.2,153.6 L606.6,154.6 L608,155.5 L609.4,156.4 L610.8,157.2 L612.2,158 L613.6,158.7 L615,159.4 L616.3,160 L617.7,160.5 L619.1,161 L620.5,161.5 L621.9,161.9 L623.3,162.3 L624.7,162.6 L626.1,162.9 L627.5,163.2 L628.9,163.5 L630.3,163.7 L631.7,163.9 L633,164.1 L634.4,164.2 L635.8,164.4 L637.2,164.5 L638.6,164.6 L640,164.7 L641.4,164.8" fill="none" stroke="#20998b" stroke-width="1.6" stroke-linejoin="round"/>
<path d="M495.2,165.3 L496.6,165.2 L498,165.2 L499.4,165.2 L500.8,165.1 L502.2,165 L503.6,164.9 L505,164.7 L506.4,164.5 L507.8,164.2 L509.2,163.8 L510.6,163.4 L511.9,162.8 L513.3,162 L514.7,161.1 L516.1,160.1 L517.5,158.8 L518.9,157.3 L520.3,155.5 L521.7,153.6 L523.1,151.4 L524.5,148.9 L525.9,146.3 L527.3,143.4 L528.6,140.4 L530,137.2 L531.4,134 L532.8,130.7 L534.2,127.4 L535.6,124.2 L537,121.1 L538.4,118.1 L539.8,115.3 L541.2,112.8 L542.6,110.5 L544,108.6 L545.4,106.9 L546.7,105.5 L548.1,104.5 L549.5,103.7 L550.9,103.2 L552.3,102.9 L553.7,102.8 L555.1,102.8 L556.5,103 L557.9,103.3 L559.3,103.7 L560.7,104.3 L562.1,105 L563.4,105.9 L564.8,106.9 L566.2,108 L567.6,109.2 L569,110.5 L570.4,111.9 L571.8,113.4 L573.2,115 L574.6,116.7 L576,118.4 L577.4,120.1 L578.8,121.9 L580.2,123.7 L581.5,125.6 L582.9,127.4 L584.3,129.3 L585.7,131.1 L587.1,132.9 L588.5,134.7 L589.9,136.5 L591.3,138.2 L592.7,139.9 L594.1,141.5 L595.5,143.1 L596.9,144.6 L598.2,146.1 L599.6,147.5 L601,148.9 L602.4,150.1 L603.8,151.4 L605.2,152.5 L606.6,153.6 L608,154.6 L609.4,155.5 L610.8,156.4 L612.2,157.2 L613.6,158 L615,158.7 L616.3,159.4 L617.7,160 L619.1,160.5 L620.5,161 L621.9,161.5 L623.3,161.9 L624.7,162.3 L626.1,162.6 L627.5,162.9 L628.9,163.2 L630.3,163.5 L631.7,163.7 L633,163.9 L634.4,164.1 L635.8,164.2 L637.2,164.4 L638.6,164.5 L640,164.6 L641.4,164.7" fill="none" stroke="#20998b" stroke-width="1.6" stroke-dasharray="1.4 1.3" stroke-linecap="butt"/>
<path d="M495.2,165.3 L496.6,165.3 L498,165.2 L499.4,165.2 L500.8,165.1 L502.2,165.1 L503.6,165 L505,164.8 L506.4,164.6 L507.8,164.4 L509.2,164 L510.6,163.6 L511.9,163.1 L513.3,162.4 L514.7,161.6 L516.1,160.6 L517.5,159.4 L518.9,158 L520.3,156.4 L521.7,154.6 L523.1,152.5 L524.5,150.2 L525.9,147.6 L527.3,144.9 L528.6,141.9 L530,138.8 L531.4,135.6 L532.8,132.3 L534.2,129 L535.6,125.8 L537,122.6 L538.4,119.5 L539.8,116.7 L541.2,114 L542.6,111.6 L544,109.5 L545.4,107.7 L546.7,106.2 L548.1,105 L549.5,104.1 L550.9,103.4 L552.3,103 L553.7,102.9 L555.1,102.8 L556.5,102.9 L557.9,103 L559.3,103.3 L560.7,103.7 L562.1,104.1 L563.4,104.7 L564.8,105.3 L566.2,106.1 L567.6,106.9 L569,107.8 L570.4,108.8 L571.8,109.9 L573.2,111 L574.6,112.2 L576,113.5 L577.4,114.8 L578.8,116.2 L580.2,117.6 L581.5,119.1 L582.9,120.5 L584.3,122 L585.7,123.6 L587.1,125.1 L588.5,126.6 L589.9,128.2 L591.3,129.7 L592.7,131.3 L594.1,132.8 L595.5,134.3 L596.9,135.8 L598.2,137.2 L599.6,138.7 L601,140.1 L602.4,141.4 L603.8,142.8 L605.2,144.1 L606.6,145.3 L608,146.5 L609.4,147.7 L610.8,148.8 L612.2,149.9 L613.6,150.9 L615,151.9 L616.3,152.8 L617.7,153.7 L619.1,154.6 L620.5,155.4 L621.9,156.1 L623.3,156.8 L624.7,157.5 L626.1,158.1 L627.5,158.7 L628.9,159.3 L630.3,159.8 L631.7,160.3 L633,160.7 L634.4,161.1 L635.8,161.5 L637.2,161.9 L638.6,162.2 L640,162.5 L641.4,162.8" fill="none" stroke="#28b07e" stroke-width="1.6" stroke-linejoin="round"/>
<path d="M495.2,165.3 L496.6,165.3 L498,165.3 L499.4,165.2 L500.8,165.2 L502.2,165.1 L503.6,165.1 L505,165 L506.4,164.8 L507.8,164.6 L509.2,164.4 L510.6,164 L511.9,163.6 L513.3,163.1 L514.7,162.4 L516.1,161.6 L517.5,160.6 L518.9,159.4 L520.3,158 L521.7,156.4 L523.1,154.6 L524.5,152.5 L525.9,150.2 L527.3,147.6 L528.6,144.9 L530,141.9 L531.4,138.8 L532.8,135.6 L534.2,132.3 L535.6,129 L537,125.8 L538.4,122.6 L539.8,119.5 L541.2,116.7 L542.6,114 L544,111.6 L545.4,109.5 L546.7,107.7 L548.1,106.2 L549.5,105 L550.9,104.1 L552.3,103.4 L553.7,103 L555.1,102.9 L556.5,102.8 L557.9,102.9 L559.3,103 L560.7,103.3 L562.1,103.7 L563.4,104.1 L564.8,104.7 L566.2,105.3 L567.6,106.1 L569,106.9 L570.4,107.8 L571.8,108.8 L573.2,109.9 L574.6,111 L576,112.2 L577.4,113.5 L578.8,114.8 L580.2,116.2 L581.5,117.6 L582.9,119.1 L584.3,120.5 L585.7,122 L587.1,123.6 L588.5,125.1 L589.9,126.6 L591.3,128.2 L592.7,129.7 L594.1,131.3 L595.5,132.8 L596.9,134.3 L598.2,135.8 L599.6,137.2 L601,138.7 L602.4,140.1 L603.8,141.4 L605.2,142.8 L606.6,144.1 L608,145.3 L609.4,146.5 L610.8,147.7 L612.2,148.8 L613.6,149.9 L615,150.9 L616.3,151.9 L617.7,152.8 L619.1,153.7 L620.5,154.6 L621.9,155.4 L623.3,156.1 L624.7,156.8 L626.1,157.5 L627.5,158.1 L628.9,158.7 L630.3,159.3 L631.7,159.8 L633,160.3 L634.4,160.7 L635.8,161.1 L637.2,161.5 L638.6,161.9 L640,162.2 L641.4,162.5" fill="none" stroke="#28b07e" stroke-width="1.6" stroke-dasharray="1.4 1.3" stroke-linecap="butt"/>
<path d="M495.2,165.3 L496.6,165.3 L498,165.3 L499.4,165.3 L500.8,165.3 L502.2,165.2 L503.6,165.2 L505,165.1 L506.4,165.1 L507.8,165 L509.2,164.9 L510.6,164.7 L511.9,164.4 L513.3,164.1 L514.7,163.7 L516.1,163.2 L517.5,162.6 L518.9,161.8 L520.3,160.9 L521.7,159.7 L523.1,158.4 L524.5,156.9 L525.9,155.1 L527.3,153 L528.6,150.8 L530,148.3 L531.4,145.6 L532.8,142.7 L534.2,139.6 L535.6,136.4 L537,133.2 L538.4,129.9 L539.8,126.6 L541.2,123.4 L542.6,120.3 L544,117.4 L545.4,114.7 L546.7,112.2 L548.1,110 L549.5,108.1 L550.9,106.5 L552.3,105.2 L553.7,104.3 L555.1,103.6 L556.5,103.1 L557.9,102.9 L559.3,102.8 L560.7,102.9 L562.1,103 L563.4,103.2 L564.8,103.6 L566.2,104 L567.6,104.5 L569,105.2 L570.4,105.9 L571.8,106.7 L573.2,107.6 L574.6,108.6 L576,109.6 L577.4,110.7 L578.8,111.9 L580.2,113.2 L581.5,114.5 L582.9,115.8 L584.3,117.2 L585.7,118.7 L587.1,120.2 L588.5,121.7 L589.9,123.2 L591.3,124.7 L592.7,126.2 L594.1,127.8 L595.5,129.3 L596.9,130.9 L598.2,132.4 L599.6,133.9 L601,135.4 L602.4,136.9 L603.8,138.3 L605.2,139.7 L606.6,141.1 L608,142.5 L609.4,143.8 L610.8,145 L612.2,146.2 L613.6,147.4 L615,148.5 L616.3,149.6 L617.7,150.7 L619.1,151.7 L620.5,152.6 L621.9,153.5 L623.3,154.4 L624.7,155.2 L626.1,155.9 L627.5,156.7 L628.9,157.4 L630.3,158 L631.7,158.6 L633,159.1 L634.4,159.7 L635.8,160.2 L637.2,160.6 L638.6,161 L640,161.4 L641.4,161.8" fill="none" stroke="#5ec45b" stroke-width="1.6" stroke-linejoin="round"/>
<path d="M495.2,165.3 L496.6,165.3 L498,165.3 L499.4,165.3 L500.8,165.3 L502.2,165.3 L503.6,165.2 L505,165.2 L506.4,165.1 L507.8,165.1 L509.2,165 L510.6,164.9 L511.9,164.7 L513.3,164.4 L514.7,164.1 L516.1,163.7 L517.5,163.2 L518.9,162.6 L520.3,161.8 L521.7,160.9 L523.1,159.7 L524.5,158.4 L525.9,156.9 L527.3,155.1 L528.6,153 L530,150.8 L531.4,148.3 L532.8,145.6 L534.2,142.7 L535.6,139.6 L537,136.4 L538.4,133.2 L539.8,129.9 L541.2,126.6 L542.6,123.4 L544,120.3 L545.4,117.4 L546.7,114.7 L548.1,112.2 L549.5,110 L550.9,108.1 L552.3,106.5 L553.7,105.2 L555.1,104.3 L556.5,103.6 L557.9,103.1 L559.3,102.9 L560.7,102.8 L562.1,102.9 L563.4,103 L564.8,103.2 L566.2,103.6 L567.6,104 L569,104.5 L570.4,105.2 L571.8,105.9 L573.2,106.7 L574.6,107.6 L576,108.6 L577.4,109.6 L578.8,110.7 L580.2,111.9 L581.5,113.2 L582.9,114.5 L584.3,115.8 L585.7,117.2 L587.1,118.7 L588.5,120.2 L589.9,121.7 L591.3,123.2 L592.7,124.7 L594.1,126.2 L595.5,127.8 L596.9,129.3 L598.2,130.9 L599.6,132.4 L601,133.9 L602.4,135.4 L603.8,136.9 L605.2,138.3 L606.6,139.7 L608,141.1 L609.4,142.5 L610.8,143.8 L612.2,145 L613.6,146.2 L615,147.4 L616.3,148.5 L617.7,149.6 L619.1,150.7 L620.5,151.7 L621.9,152.6 L623.3,153.5 L624.7,154.4 L626.1,155.2 L627.5,155.9 L628.9,156.7 L630.3,157.4 L631.7,158 L633,158.6 L634.4,159.1 L635.8,159.7 L637.2,160.2 L638.6,160.6 L640,161 L641.4,161.4" fill="none" stroke="#5ec45b" stroke-width="1.6" stroke-dasharray="1.4 1.3" stroke-linecap="butt"/>
<path d="M495.2,165.3 L496.6,165.3 L498,165.3 L499.4,165.3 L500.8,165.3 L502.2,165.3 L503.6,165.3 L505,165.2 L506.4,165.2 L507.8,165.2 L509.2,165.1 L510.6,165 L511.9,164.9 L513.3,164.8 L514.7,164.6 L516.1,164.3 L517.5,163.9 L518.9,163.5 L520.3,162.9 L521.7,162.2 L523.1,161.4 L524.5,160.3 L525.9,159.1 L527.3,157.7 L528.6,156 L530,154.1 L531.4,151.9 L532.8,149.5 L534.2,146.9 L535.6,144.1 L537,141.2 L538.4,138 L539.8,134.8 L541.2,131.5 L542.6,128.2 L544,125 L545.4,121.8 L546.7,118.8 L548.1,116 L549.5,113.4 L550.9,111.1 L552.3,109 L553.7,107.3 L555.1,105.8 L556.5,104.7 L557.9,103.9 L559.3,103.3 L560.7,103 L562.1,102.8 L563.4,102.8 L564.8,102.9 L566.2,103.1 L567.6,103.4 L569,103.8 L570.4,104.3 L571.8,104.9 L573.2,105.6 L574.6,106.4 L576,107.3 L577.4,108.3 L578.8,109.3 L580.2,110.5 L581.5,111.7 L582.9,112.9 L584.3,114.2 L585.7,115.6 L587.1,117 L588.5,118.5 L589.9,120 L591.3,121.5 L592.7,123.1 L594.1,124.6 L595.5,126.2 L596.9,127.8 L598.2,129.4 L599.6,130.9 L601,132.5 L602.4,134.1 L603.8,135.6 L605.2,137.1 L606.6,138.5 L608,140 L609.4,141.4 L610.8,142.7 L612.2,144.1 L613.6,145.3 L615,146.6 L616.3,147.8 L617.7,148.9 L619.1,150 L620.5,151 L621.9,152 L623.3,153 L624.7,153.9 L626.1,154.7 L627.5,155.5 L628.9,156.3 L630.3,157 L631.7,157.7 L633,158.3 L634.4,158.9 L635.8,159.5 L637.2,160 L638.6,160.4 L640,160.9 L641.4,161.3" fill="none" stroke="#a9d53a" stroke-width="1.6" stroke-linejoin="round"/>
<path d="M495.2,165.3 L496.6,165.3 L498,165.3 L499.4,165.3 L500.8,165.3 L502.2,165.3 L503.6,165.3 L505,165.3 L506.4,165.2 L507.8,165.2 L509.2,165.2 L510.6,165.1 L511.9,165 L513.3,164.9 L514.7,164.8 L516.1,164.6 L517.5,164.3 L518.9,163.9 L520.3,163.5 L521.7,162.9 L523.1,162.2 L524.5,161.4 L525.9,160.3 L527.3,159.1 L528.6,157.7 L530,156 L531.4,154.1 L532.8,151.9 L534.2,149.5 L535.6,146.9 L537,144.1 L538.4,141.2 L539.8,138 L541.2,134.8 L542.6,131.5 L544,128.2 L545.4,125 L546.7,121.8 L548.1,118.8 L549.5,116 L550.9,113.4 L552.3,111.1 L553.7,109 L555.1,107.3 L556.5,105.8 L557.9,104.7 L559.3,103.9 L560.7,103.3 L562.1,103 L563.4,102.8 L564.8,102.8 L566.2,102.9 L567.6,103.1 L569,103.4 L570.4,103.8 L571.8,104.3 L573.2,104.9 L574.6,105.6 L576,106.4 L577.4,107.3 L578.8,108.3 L580.2,109.3 L581.5,110.5 L582.9,111.7 L584.3,112.9 L585.7,114.2 L587.1,115.6 L588.5,117 L589.9,118.5 L591.3,120 L592.7,121.5 L594.1,123.1 L595.5,124.6 L596.9,126.2 L598.2,127.8 L599.6,129.4 L601,130.9 L602.4,132.5 L603.8,134.1 L605.2,135.6 L606.6,137.1 L608,138.5 L609.4,140 L610.8,141.4 L612.2,142.7 L613.6,144.1 L615,145.3 L616.3,146.6 L617.7,147.8 L619.1,148.9 L620.5,150 L621.9,151 L623.3,152 L624.7,153 L626.1,153.9 L627.5,154.7 L628.9,155.5 L630.3,156.3 L631.7,157 L633,157.7 L634.4,158.3 L635.8,158.9 L637.2,159.5 L638.6,160 L640,160.4 L641.4,160.9" fill="none" stroke="#a9d53a" stroke-width="1.6" stroke-dasharray="1.4 1.3" stroke-linecap="butt"/>
<path d="M495.2,165.3 L496.6,165.3 L498,165.3 L499.4,165.3 L500.8,165.3 L502.2,165.3 L503.6,165.3 L505,165.3 L506.4,165.3 L507.8,165.3 L509.2,165.3 L510.6,165.3 L511.9,165.2 L513.3,165.2 L514.7,165.1 L516.1,165.1 L517.5,165 L518.9,164.8 L520.3,164.6 L521.7,164.4 L523.1,164 L524.5,163.6 L525.9,163.1 L527.3,162.4 L528.6,161.6 L530,160.6 L531.4,159.4 L532.8,158 L534.2,156.4 L535.6,154.6 L537,152.5 L538.4,150.2 L539.8,147.6 L541.2,144.9 L542.6,141.9 L544,138.8 L545.4,135.6 L546.7,132.3 L548.1,129 L549.5,125.8 L550.9,122.6 L552.3,119.5 L553.7,116.7 L555.1,114 L556.5,111.6 L557.9,109.5 L559.3,107.7 L560.7,106.2 L562.1,105 L563.4,104.1 L564.8,103.4 L566.2,103 L567.6,102.9 L569,102.8 L570.4,102.9 L571.8,103 L573.2,103.3 L574.6,103.7 L576,104.2 L577.4,104.8 L578.8,105.5 L580.2,106.3 L581.5,107.2 L582.9,108.1 L584.3,109.2 L585.7,110.3 L587.1,111.5 L588.5,112.8 L589.9,114.1 L591.3,115.5 L592.7,116.9 L594.1,118.4 L595.5,119.9 L596.9,121.5 L598.2,123 L599.6,124.6 L601,126.2 L602.4,127.8 L603.8,129.4 L605.2,131 L606.6,132.6 L608,134.1 L609.4,135.7 L610.8,137.2 L612.2,138.6 L613.6,140.1 L615,141.5 L616.3,142.9 L617.7,144.2 L619.1,145.5 L620.5,146.7 L621.9,147.9 L623.3,149.1 L624.7,150.2 L626.1,151.2 L627.5,152.2 L628.9,153.2 L630.3,154.1 L631.7,154.9 L633,155.7 L634.4,156.5 L635.8,157.2 L637.2,157.9 L638.6,158.5 L640,159.1 L641.4,159.6" fill="none" stroke="#f6e01f" stroke-width="1.6" stroke-linejoin="round"/>
<path d="M495.2,165.3 L496.6,165.3 L498,165.3 L499.4,165.3 L500.8,165.3 L502.2,165.3 L503.6,165.3 L505,165.3 L506.4,165.3 L507.8,165.3 L509.2,165.3 L510.6,165.3 L511.9,165.3 L513.3,165.2 L514.7,165.2 L516.1,165.1 L517.5,165.1 L518.9,165 L520.3,164.8 L521.7,164.6 L523.1,164.4 L524.5,164 L525.9,163.6 L527.3,163.1 L528.6,162.4 L530,161.6 L531.4,160.6 L532.8,159.4 L534.2,158 L535.6,156.4 L537,154.6 L538.4,152.5 L539.8,150.2 L541.2,147.6 L542.6,144.9 L544,141.9 L545.4,138.8 L546.7,135.6 L548.1,132.3 L549.5,129 L550.9,125.8 L552.3,122.6 L553.7,119.5 L555.1,116.7 L556.5,114 L557.9,111.6 L559.3,109.5 L560.7,107.7 L562.1,106.2 L563.4,105 L564.8,104.1 L566.2,103.4 L567.6,103 L569,102.9 L570.4,102.8 L571.8,102.9 L573.2,103 L574.6,103.3 L576,103.7 L577.4,104.2 L578.8,104.8 L580.2,105.5 L581.5,106.3 L582.9,107.2 L584.3,108.1 L585.7,109.2 L587.1,110.3 L588.5,111.5 L589.9,112.8 L591.3,114.1 L592.7,115.5 L594.1,116.9 L595.5,118.4 L596.9,119.9 L598.2,121.5 L599.6,123 L601,124.6 L602.4,126.2 L603.8,127.8 L605.2,129.4 L606.6,131 L608,132.6 L609.4,134.1 L610.8,135.7 L612.2,137.2 L613.6,138.6 L615,140.1 L616.3,141.5 L617.7,142.9 L619.1,144.2 L620.5,145.5 L621.9,146.7 L623.3,147.9 L624.7,149.1 L626.1,150.2 L627.5,151.2 L628.9,152.2 L630.3,153.2 L631.7,154.1 L633,154.9 L634.4,155.7 L635.8,156.5 L637.2,157.2 L638.6,157.9 L640,158.5 L641.4,159.1" fill="none" stroke="#f6e01f" stroke-width="1.6" stroke-dasharray="1.4 1.3" stroke-linecap="butt"/>
<path d="M495.2,165.3 L496.6,165.3 L498,165.3 L499.4,165.3 L500.8,165.3 L502.2,165.3 L503.6,165.3 L505,165.3 L506.4,165.3 L507.8,165.3 L509.2,165.3 L510.6,165.3 L511.9,165.3 L513.3,165.2 L514.7,165.2 L516.1,165.1 L517.5,165.1 L518.9,165 L520.3,164.8 L521.7,164.6 L523.1,164.4 L524.5,164 L525.9,163.6 L527.3,163.1 L528.6,162.4 L530,161.6 L531.4,160.6 L532.8,159.4 L534.2,158 L535.6,156.4 L537,154.6 L538.4,152.5 L539.8,150.2 L541.2,147.6 L542.6,144.9 L544,141.9 L545.4,138.8 L546.7,135.6 L548.1,132.3 L549.5,129 L550.9,125.8 L552.3,122.6 L553.7,119.5 L555.1,116.7 L556.5,114 L557.9,111.6 L559.3,109.5 L560.7,107.7 L562.1,106.2 L563.4,105 L564.8,104.1 L566.2,103.4 L567.6,103 L569,102.9 L570.4,102.8 L571.8,102.9 L573.2,103 L574.6,103.3 L576,103.7 L577.4,104.2 L578.8,104.8 L580.2,105.5 L581.5,106.3 L582.9,107.2 L584.3,108.1 L585.7,109.2 L587.1,110.3 L588.5,111.5 L589.9,112.8 L591.3,114.1 L592.7,115.5 L594.1,116.9 L595.5,118.4 L596.9,119.9 L598.2,121.5 L599.6,123 L601,124.6 L602.4,126.2 L603.8,127.8 L605.2,129.4 L606.6,131 L608,132.6 L609.4,134.1 L610.8,135.7 L612.2,137.2 L613.6,138.6 L615,140.1 L616.3,141.5 L617.7,142.9 L619.1,144.2 L620.5,145.5 L621.9,146.7 L623.3,147.9 L624.7,149.1 L626.1,150.2 L627.5,151.2 L628.9,152.2 L630.3,153.2 L631.7,154.1 L633,154.9 L634.4,155.7 L635.8,156.5 L637.2,157.2 L638.6,157.9 L640,158.5 L641.4,159.1" fill="none" stroke="#f8c02c" stroke-width="1.6" stroke-linejoin="round"/>
<path d="M495.2,165.3 L496.6,165.3 L498,165.3 L499.4,165.3 L500.8,165.3 L502.2,165.3 L503.6,165.3 L505,165.3 L506.4,165.3 L507.8,165.3 L509.2,165.3 L510.6,165.3 L511.9,165.3 L513.3,165.3 L514.7,165.2 L516.1,165.2 L517.5,165.1 L518.9,165.1 L520.3,165 L521.7,164.8 L523.1,164.6 L524.5,164.4 L525.9,164 L527.3,163.6 L528.6,163.1 L530,162.4 L531.4,161.6 L532.8,160.6 L534.2,159.4 L535.6,158 L537,156.4 L538.4,154.6 L539.8,152.5 L541.2,150.2 L542.6,147.6 L544,144.9 L545.4,141.9 L546.7,138.8 L548.1,135.6 L549.5,132.3 L550.9,129 L552.3,125.8 L553.7,122.6 L555.1,119.5 L556.5,116.7 L557.9,114 L559.3,111.6 L560.7,109.5 L562.1,107.7 L563.4,106.2 L564.8,105 L566.2,104.1 L567.6,103.4 L569,103 L570.4,102.9 L571.8,102.8 L573.2,102.9 L574.6,103 L576,103.3 L577.4,103.7 L578.8,104.2 L580.2,104.8 L581.5,105.5 L582.9,106.3 L584.3,107.2 L585.7,108.1 L587.1,109.2 L588.5,110.3 L589.9,111.5 L591.3,112.8 L592.7,114.1 L594.1,115.5 L595.5,116.9 L596.9,118.4 L598.2,119.9 L599.6,121.5 L601,123 L602.4,124.6 L603.8,126.2 L605.2,127.8 L606.6,129.4 L608,131 L609.4,132.6 L610.8,134.1 L612.2,135.7 L613.6,137.2 L615,138.6 L616.3,140.1 L617.7,141.5 L619.1,142.9 L620.5,144.2 L621.9,145.5 L623.3,146.7 L624.7,147.9 L626.1,149.1 L627.5,150.2 L628.9,151.2 L630.3,152.2 L631.7,153.2 L633,154.1 L634.4,154.9 L635.8,155.7 L637.2,156.5 L638.6,157.2 L640,157.9 L641.4,158.5" fill="none" stroke="#f8c02c" stroke-width="1.6" stroke-dasharray="1.4 1.3" stroke-linecap="butt"/>
</g>
<line x1="492" y1="22.7" x2="495.4" y2="22.7" stroke="#000" stroke-width="1.25"/>
<line x1="492" y1="50" x2="495.4" y2="50" stroke="#000" stroke-width="1.25"/>
<line x1="492" y1="77.3" x2="495.4" y2="77.3" stroke="#000" stroke-width="1.25"/>
<line x1="493.6" y1="36.4" x2="495.4" y2="36.4" stroke="#000" stroke-width="1.25"/>
<line x1="493.6" y1="63.6" x2="495.4" y2="63.6" stroke="#000" stroke-width="1.25"/>
<text transform="translate(489.6,26.5) scale(1,1.12)" font-size="10.5" font-weight="bold" text-anchor="end" fill="#000" stroke="#000" stroke-width="0.22" >500</text>
<text transform="translate(489.6,53.8) scale(1,1.12)" font-size="10.5" font-weight="bold" text-anchor="end" fill="#000" stroke="#000" stroke-width="0.22" >0</text>
<text transform="translate(489.6,81.1) scale(1,1.12)" font-size="10.5" font-weight="bold" text-anchor="end" fill="#000" stroke="#000" stroke-width="0.22" >-500</text>
<line x1="492" y1="165.3" x2="495.4" y2="165.3" stroke="#000" stroke-width="1.25"/>
<line x1="492" y1="139.8" x2="495.4" y2="139.8" stroke="#000" stroke-width="1.25"/>
<line x1="492" y1="114.3" x2="495.4" y2="114.3" stroke="#000" stroke-width="1.25"/>
<line x1="493.6" y1="152.6" x2="495.4" y2="152.6" stroke="#000" stroke-width="1.25"/>
<line x1="493.6" y1="127.1" x2="495.4" y2="127.1" stroke="#000" stroke-width="1.25"/>
<line x1="493.6" y1="101.6" x2="495.4" y2="101.6" stroke="#000" stroke-width="1.25"/>
<text transform="translate(489.6,169.1) scale(1,1.12)" font-size="10.5" font-weight="bold" text-anchor="end" fill="#000" stroke="#000" stroke-width="0.22" >0.0</text>
<text transform="translate(489.6,143.6) scale(1,1.12)" font-size="10.5" font-weight="bold" text-anchor="end" fill="#000" stroke="#000" stroke-width="0.22" >0.2</text>
<text transform="translate(489.6,118.1) scale(1,1.12)" font-size="10.5" font-weight="bold" text-anchor="end" fill="#000" stroke="#000" stroke-width="0.22" >0.4</text>
<line x1="502.2" y1="165.3" x2="502.2" y2="168.7" stroke="#000" stroke-width="1.25"/>
<line x1="537" y1="165.3" x2="537" y2="168.7" stroke="#000" stroke-width="1.25"/>
<line x1="571.8" y1="165.3" x2="571.8" y2="168.7" stroke="#000" stroke-width="1.25"/>
<line x1="606.6" y1="165.3" x2="606.6" y2="168.7" stroke="#000" stroke-width="1.25"/>
<line x1="641.4" y1="165.3" x2="641.4" y2="168.7" stroke="#000" stroke-width="1.25"/>
<line x1="519.6" y1="165.3" x2="519.6" y2="167.1" stroke="#000" stroke-width="1.25"/>
<line x1="554.4" y1="165.3" x2="554.4" y2="167.1" stroke="#000" stroke-width="1.25"/>
<line x1="589.2" y1="165.3" x2="589.2" y2="167.1" stroke="#000" stroke-width="1.25"/>
<line x1="624" y1="165.3" x2="624" y2="167.1" stroke="#000" stroke-width="1.25"/>
<line x1="658.8" y1="165.3" x2="658.8" y2="167.1" stroke="#000" stroke-width="1.25"/>
<text transform="translate(502.2,179.4) scale(1,1.12)" font-size="10.5" font-weight="bold" text-anchor="middle" fill="#000" stroke="#000" stroke-width="0.22" >400</text>
<text transform="translate(537,179.4) scale(1,1.12)" font-size="10.5" font-weight="bold" text-anchor="middle" fill="#000" stroke="#000" stroke-width="0.22" >500</text>
<text transform="translate(571.8,179.4) scale(1,1.12)" font-size="10.5" font-weight="bold" text-anchor="middle" fill="#000" stroke="#000" stroke-width="0.22" >600</text>
<text transform="translate(606.6,179.4) scale(1,1.12)" font-size="10.5" font-weight="bold" text-anchor="middle" fill="#000" stroke="#000" stroke-width="0.22" >700</text>
<text transform="translate(641.4,179.4) scale(1,1.12)" font-size="10.5" font-weight="bold" text-anchor="middle" fill="#000" stroke="#000" stroke-width="0.22" >800</text>
<text transform="translate(676.2,179.4) scale(1,1.12)" font-size="10.5" font-weight="bold" text-anchor="middle" fill="#000" stroke="#000" stroke-width="0.22" >900</text>
<text x="474" y="14.3" font-size="18.8" font-weight="bold" text-anchor="start" fill="#000" stroke="#000" stroke-width="0.22" >c</text>
<text transform="translate(466.6,49.3) rotate(-90)" font-size="11.0" font-weight="bold" text-anchor="middle" stroke="#000" stroke-width="0.22">CPL (mdeg)</text>
<text transform="translate(466.6,126.9) rotate(-90)" font-size="11.0" font-weight="bold" text-anchor="middle" stroke="#000" stroke-width="0.22">DC (V)</text>
<text x="585.8" y="193.3" font-size="10.8" font-weight="bold" text-anchor="middle" fill="#000" stroke="#000" stroke-width="0.22"  textLength="91" lengthAdjust="spacingAndGlyphs">Wavelength (nm)</text>
<text transform="translate(674.2,20.6) scale(1,1.15)" font-size="7.35" font-weight="bold" text-anchor="end" fill="#000" stroke="#000" stroke-width="0.22" ><tspan font-style="italic">f</tspan> (mol%) of Ag<tspan font-size="5" dy="1.5">6</tspan><tspan dy="-1.5"> in BTA/phol</tspan></text>
<text transform="translate(608.5,30.3) scale(1,1.15)" font-size="7.5" font-weight="bold" text-anchor="start" fill="#000" stroke="#000" stroke-width="0.22" ><tspan font-style="italic">R</tspan>-Ag<tspan font-size="5" dy="1.5">6</tspan><tspan dy="-1.5">:</tspan></text>
<text transform="translate(644.5,30.3) scale(1,1.15)" font-size="7.5" font-weight="bold" text-anchor="start" fill="#000" stroke="#000" stroke-width="0.22" ><tspan font-style="italic">S</tspan>-Ag<tspan font-size="5" dy="1.5">6</tspan><tspan dy="-1.5">:</tspan></text>
<line x1="606" y1="37.4" x2="623" y2="37.4" stroke="#33628d" stroke-width="2.0"/>
<text transform="translate(624.5,40.2) scale(1,1.15)" font-size="7.5" font-weight="bold" text-anchor="start" fill="#000" stroke="#000" stroke-width="0.22" >0.5</text>
<line x1="641" y1="37.4" x2="656" y2="37.4" stroke="#33628d" stroke-width="1.7" stroke-dasharray="1.5 1.96"/>
<text transform="translate(660,40.2) scale(1,1.15)" font-size="7.5" font-weight="bold" text-anchor="start" fill="#000" stroke="#000" stroke-width="0.22" >0.5</text>
<line x1="606" y1="64.2" x2="623" y2="64.2" stroke="#2a7b8e" stroke-width="2.0"/>
<text transform="translate(624.5,67) scale(1,1.15)" font-size="7.5" font-weight="bold" text-anchor="start" fill="#000" stroke="#000" stroke-width="0.22" >1</text>
<line x1="641" y1="64.2" x2="656" y2="64.2" stroke="#2a7b8e" stroke-width="1.7" stroke-dasharray="1.5 1.96"/>
<text transform="translate(660,67) scale(1,1.15)" font-size="7.5" font-weight="bold" text-anchor="start" fill="#000" stroke="#000" stroke-width="0.22" >1</text>
<line x1="606" y1="73.6" x2="623" y2="73.6" stroke="#20998b" stroke-width="2.0"/>
<text transform="translate(624.5,76.4) scale(1,1.15)" font-size="7.5" font-weight="bold" text-anchor="start" fill="#000" stroke="#000" stroke-width="0.22" >3</text>
<line x1="641" y1="73.6" x2="656" y2="73.6" stroke="#20998b" stroke-width="1.7" stroke-dasharray="1.5 1.96"/>
<text transform="translate(660,76.4) scale(1,1.15)" font-size="7.5" font-weight="bold" text-anchor="start" fill="#000" stroke="#000" stroke-width="0.22" >3</text>
<line x1="606" y1="82.8" x2="623" y2="82.8" stroke="#28b07e" stroke-width="2.0"/>
<text transform="translate(624.5,85.6) scale(1,1.15)" font-size="7.5" font-weight="bold" text-anchor="start" fill="#000" stroke="#000" stroke-width="0.22" >5</text>
<line x1="641" y1="82.8" x2="656" y2="82.8" stroke="#28b07e" stroke-width="1.7" stroke-dasharray="1.5 1.96"/>
<text transform="translate(660,85.6) scale(1,1.15)" font-size="7.5" font-weight="bold" text-anchor="start" fill="#000" stroke="#000" stroke-width="0.22" >5</text>
<line x1="606" y1="92" x2="623" y2="92" stroke="#5ec45b" stroke-width="2.0"/>
<text transform="translate(624.5,94.8) scale(1,1.15)" font-size="7.5" font-weight="bold" text-anchor="start" fill="#000" stroke="#000" stroke-width="0.22" >7</text>
<line x1="641" y1="92.0" x2="656" y2="92.0" stroke="#5ec45b" stroke-width="1.7" stroke-dasharray="1.5 1.96"/>
<text transform="translate(660,94.8) scale(1,1.15)" font-size="7.5" font-weight="bold" text-anchor="start" fill="#000" stroke="#000" stroke-width="0.22" >7</text>
<line x1="606" y1="101.1" x2="623" y2="101.1" stroke="#a9d53a" stroke-width="2.0"/>
<text transform="translate(624.5,103.9) scale(1,1.15)" font-size="7.5" font-weight="bold" text-anchor="start" fill="#000" stroke="#000" stroke-width="0.22" >10</text>
<line x1="641" y1="101.1" x2="656" y2="101.1" stroke="#a9d53a" stroke-width="1.7" stroke-dasharray="1.5 1.96"/>
<text transform="translate(660,103.9) scale(1,1.15)" font-size="7.5" font-weight="bold" text-anchor="start" fill="#000" stroke="#000" stroke-width="0.22" >10</text>
<line x1="606" y1="110.3" x2="623" y2="110.3" stroke="#f6e01f" stroke-width="2.0"/>
<text transform="translate(624.5,113.1) scale(1,1.15)" font-size="7.5" font-weight="bold" text-anchor="start" fill="#000" stroke="#000" stroke-width="0.22" >15</text>
<line x1="641" y1="110.3" x2="656" y2="110.3" stroke="#f6e01f" stroke-width="1.7" stroke-dasharray="1.5 1.96"/>
<text transform="translate(660,113.1) scale(1,1.15)" font-size="7.5" font-weight="bold" text-anchor="start" fill="#000" stroke="#000" stroke-width="0.22" >15</text>
<line x1="606" y1="119.3" x2="623" y2="119.3" stroke="#f8c02c" stroke-width="2.0"/>
<text transform="translate(624.5,122.1) scale(1,1.15)" font-size="7.5" font-weight="bold" text-anchor="start" fill="#000" stroke="#000" stroke-width="0.22" >20</text>
<line x1="641" y1="119.3" x2="656" y2="119.3" stroke="#f8c02c" stroke-width="1.7" stroke-dasharray="1.5 1.96"/>
<text transform="translate(660,122.1) scale(1,1.15)" font-size="7.5" font-weight="bold" text-anchor="start" fill="#000" stroke="#000" stroke-width="0.22" >20</text>
<rect x="41.8" y="202.8" width="183.4" height="153.2" fill="none" stroke="#000" stroke-width="1.25"/>
<line x1="41.8" y1="279.5" x2="225.2" y2="279.5" stroke="#000" stroke-width="1.25"/>
<line x1="38.4" y1="228.7" x2="41.8" y2="228.7" stroke="#000" stroke-width="1.25"/>
<line x1="38.4" y1="279.5" x2="41.8" y2="279.5" stroke="#000" stroke-width="1.25"/>
<line x1="38.4" y1="330.3" x2="41.8" y2="330.3" stroke="#000" stroke-width="1.25"/>
<line x1="40" y1="254.1" x2="41.8" y2="254.1" stroke="#000" stroke-width="1.25"/>
<line x1="40" y1="304.9" x2="41.8" y2="304.9" stroke="#000" stroke-width="1.25"/>
<text x="36" y="232.3" font-size="11.3" font-weight="bold" text-anchor="end" fill="#000" stroke="#000" stroke-width="0.22" >0.06</text>
<text x="36" y="283.1" font-size="11.3" font-weight="bold" text-anchor="end" fill="#000" stroke="#000" stroke-width="0.22" >0.00</text>
<text x="36" y="333.9" font-size="11.3" font-weight="bold" text-anchor="end" fill="#000" stroke="#000" stroke-width="0.22" >-0.06</text>
<line x1="57.6" y1="356" x2="57.6" y2="359.4" stroke="#000" stroke-width="1.25"/>
<text x="57.6" y="371.5" font-size="11.8" font-weight="bold" text-anchor="middle" fill="#000" stroke="#000" stroke-width="0.22" >0.5</text>
<line x1="79.2" y1="356" x2="79.2" y2="359.4" stroke="#000" stroke-width="1.25"/>
<text x="79.2" y="371.5" font-size="11.8" font-weight="bold" text-anchor="middle" fill="#000" stroke="#000" stroke-width="0.22" >1</text>
<line x1="100.9" y1="356" x2="100.9" y2="359.4" stroke="#000" stroke-width="1.25"/>
<text x="100.9" y="371.5" font-size="11.8" font-weight="bold" text-anchor="middle" fill="#000" stroke="#000" stroke-width="0.22" >3</text>
<line x1="122.5" y1="356" x2="122.5" y2="359.4" stroke="#000" stroke-width="1.25"/>
<text x="122.5" y="371.5" font-size="11.8" font-weight="bold" text-anchor="middle" fill="#000" stroke="#000" stroke-width="0.22" >5</text>
<line x1="144.2" y1="356" x2="144.2" y2="359.4" stroke="#000" stroke-width="1.25"/>
<text x="144.2" y="371.5" font-size="11.8" font-weight="bold" text-anchor="middle" fill="#000" stroke="#000" stroke-width="0.22" >7</text>
<line x1="165.8" y1="356" x2="165.8" y2="359.4" stroke="#000" stroke-width="1.25"/>
<text x="165.8" y="371.5" font-size="11.8" font-weight="bold" text-anchor="middle" fill="#000" stroke="#000" stroke-width="0.22" >10</text>
<line x1="187.5" y1="356" x2="187.5" y2="359.4" stroke="#000" stroke-width="1.25"/>
<text x="187.5" y="371.5" font-size="11.8" font-weight="bold" text-anchor="middle" fill="#000" stroke="#000" stroke-width="0.22" >15</text>
<line x1="209.1" y1="356" x2="209.1" y2="359.4" stroke="#000" stroke-width="1.25"/>
<text x="209.1" y="371.5" font-size="11.8" font-weight="bold" text-anchor="middle" fill="#000" stroke="#000" stroke-width="0.22" >20</text>
<text x="22.6" y="205.8" font-size="18.8" font-weight="bold" text-anchor="start" fill="#000" stroke="#000" stroke-width="0.22" >d</text>
<text x="133.9" y="383.6" font-size="12.0" font-weight="bold" text-anchor="middle" fill="#000" stroke="#000" stroke-width="0.22" >Ag<tspan font-size="8.2" dy="2.2">6</tspan><tspan dy="-2.2"> (%)</tspan></text>
<text transform="translate(7.3,280.0) rotate(-90)" font-size="13" font-weight="bold" text-anchor="middle" stroke="#000" stroke-width="0.2"><tspan font-style="italic">g</tspan><tspan font-size="8.3" dy="2">lum</tspan></text>
<path d="M57.6,228.7 L79.2,222 L100.9,225.6 L122.5,230.4 L144.2,229.9 L165.8,235 L187.5,230.4 L209.1,232.5" fill="none" stroke="#6d79c4" stroke-width="0.9"/>
<path d="M57.6,225.3 L61,228.7 L57.6,232.1 L54.2,228.7 Z" fill="#6d79c4"/>
<path d="M79.2,218.6 L82.7,222 L79.2,225.4 L75.8,222 Z" fill="#6d79c4"/>
<path d="M100.9,222.2 L104.3,225.6 L100.9,229 L97.5,225.6 Z" fill="#6d79c4"/>
<path d="M122.5,227 L125.9,230.4 L122.5,233.8 L119.1,230.4 Z" fill="#6d79c4"/>
<path d="M144.2,226.5 L147.6,229.9 L144.2,233.3 L140.8,229.9 Z" fill="#6d79c4"/>
<path d="M165.8,231.6 L169.2,235 L165.8,238.4 L162.4,235 Z" fill="#6d79c4"/>
<path d="M187.5,227 L190.9,230.4 L187.5,233.8 L184.1,230.4 Z" fill="#6d79c4"/>
<path d="M209.1,229.1 L212.5,232.5 L209.1,235.9 L205.7,232.5 Z" fill="#6d79c4"/>
<path d="M57.6,268.9 L79.2,269.2 L100.9,270.5 L122.5,270.9 L144.2,273.7 L165.8,271.9 L187.5,272.7 L209.1,271.1" fill="none" stroke="#f6b81a" stroke-width="0.9"/>
<path d="M57.6,265.5 L61,268.9 L57.6,272.3 L54.2,268.9 Z" fill="#f6b81a"/>
<path d="M79.2,265.8 L82.7,269.2 L79.2,272.6 L75.8,269.2 Z" fill="#f6b81a"/>
<path d="M100.9,267.1 L104.3,270.5 L100.9,273.9 L97.5,270.5 Z" fill="#f6b81a"/>
<path d="M122.5,267.5 L125.9,270.9 L122.5,274.3 L119.1,270.9 Z" fill="#f6b81a"/>
<path d="M144.2,270.3 L147.6,273.7 L144.2,277.1 L140.8,273.7 Z" fill="#f6b81a"/>
<path d="M165.8,268.5 L169.2,271.9 L165.8,275.3 L162.4,271.9 Z" fill="#f6b81a"/>
<path d="M187.5,269.3 L190.9,272.7 L187.5,276.1 L184.1,272.7 Z" fill="#f6b81a"/>
<path d="M209.1,267.7 L212.5,271.1 L209.1,274.5 L205.7,271.1 Z" fill="#f6b81a"/>
<path d="M57.6,290.6 L79.2,289.4 L100.9,287.5 L122.5,290.6 L144.2,285 L165.8,284.2 L187.5,285.6 L209.1,289.2" fill="none" stroke="#f6b81a" stroke-width="0.9"/>
<path d="M57.6,287.6 L60.6,290.6 L57.6,293.6 L54.6,290.6 Z" fill="#fff" stroke="#f6b81a" stroke-width="1"/>
<path d="M79.2,286.4 L82.2,289.4 L79.2,292.4 L76.2,289.4 Z" fill="#fff" stroke="#f6b81a" stroke-width="1"/>
<path d="M100.9,284.5 L103.9,287.5 L100.9,290.5 L97.9,287.5 Z" fill="#fff" stroke="#f6b81a" stroke-width="1"/>
<path d="M122.5,287.6 L125.5,290.6 L122.5,293.6 L119.5,290.6 Z" fill="#fff" stroke="#f6b81a" stroke-width="1"/>
<path d="M144.2,282 L147.2,285 L144.2,288 L141.2,285 Z" fill="#fff" stroke="#f6b81a" stroke-width="1"/>
<path d="M165.8,281.2 L168.8,284.2 L165.8,287.2 L162.8,284.2 Z" fill="#fff" stroke="#f6b81a" stroke-width="1"/>
<path d="M187.5,282.6 L190.5,285.6 L187.5,288.6 L184.5,285.6 Z" fill="#fff" stroke="#f6b81a" stroke-width="1"/>
<path d="M209.1,286.2 L212.1,289.2 L209.1,292.2 L206.1,289.2 Z" fill="#fff" stroke="#f6b81a" stroke-width="1"/>
<path d="M57.6,327.3 L79.2,335.7 L100.9,325.4 L122.5,329.8 L144.2,315.4 L165.8,329.6 L187.5,339 L209.1,320.9" fill="none" stroke="#6d79c4" stroke-width="0.9"/>
<path d="M57.6,324.3 L60.6,327.3 L57.6,330.3 L54.6,327.3 Z" fill="#fff" stroke="#6d79c4" stroke-width="1"/>
<path d="M79.2,332.7 L82.2,335.7 L79.2,338.7 L76.2,335.7 Z" fill="#fff" stroke="#6d79c4" stroke-width="1"/>
<path d="M100.9,322.4 L103.9,325.4 L100.9,328.4 L97.9,325.4 Z" fill="#fff" stroke="#6d79c4" stroke-width="1"/>
<path d="M122.5,326.8 L125.5,329.8 L122.5,332.8 L119.5,329.8 Z" fill="#fff" stroke="#6d79c4" stroke-width="1"/>
<path d="M144.2,312.4 L147.2,315.4 L144.2,318.4 L141.2,315.4 Z" fill="#fff" stroke="#6d79c4" stroke-width="1"/>
<path d="M165.8,326.6 L168.8,329.6 L165.8,332.6 L162.8,329.6 Z" fill="#fff" stroke="#6d79c4" stroke-width="1"/>
<path d="M187.5,336 L190.5,339 L187.5,342 L184.5,339 Z" fill="#fff" stroke="#6d79c4" stroke-width="1"/>
<path d="M209.1,317.9 L212.1,320.9 L209.1,323.9 L206.1,320.9 Z" fill="#fff" stroke="#6d79c4" stroke-width="1"/>
<line x1="130" y1="217.6" x2="148" y2="217.6" stroke="#6d79c4" stroke-width="1.0"/>
<path d="M139,214.2 L142.4,217.6 L139,221 L135.6,217.6 Z" fill="#6d79c4"/>
<text transform="translate(150.7,220.5) scale(1,1.15)" font-size="8.0" font-weight="bold" text-anchor="start" fill="#000" stroke="#000" stroke-width="0.22" >BTA/<tspan font-style="italic">R</tspan>-phol/<tspan font-style="italic">R</tspan>-Ag<tspan font-size="5.5" dy="2">6</tspan></text>
<line x1="158.4" y1="260" x2="176.4" y2="260" stroke="#f6b81a" stroke-width="1.0"/>
<path d="M167.4,256.6 L170.8,260 L167.4,263.4 L164,260 Z" fill="#f6b81a"/>
<text transform="translate(179,262.9) scale(1,1.15)" font-size="8.0" font-weight="bold" text-anchor="start" fill="#000" stroke="#000" stroke-width="0.22" >BTA/<tspan font-style="italic">R</tspan>-Ag<tspan font-size="5.5" dy="2">6</tspan></text>
<line x1="158.7" y1="299.5" x2="176.8" y2="299.5" stroke="#f6b81a" stroke-width="1.0"/>
<path d="M167.8,296.5 L170.8,299.5 L167.8,302.5 L164.8,299.5 Z" fill="#fff" stroke="#f6b81a" stroke-width="1"/>
<text transform="translate(179,302.4) scale(1,1.15)" font-size="8.0" font-weight="bold" text-anchor="start" fill="#000" stroke="#000" stroke-width="0.22" >BTA/<tspan font-style="italic">S</tspan>-Ag<tspan font-size="5.5" dy="2">6</tspan></text>
<line x1="130" y1="347.6" x2="149" y2="347.6" stroke="#6d79c4" stroke-width="1.0"/>
<path d="M139.5,344.6 L142.5,347.6 L139.5,350.6 L136.5,347.6 Z" fill="#fff" stroke="#6d79c4" stroke-width="1"/>
<text transform="translate(151,350.5) scale(1,1.15)" font-size="8.0" font-weight="bold" text-anchor="start" fill="#000" stroke="#000" stroke-width="0.22" >BTA/<tspan font-style="italic">S</tspan>-phol/<tspan font-style="italic">S</tspan>-Ag<tspan font-size="5.5" dy="2">6</tspan></text>
<defs><clipPath id="clipe1"><rect x="269.3" y="202.9" width="182.09999999999997" height="77.79999999999998"/></clipPath><clipPath id="clipe2"><rect x="269.3" y="280.7" width="182.09999999999997" height="77.80000000000001"/></clipPath></defs>
<rect x="269.3" y="202.9" width="182.1" height="155.6" fill="none" stroke="#000" stroke-width="1.25"/>
<line x1="269.3" y1="280.7" x2="451.4" y2="280.7" stroke="#000" stroke-width="1.25"/>
<g clip-path="url(#clipe1)">
<path d="M269.2,242.1 L270.1,242.1 L271,242.1 L271.8,242.1 L272.7,242.1 L273.6,242.1 L274.5,242.1 L275.3,242.1 L276.2,242.1 L277.1,242 L277.9,242 L278.8,242 L279.7,242 L280.6,242 L281.4,241.9 L282.3,241.7 L283.2,241.5 L284,241.4 L284.9,241.2 L285.8,240.9 L286.6,240.6 L287.5,240.2 L288.4,239.8 L289.2,239.3 L290.1,238.8 L291,237.7 L291.9,237.9 L292.7,236.6 L293.6,235.5 L294.5,234.6 L295.3,233.7 L296.2,232.9 L297.1,231.7 L297.9,230.8 L298.8,229.7 L299.7,228 L300.6,226.7 L301.4,225.4 L302.3,224.5 L303.2,223.6 L304,222 L304.9,220.8 L305.8,219.9 L306.6,218.6 L307.5,217.8 L308.4,216.4 L309.3,215.5 L310.1,214.8 L311,213.7 L311.9,212.9 L312.7,211.6 L313.6,211.4 L314.5,210.9 L315.3,210.4 L316.2,209.9 L317.1,209.3 L318,209.1 L318.8,208.8 L319.7,207.6 L320.6,207.7 L321.4,207.4 L322.3,207.1 L323.2,207.1 L324,207.1 L324.9,207.2 L325.8,207.1 L326.7,207.3 L327.5,207.1 L328.4,207.5 L329.3,207.4 L330.1,208.3 L331,208.1 L331.9,208.9 L332.8,209.8 L333.6,210.2 L334.5,210.4 L335.4,210.6 L336.2,211.8 L337.1,212.1 L338,213.1 L338.8,213.3 L339.7,214.8 L340.6,215.1 L341.4,215.4 L342.3,216.7 L343.2,217.4 L344.1,218.3 L344.9,218.9 L345.8,219.4 L346.7,219.7 L347.5,220.8 L348.4,221.3 L349.3,222.1 L350.1,222.4 L351,222.8 L351.9,223.7 L352.8,224.8 L353.6,224.9 L354.5,225.2 L355.4,226.1 L356.2,227.1 L357.1,226.9 L358,227.3 L358.8,228.2 L359.7,228.7 L360.6,229 L361.5,229 L362.3,229 L363.2,229.5 L364.1,229.5 L364.9,230.4 L365.8,230.5 L366.7,230.3 L367.5,230.6 L368.4,231.1 L369.3,231 L370.2,231.5 L371,231.9 L371.9,231.8 L372.8,232.3 L373.6,231.9 L374.5,232.4 L375.4,232.4 L376.2,232.4 L377.1,232.8 L378,232.7 L378.9,233.2 L379.7,232.4 L380.6,232.8 L381.5,232.5 L382.3,233.5 L383.2,233 L384.1,232.9 L384.9,233.4 L385.8,233.7 L386.7,233.7 L387.6,233.8 L388.4,233.2 L389.3,233.9 L390.2,233.3 L391,233.8 L391.9,233.7 L392.8,233.7 L393.6,233.8 L394.5,233.8 L395.4,233.9 L396.3,234.2 L397.1,233.9 L398,234.4 L398.9,234.1 L399.7,234.1 L400.6,234.1 L401.5,234.7 L402.3,234.3 L403.2,234.1 L404.1,234.7 L405,234.9 L405.8,234.8 L406.7,234.4 L407.6,235.3 L408.4,235.5 L409.3,235.1 L410.2,235 L411,234.9 L411.9,235.4 L412.8,234.9 L413.7,235.7 L414.5,235.2 L415.4,235.9 L416.3,236.1 L417.1,236 L418,236.1 L418.9,235.8 L419.8,235.8 L420.6,236.2 L421.5,235.5 L422.4,236.1 L423.2,236.4 L424.1,236.4 L425,236 L425.8,235.8 L426.7,236.6 L427.6,236.8 L428.4,236.1 L429.3,236.7 L430.2,236 L431.1,236.6 L431.9,236.5 L432.8,236.8 L433.7,236.4 L434.5,236.8 L435.4,237 L436.3,236.5 L437.1,237.3 L438,236.8 L438.9,237.5 L439.8,236.9 L440.6,237.2 L441.5,236.8 L442.4,237.7 L443.2,237.2 L444.1,237.4 L445,237 L445.8,237 L446.7,237.4 L447.6,237.8 L448.5,237.8 L449.3,237.9 L450.2,237.7" fill="none" stroke="#5262c0" stroke-width="1.8" stroke-linejoin="round"/>
<path d="M269.2,242.1 L270.1,242.1 L271,242.1 L271.8,242.1 L272.7,242.1 L273.6,242.1 L274.5,242.1 L275.3,242.1 L276.2,242.1 L277.1,242.2 L277.9,242.2 L278.8,242.2 L279.7,242.2 L280.6,242.2 L281.4,242.2 L282.3,242.3 L283.2,242.3 L284,242.4 L284.9,242.5 L285.8,242.7 L286.6,243 L287.5,243.3 L288.4,243.6 L289.2,244 L290.1,244.4 L291,244.9 L291.9,245.5 L292.7,246.2 L293.6,246.9 L294.5,247.7 L295.3,248.4 L296.2,249 L297.1,249.7 L297.9,250.5 L298.8,251.2 L299.7,252 L300.6,252.9 L301.4,253.9 L302.3,255 L303.2,256.2 L304,257.3 L304.9,258.5 L305.8,259.7 L306.6,260.7 L307.5,261.6 L308.4,262.4 L309.3,263.1 L310.1,263.9 L311,264.5 L311.9,265.2 L312.7,265.8 L313.6,266.4 L314.5,267 L315.3,267.5 L316.2,268 L317.1,268.6 L318,269.1 L318.8,269.5 L319.7,269.9 L320.6,270.2 L321.4,270.5 L322.3,270.7 L323.2,270.8 L324,270.8 L324.9,270.7 L325.8,270.5 L326.7,270.3 L327.5,270 L328.4,269.6 L329.3,269.2 L330.1,268.8 L331,268.4 L331.9,267.8 L332.8,267.2 L333.6,266.5 L334.5,265.8 L335.4,265.1 L336.2,264.4 L337.1,263.8 L338,263.2 L338.8,262.6 L339.7,262.1 L340.6,261.7 L341.4,261.2 L342.3,260.8 L343.2,260.4 L344.1,260 L344.9,259.5 L345.8,259.1 L346.7,258.7 L347.5,258.4 L348.4,258 L349.3,257.5 L350.1,257.1 L351,256.5 L351.9,256 L352.8,255.4 L353.6,254.9 L354.5,254.4 L355.4,254 L356.2,253.6 L357.1,253.2 L358,252.9 L358.8,252.5 L359.7,252.2 L360.6,251.9 L361.5,251.7 L362.3,251.4 L363.2,251.2 L364.1,250.9 L364.9,250.7 L365.8,250.5 L366.7,250.3 L367.5,250.2 L368.4,250 L369.3,249.8 L370.2,249.7 L371,249.6 L371.9,249.5 L372.8,249.4 L373.6,249.3 L374.5,249.2 L375.4,249.1 L376.2,249 L377.1,249 L378,248.9 L378.9,248.8 L379.7,248.8 L380.6,248.7 L381.5,248.7 L382.3,248.6 L383.2,248.6 L384.1,248.5 L384.9,248.5 L385.8,248.5 L386.7,248.4 L387.6,248.4 L388.4,248.3 L389.3,248.3 L390.2,248.3 L391,248.2 L391.9,248.2 L392.8,248.2 L393.6,248.1 L394.5,248.1 L395.4,248.1 L396.3,248 L397.1,248 L398,248 L398.9,248 L399.7,247.9 L400.6,247.9 L401.5,247.9 L402.3,247.8 L403.2,247.8 L404.1,247.7 L405,247.7 L405.8,247.7 L406.7,247.6 L407.6,247.6 L408.4,247.5 L409.3,247.5 L410.2,247.4 L411,247.4 L411.9,247.3 L412.8,247.3 L413.7,247.2 L414.5,247.2 L415.4,247.1 L416.3,247.1 L417.1,247 L418,247 L418.9,246.9 L419.8,246.8 L420.6,246.8 L421.5,246.7 L422.4,246.7 L423.2,246.6 L424.1,246.6 L425,246.5 L425.8,246.4 L426.7,246.4 L427.6,246.3 L428.4,246.3 L429.3,246.2 L430.2,246.1 L431.1,246.1 L431.9,246 L432.8,246 L433.7,245.9 L434.5,245.8 L435.4,245.8 L436.3,245.7 L437.1,245.7 L438,245.6 L438.9,245.5 L439.8,245.5 L440.6,245.4 L441.5,245.3 L442.4,245.3 L443.2,245.2 L444.1,245.2 L445,245.1 L445.8,245 L446.7,245 L447.6,244.9 L448.5,244.8 L449.3,244.8 L450.2,244.7" fill="none" stroke="#5262c0" stroke-width="1.9" stroke-dasharray="1.6 1.5" stroke-linecap="butt"/>
</g>
<g clip-path="url(#clipe2)">
<path d="M269.2,358.5 L270.1,358.5 L271,358.5 L271.8,358.5 L272.7,358.5 L273.6,358.5 L274.5,358.5 L275.3,358.5 L276.2,358.5 L277.1,358.5 L277.9,358.4 L278.8,358.3 L279.7,358.1 L280.6,358 L281.4,357.8 L282.3,357.5 L283.2,357.3 L284,357 L284.9,356.7 L285.8,356.3 L286.6,355.8 L287.5,355.3 L288.4,354.7 L289.2,354.1 L290.1,353.4 L291,352.6 L291.9,351.7 L292.7,350.7 L293.6,349.7 L294.5,348.6 L295.3,347.5 L296.2,346.1 L297.1,344.7 L297.9,343.2 L298.8,341.6 L299.7,340.1 L300.6,338.4 L301.4,336.7 L302.3,334.9 L303.2,333 L304,330.9 L304.9,328.7 L305.8,326.4 L306.6,324 L307.5,321.6 L308.4,319.1 L309.3,316.4 L310.1,313.8 L311,311.4 L311.9,309.4 L312.7,307.4 L313.6,305.5 L314.5,303.8 L315.3,302.3 L316.2,301 L317.1,299.8 L318,298.7 L318.8,297.7 L319.7,297 L320.6,296.4 L321.4,295.9 L322.3,295.4 L323.2,295 L324,294.7 L324.9,294.5 L325.8,294.6 L326.7,294.7 L327.5,295 L328.4,295.4 L329.3,295.8 L330.1,296.3 L331,296.8 L331.9,297.5 L332.8,298.3 L333.6,299.1 L334.5,299.9 L335.4,300.8 L336.2,301.7 L337.1,302.6 L338,303.5 L338.8,304.5 L339.7,305.4 L340.6,306.4 L341.4,307.4 L342.3,308.4 L343.2,309.5 L344.1,310.6 L344.9,311.8 L345.8,313 L346.7,314.2 L347.5,315.5 L348.4,316.8 L349.3,318.1 L350.1,319.3 L351,320.4 L351.9,321.4 L352.8,322.3 L353.6,323.2 L354.5,324 L355.4,324.8 L356.2,325.6 L357.1,326.3 L358,327 L358.8,327.7 L359.7,328.4 L360.6,329 L361.5,329.6 L362.3,330.3 L363.2,330.9 L364.1,331.5 L364.9,332.1 L365.8,332.7 L366.7,333.2 L367.5,333.8 L368.4,334.3 L369.3,334.9 L370.2,335.5 L371,336 L371.9,336.5 L372.8,336.9 L373.6,337.3 L374.5,337.5 L375.4,337.8 L376.2,338 L377.1,338.2 L378,338.4 L378.9,338.6 L379.7,338.7 L380.6,338.8 L381.5,338.8 L382.3,338.9 L383.2,339 L384.1,339 L384.9,339.1 L385.8,339.2 L386.7,339.2 L387.6,339.3 L388.4,339.3 L389.3,339.4 L390.2,339.4 L391,339.5 L391.9,339.5 L392.8,339.6 L393.6,339.6 L394.5,339.7 L395.4,339.7 L396.3,339.8 L397.1,339.8 L398,339.9 L398.9,340 L399.7,340 L400.6,340.1 L401.5,340.1 L402.3,340.2 L403.2,340.3 L404.1,340.4 L405,340.4 L405.8,340.5 L406.7,340.6 L407.6,340.7 L408.4,340.8 L409.3,340.9 L410.2,341 L411,341 L411.9,341.1 L412.8,341.2 L413.7,341.3 L414.5,341.4 L415.4,341.5 L416.3,341.6 L417.1,341.7 L418,341.8 L418.9,341.9 L419.8,342.1 L420.6,342.2 L421.5,342.3 L422.4,342.4 L423.2,342.6 L424.1,342.7 L425,342.9 L425.8,343 L426.7,343.1 L427.6,343.3 L428.4,343.4 L429.3,343.6 L430.2,343.7 L431.1,343.9 L431.9,344 L432.8,344.2 L433.7,344.4 L434.5,344.5 L435.4,344.7 L436.3,344.9 L437.1,345 L438,345.2 L438.9,345.4 L439.8,345.6 L440.6,345.8 L441.5,345.9 L442.4,346.1 L443.2,346.3 L444.1,346.5 L445,346.7 L445.8,346.9 L446.7,347.1 L447.6,347.3 L448.5,347.5 L449.3,347.7 L450.2,347.9" fill="none" stroke="#5262c0" stroke-width="1.8" stroke-linejoin="round"/>
<path d="M269.2,359.3 L270.1,359.3 L271,359.3 L271.8,359.3 L272.7,359.3 L273.6,359.3 L274.5,359.3 L275.3,359.3 L276.2,359.3 L277.1,359.3 L277.9,359.2 L278.8,359.1 L279.7,358.9 L280.6,358.7 L281.4,358.5 L282.3,358.3 L283.2,358.1 L284,357.8 L284.9,357.5 L285.8,357.1 L286.6,356.6 L287.5,356.1 L288.4,355.5 L289.2,354.9 L290.1,354.3 L291,353.5 L291.9,352.6 L292.7,351.6 L293.6,350.6 L294.5,349.5 L295.3,348.4 L296.2,347.1 L297.1,345.7 L297.9,344.2 L298.8,342.7 L299.7,341.1 L300.6,339.5 L301.4,337.8 L302.3,336 L303.2,334.2 L304,332.1 L304.9,330 L305.8,327.7 L306.6,325.3 L307.5,322.9 L308.4,320.4 L309.3,317.8 L310.1,315.3 L311,312.9 L311.9,310.9 L312.7,308.9 L313.6,307.1 L314.5,305.4 L315.3,303.9 L316.2,302.7 L317.1,301.5 L318,300.4 L318.8,299.4 L319.7,298.7 L320.6,298.1 L321.4,297.6 L322.3,297.1 L323.2,296.7 L324,296.4 L324.9,296.3 L325.8,296.3 L326.7,296.5 L327.5,296.8 L328.4,297.1 L329.3,297.5 L330.1,298 L331,298.5 L331.9,299.2 L332.8,300 L333.6,300.8 L334.5,301.6 L335.4,302.4 L336.2,303.3 L337.1,304.2 L338,305.1 L338.8,306.1 L339.7,307 L340.6,308 L341.4,309 L342.3,310 L343.2,311 L344.1,312.1 L344.9,313.3 L345.8,314.5 L346.7,315.7 L347.5,316.9 L348.4,318.2 L349.3,319.5 L350.1,320.7 L351,321.8 L351.9,322.7 L352.8,323.6 L353.6,324.5 L354.5,325.3 L355.4,326.1 L356.2,326.8 L357.1,327.6 L358,328.3 L358.8,328.9 L359.7,329.6 L360.6,330.2 L361.5,330.8 L362.3,331.5 L363.2,332.1 L364.1,332.7 L364.9,333.3 L365.8,333.8 L366.7,334.4 L367.5,334.9 L368.4,335.5 L369.3,336 L370.2,336.6 L371,337.1 L371.9,337.6 L372.8,338 L373.6,338.4 L374.5,338.6 L375.4,338.9 L376.2,339.1 L377.1,339.3 L378,339.5 L378.9,339.6 L379.7,339.7 L380.6,339.8 L381.5,339.9 L382.3,340 L383.2,340.1 L384.1,340.1 L384.9,340.2 L385.8,340.2 L386.7,340.3 L387.6,340.4 L388.4,340.4 L389.3,340.5 L390.2,340.5 L391,340.6 L391.9,340.6 L392.8,340.7 L393.6,340.7 L394.5,340.8 L395.4,340.8 L396.3,340.9 L397.1,340.9 L398,341 L398.9,341 L399.7,341.1 L400.6,341.1 L401.5,341.2 L402.3,341.3 L403.2,341.3 L404.1,341.4 L405,341.5 L405.8,341.6 L406.7,341.7 L407.6,341.7 L408.4,341.8 L409.3,341.9 L410.2,342 L411,342.1 L411.9,342.2 L412.8,342.3 L413.7,342.3 L414.5,342.4 L415.4,342.5 L416.3,342.6 L417.1,342.7 L418,342.8 L418.9,343 L419.8,343.1 L420.6,343.2 L421.5,343.3 L422.4,343.5 L423.2,343.6 L424.1,343.7 L425,343.9 L425.8,344 L426.7,344.1 L427.6,344.3 L428.4,344.4 L429.3,344.6 L430.2,344.7 L431.1,344.9 L431.9,345 L432.8,345.2 L433.7,345.3 L434.5,345.5 L435.4,345.7 L436.3,345.8 L437.1,346 L438,346.2 L438.9,346.4 L439.8,346.5 L440.6,346.7 L441.5,346.9 L442.4,347.1 L443.2,347.3 L444.1,347.5 L445,347.6 L445.8,347.8 L446.7,348 L447.6,348.2 L448.5,348.4 L449.3,348.6 L450.2,348.8" fill="none" stroke="#5262c0" stroke-width="1.6" stroke-dasharray="1.4 1.3" stroke-linecap="butt"/>
</g>
<line x1="265.9" y1="213.2" x2="269.3" y2="213.2" stroke="#000" stroke-width="1.25"/>
<line x1="265.9" y1="242.1" x2="269.3" y2="242.1" stroke="#000" stroke-width="1.25"/>
<line x1="265.9" y1="271.1" x2="269.3" y2="271.1" stroke="#000" stroke-width="1.25"/>
<line x1="267.5" y1="227.6" x2="269.3" y2="227.6" stroke="#000" stroke-width="1.25"/>
<line x1="267.5" y1="256.6" x2="269.3" y2="256.6" stroke="#000" stroke-width="1.25"/>
<text transform="translate(263.5,217) scale(1,1.12)" font-size="10.5" font-weight="bold" text-anchor="end" fill="#000" stroke="#000" stroke-width="0.22" >300</text>
<text transform="translate(263.5,245.9) scale(1,1.12)" font-size="10.5" font-weight="bold" text-anchor="end" fill="#000" stroke="#000" stroke-width="0.22" >0</text>
<text transform="translate(263.5,274.9) scale(1,1.12)" font-size="10.5" font-weight="bold" text-anchor="end" fill="#000" stroke="#000" stroke-width="0.22" >-300</text>
<line x1="265.9" y1="358.5" x2="269.3" y2="358.5" stroke="#000" stroke-width="1.25"/>
<line x1="265.9" y1="332.6" x2="269.3" y2="332.6" stroke="#000" stroke-width="1.25"/>
<line x1="265.9" y1="306.7" x2="269.3" y2="306.7" stroke="#000" stroke-width="1.25"/>
<line x1="267.5" y1="345.6" x2="269.3" y2="345.6" stroke="#000" stroke-width="1.25"/>
<line x1="267.5" y1="319.6" x2="269.3" y2="319.6" stroke="#000" stroke-width="1.25"/>
<line x1="267.5" y1="293.8" x2="269.3" y2="293.8" stroke="#000" stroke-width="1.25"/>
<text transform="translate(263.5,362.3) scale(1,1.12)" font-size="10.5" font-weight="bold" text-anchor="end" fill="#000" stroke="#000" stroke-width="0.22" >0.0</text>
<text transform="translate(263.5,336.4) scale(1,1.12)" font-size="10.5" font-weight="bold" text-anchor="end" fill="#000" stroke="#000" stroke-width="0.22" >0.2</text>
<text transform="translate(263.5,310.5) scale(1,1.12)" font-size="10.5" font-weight="bold" text-anchor="end" fill="#000" stroke="#000" stroke-width="0.22" >0.4</text>
<line x1="276.2" y1="358.5" x2="276.2" y2="361.9" stroke="#000" stroke-width="1.25"/>
<line x1="311" y1="358.5" x2="311" y2="361.9" stroke="#000" stroke-width="1.25"/>
<line x1="345.8" y1="358.5" x2="345.8" y2="361.9" stroke="#000" stroke-width="1.25"/>
<line x1="380.6" y1="358.5" x2="380.6" y2="361.9" stroke="#000" stroke-width="1.25"/>
<line x1="415.4" y1="358.5" x2="415.4" y2="361.9" stroke="#000" stroke-width="1.25"/>
<line x1="293.6" y1="358.5" x2="293.6" y2="360.3" stroke="#000" stroke-width="1.25"/>
<line x1="328.4" y1="358.5" x2="328.4" y2="360.3" stroke="#000" stroke-width="1.25"/>
<line x1="363.2" y1="358.5" x2="363.2" y2="360.3" stroke="#000" stroke-width="1.25"/>
<line x1="398" y1="358.5" x2="398" y2="360.3" stroke="#000" stroke-width="1.25"/>
<line x1="432.8" y1="358.5" x2="432.8" y2="360.3" stroke="#000" stroke-width="1.25"/>
<text transform="translate(276.2,372.6) scale(1,1.12)" font-size="10.5" font-weight="bold" text-anchor="middle" fill="#000" stroke="#000" stroke-width="0.22" >400</text>
<text transform="translate(311,372.6) scale(1,1.12)" font-size="10.5" font-weight="bold" text-anchor="middle" fill="#000" stroke="#000" stroke-width="0.22" >500</text>
<text transform="translate(345.8,372.6) scale(1,1.12)" font-size="10.5" font-weight="bold" text-anchor="middle" fill="#000" stroke="#000" stroke-width="0.22" >600</text>
<text transform="translate(380.6,372.6) scale(1,1.12)" font-size="10.5" font-weight="bold" text-anchor="middle" fill="#000" stroke="#000" stroke-width="0.22" >700</text>
<text transform="translate(415.4,372.6) scale(1,1.12)" font-size="10.5" font-weight="bold" text-anchor="middle" fill="#000" stroke="#000" stroke-width="0.22" >800</text>
<text transform="translate(450.2,372.6) scale(1,1.12)" font-size="10.5" font-weight="bold" text-anchor="middle" fill="#000" stroke="#000" stroke-width="0.22" >900</text>
<text x="250.5" y="205.6" font-size="18.8" font-weight="bold" text-anchor="start" fill="#000" stroke="#000" stroke-width="0.22" >e</text>
<text transform="translate(240.0,242.4) rotate(-90)" font-size="11.0" font-weight="bold" text-anchor="middle" stroke="#000" stroke-width="0.22">CPL (mdeg)</text>
<text transform="translate(239.8,319.0) rotate(-90)" font-size="11.0" font-weight="bold" text-anchor="middle" stroke="#000" stroke-width="0.22">DC (V)</text>
<text x="360.5" y="384.8" font-size="10.8" font-weight="bold" text-anchor="middle" fill="#000" stroke="#000" stroke-width="0.22"  textLength="91" lengthAdjust="spacingAndGlyphs">Wavelength (nm)</text>
<line x1="379.1" y1="214.3" x2="396.8" y2="214.3" stroke="#5262c0" stroke-width="2.2"/>
<text transform="translate(398.7,217.3) scale(1,1.15)" font-size="8.0" font-weight="bold" text-anchor="start" fill="#000" stroke="#000" stroke-width="0.22" >BTA/<tspan font-style="italic">R</tspan>-Cu<tspan font-size="5.5" dy="1.8">6</tspan></text>
<line x1="379.4" y1="267.8" x2="396.1" y2="267.8" stroke="#5262c0" stroke-width="1.7" stroke-dasharray="1.5 1.96"/>
<text transform="translate(398.7,270.6) scale(1,1.15)" font-size="8.0" font-weight="bold" text-anchor="start" fill="#000" stroke="#000" stroke-width="0.22" >BTA/<tspan font-style="italic">S</tspan>-Cu<tspan font-size="5.5" dy="1.8">6</tspan></text>
<defs><clipPath id="clipf1"><rect x="494.6" y="203.6" width="182.79999999999995" height="77.6"/></clipPath><clipPath id="clipf2"><rect x="494.6" y="281.2" width="182.79999999999995" height="78.10000000000002"/></clipPath></defs>
<rect x="494.6" y="203.6" width="182.8" height="155.7" fill="none" stroke="#000" stroke-width="1.25"/>
<line x1="494.6" y1="281.2" x2="677.4" y2="281.2" stroke="#000" stroke-width="1.25"/>
<g clip-path="url(#clipf1)">
<path d="M494.2,242.9 L495,242.9 L495.7,242.9 L496.4,242.9 L497.2,242.9 L497.9,242.9 L498.7,242.9 L499.4,242.9 L500.1,242.9 L500.9,242.9 L501.6,242.9 L502.3,242.9 L503.1,242.9 L503.8,242.8 L504.5,242.8 L505.3,242.7 L506,242.7 L506.7,242.6 L507.5,242.5 L508.2,242.5 L509,242.4 L509.7,242.3 L510.4,242.1 L511.2,241.9 L511.9,241.9 L512.6,241.6 L513.4,240.9 L514.1,240.7 L514.8,240.7 L515.6,239.8 L516.3,240 L517,239.3 L517.8,239.2 L518.5,238.2 L519.3,237.7 L520,237.7 L520.7,236.8 L521.5,236.2 L522.2,236.1 L522.9,235.6 L523.7,235 L524.4,234.3 L525.1,234.4 L525.9,233.6 L526.6,233.2 L527.3,233 L528.1,232.5 L528.8,232 L529.5,232.2 L530.3,231.4 L531,231.6 L531.8,231 L532.5,230.7 L533.2,231 L534,230.3 L534.7,230 L535.4,230.4 L536.2,230.4 L536.9,230.1 L537.6,229.1 L538.4,229.6 L539.1,228.6 L539.8,228.9 L540.6,228.1 L541.3,228.4 L542.1,228.1 L542.8,227.4 L543.5,227.7 L544.3,227.3 L545,226.7 L545.7,226.7 L546.5,226.4 L547.2,226.2 L547.9,226.8 L548.7,226.6 L549.4,226 L550.1,225.9 L550.9,226.3 L551.6,225.8 L552.4,225.9 L553.1,225.7 L553.8,225.8 L554.6,225.7 L555.3,224.8 L556,225.2 L556.8,224.6 L557.5,225 L558.2,224.6 L559,224.7 L559.7,224.3 L560.4,224.3 L561.2,223.8 L561.9,224 L562.7,223.4 L563.4,223.4 L564.1,223.6 L564.9,223.2 L565.6,223 L566.3,222.5 L567.1,222.8 L567.8,222.7 L568.5,222 L569.3,221.9 L570,221.8 L570.7,222 L571.5,221.9 L572.2,221.7 L572.9,221.7 L573.7,221.7 L574.4,221.2 L575.2,221.3 L575.9,221.2 L576.6,221.3 L577.4,221.7 L578.1,221.2 L578.8,221.3 L579.6,221.4 L580.3,221.5 L581,221.5 L581.8,221.4 L582.5,221.6 L583.2,221.8 L584,222.3 L584.7,222.6 L585.5,222.7 L586.2,222.6 L586.9,223.4 L587.7,223.7 L588.4,224.1 L589.1,224.6 L589.9,224.3 L590.6,225.5 L591.3,225.3 L592.1,225.4 L592.8,226.2 L593.5,226.2 L594.3,226.7 L595,227 L595.8,227.3 L596.5,227.7 L597.2,227.4 L598,227.7 L598.7,227.9 L599.4,228.8 L600.2,228.6 L600.9,229.2 L601.6,229.2 L602.4,229.5 L603.1,230 L603.8,229.8 L604.6,230.8 L605.3,230.5 L606.1,230.7 L606.8,231.3 L607.5,231.5 L608.3,231.5 L609,232.4 L609.7,232.3 L610.5,232.5 L611.2,233.1 L611.9,233.2 L612.7,233.7 L613.4,233.9 L614.1,234.1 L614.9,234.4 L615.6,235 L616.3,235" fill="none" stroke="#f59f4a" stroke-width="1.5" stroke-linejoin="round"/>
<path d="M494.2,242.9 L495,242.9 L495.7,242.9 L496.4,242.9 L497.2,242.9 L497.9,242.9 L498.7,242.9 L499.4,242.9 L500.1,242.9 L500.9,242.9 L501.6,242.9 L502.3,242.9 L503.1,242.9 L503.8,242.8 L504.5,242.8 L505.3,242.7 L506,242.6 L506.7,242.5 L507.5,242.4 L508.2,242.3 L509,242.2 L509.7,242.1 L510.4,241.9 L511.2,241.7 L511.9,241.4 L512.6,241.3 L513.4,240.7 L514.1,240.7 L514.8,239.8 L515.6,239.7 L516.3,239.1 L517,238.8 L517.8,238.3 L518.5,238 L519.3,237.6 L520,236.4 L520.7,236.1 L521.5,235.5 L522.2,234.8 L522.9,234 L523.7,233.9 L524.4,233.4 L525.1,232.4 L525.9,232.1 L526.6,231.5 L527.3,230.9 L528.1,230.4 L528.8,230 L529.5,230.3 L530.3,229.6 L531,229 L531.8,228.7 L532.5,229 L533.2,228.7 L534,228.5 L534.7,228.4 L535.4,228 L536.2,227.5 L536.9,227.5 L537.6,227.4 L538.4,227.5 L539.1,227.1 L539.8,226.4 L540.6,226.5 L541.3,226.5 L542.1,226.4 L542.8,226 L543.5,225.9 L544.3,226.2 L545,225.7 L545.7,225.9 L546.5,225.6 L547.2,225.8 L547.9,225.6 L548.7,225.5 L549.4,225.4 L550.1,225.6 L550.9,225.3 L551.6,225 L552.4,225.3 L553.1,225.1 L553.8,224.6 L554.6,224.8 L555.3,224.7 L556,224.6 L556.8,224 L557.5,224.5 L558.2,224 L559,223.7 L559.7,224.1 L560.4,223.8 L561.2,223.4 L561.9,223.4 L562.7,223.4 L563.4,223.6 L564.1,223.1 L564.9,223.1 L565.6,222.7 L566.3,222.9 L567.1,222.7 L567.8,222.4 L568.5,222.2 L569.3,222.4 L570,222.2 L570.7,222 L571.5,221.6 L572.2,222 L572.9,221.3 L573.7,221.4 L574.4,221.6 L575.2,221.4 L575.9,221.7 L576.6,221.9 L577.4,221.5 L578.1,221.8 L578.8,221.8 L579.6,222 L580.3,221.8 L581,222 L581.8,222.7 L582.5,222.4 L583.2,222.7 L584,222.9 L584.7,222.9 L585.5,223.5 L586.2,223.7 L586.9,223.7 L587.7,224.4 L588.4,224.7 L589.1,225 L589.9,225.1 L590.6,225.6 L591.3,225.9 L592.1,226.4 L592.8,227 L593.5,226.8 L594.3,227.2 L595,227.3 L595.8,227.6 L596.5,228.4 L597.2,228.5 L598,228.9 L598.7,228.6 L599.4,229.5 L600.2,229.7 L600.9,229.5 L601.6,229.9 L602.4,230.6 L603.1,230.4 L603.8,230.6 L604.6,231.1 L605.3,231.7 L606.1,231.5 L606.8,232 L607.5,232.1 L608.3,232.1 L609,232.5 L609.7,232.7 L610.5,233.6 L611.2,233.7 L611.9,233.8 L612.7,234.5 L613.4,234 L614.1,234.8 L614.9,235.1 L615.6,235.4 L616.3,235.7" fill="none" stroke="#f8c23a" stroke-width="1.5" stroke-linejoin="round"/>
<path d="M494.2,242.9 L495,242.9 L495.7,242.9 L496.4,242.9 L497.2,242.9 L497.9,242.9 L498.7,242.9 L499.4,242.9 L500.1,242.9 L500.9,242.9 L501.6,242.9 L502.3,242.9 L503.1,242.8 L503.8,242.8 L504.5,242.6 L505.3,242.5 L506,242.4 L506.7,242.2 L507.5,242 L508.2,241.8 L509,241.6 L509.7,241.3 L510.4,240.9 L511.2,240.4 L511.9,239.6 L512.6,239.3 L513.4,238.7 L514.1,238.2 L514.8,237.8 L515.6,236.8 L516.3,235.6 L517,234.8 L517.8,233.9 L518.5,233.5 L519.3,232.7 L520,231.8 L520.7,230.4 L521.5,229.4 L522.2,228.3 L522.9,227.3 L523.7,226.4 L524.4,225.8 L525.1,224.6 L525.9,224.3 L526.6,223 L527.3,222.7 L528.1,222.5 L528.8,221.9 L529.5,221.3 L530.3,220.9 L531,220.5 L531.8,220.5 L532.5,220.5 L533.2,220.1 L534,220.6 L534.7,220.5 L535.4,220.5 L536.2,220.8 L536.9,221.1 L537.6,220.9 L538.4,221.5 L539.1,221.4 L539.8,222.2 L540.6,222.1 L541.3,222.1 L542.1,222.7 L542.8,222.2 L543.5,222.9 L544.3,222.5 L545,222.9 L545.7,222.4 L546.5,222.7 L547.2,222.6 L547.9,222.9 L548.7,222.8 L549.4,222.8 L550.1,223.2 L550.9,223.3 L551.6,222.8 L552.4,223.4 L553.1,222.8 L553.8,223.4 L554.6,223.5 L555.3,223.5 L556,222.9 L556.8,222.8 L557.5,223.2 L558.2,223 L559,223.2 L559.7,222.7 L560.4,222.8 L561.2,223.1 L561.9,223.1 L562.7,222.5 L563.4,223 L564.1,222.3 L564.9,222.6 L565.6,222.6 L566.3,222.2 L567.1,222.4 L567.8,222.1 L568.5,222.4 L569.3,221.8 L570,222.2 L570.7,221.7 L571.5,222.2 L572.2,221.6 L572.9,221.4 L573.7,221.8 L574.4,222.1 L575.2,221.8 L575.9,221.6 L576.6,222 L577.4,221.9 L578.1,222.4 L578.8,222.2 L579.6,222.2 L580.3,222.6 L581,222.6 L581.8,223.3 L582.5,222.9 L583.2,223.7 L584,223.3 L584.7,223.5 L585.5,223.8 L586.2,224.4 L586.9,224.9 L587.7,225.2 L588.4,225.2 L589.1,225.8 L589.9,225.7 L590.6,226.7 L591.3,226.7 L592.1,226.7 L592.8,227.2 L593.5,227.6 L594.3,228.2 L595,228.4 L595.8,228.6 L596.5,228.4 L597.2,228.7 L598,229.5 L598.7,229.2 L599.4,230.2 L600.2,230 L600.9,230 L601.6,230.8 L602.4,230.6 L603.1,231.1 L603.8,231.8 L604.6,231.9 L605.3,232 L606.1,232.5 L606.8,232.3 L607.5,233 L608.3,232.8 L609,233.5 L609.7,233.9 L610.5,233.8 L611.2,234.4 L611.9,234.3 L612.7,234.4 L613.4,234.8 L614.1,235.1 L614.9,235.7 L615.6,235.6 L616.3,236.1" fill="none" stroke="#f8df2a" stroke-width="1.5" stroke-linejoin="round"/>
<path d="M494.2,242.9 L495,242.9 L495.7,242.9 L496.4,242.9 L497.2,242.9 L497.9,242.9 L498.7,242.9 L499.4,242.9 L500.1,242.9 L500.9,242.9 L501.6,242.9 L502.3,242.9 L503.1,242.8 L503.8,242.7 L504.5,242.5 L505.3,242.3 L506,242.1 L506.7,241.8 L507.5,241.5 L508.2,241.2 L509,240.9 L509.7,240.5 L510.4,240 L511.2,239.3 L511.9,238.4 L512.6,238 L513.4,236.8 L514.1,236.1 L514.8,235.2 L515.6,233.9 L516.3,233.1 L517,231.9 L517.8,230 L518.5,229.3 L519.3,227.7 L520,226.3 L520.7,225.3 L521.5,224.2 L522.2,222.9 L522.9,221 L523.7,220.5 L524.4,219.2 L525.1,218.2 L525.9,217.6 L526.6,216.4 L527.3,215.9 L528.1,214.9 L528.8,214.5 L529.5,214.1 L530.3,213.8 L531,213.3 L531.8,213.3 L532.5,213.3 L533.2,213.3 L534,213 L534.7,213.5 L535.4,213.5 L536.2,214.4 L536.9,214 L537.6,214.7 L538.4,214.9 L539.1,215.5 L539.8,215.9 L540.6,216.7 L541.3,216.8 L542.1,217.8 L542.8,218.1 L543.5,218.8 L544.3,218.9 L545,219.3 L545.7,220 L546.5,220.1 L547.2,221.3 L547.9,221.5 L548.7,222.3 L549.4,222.5 L550.1,222.9 L550.9,223.4 L551.6,224.4 L552.4,224.7 L553.1,224.8 L553.8,224.8 L554.6,225.8 L555.3,225.5 L556,225.6 L556.8,225.6 L557.5,226.1 L558.2,225.8 L559,226.2 L559.7,225.9 L560.4,226.7 L561.2,226.1 L561.9,226.5 L562.7,226.6 L563.4,226.9 L564.1,226.9 L564.9,226.5 L565.6,226.6 L566.3,227.1 L567.1,227 L567.8,227.2 L568.5,227.2 L569.3,227.2 L570,227.2 L570.7,226.7 L571.5,226.7 L572.2,226.9 L572.9,227.2 L573.7,227.3 L574.4,227.1 L575.2,227.1 L575.9,227.3 L576.6,227.5 L577.4,228 L578.1,227.8 L578.8,227.8 L579.6,228 L580.3,228.8 L581,228.5 L581.8,229 L582.5,229.4 L583.2,228.9 L584,229.4 L584.7,229.6 L585.5,230.3 L586.2,230 L586.9,230.2 L587.7,230.5 L588.4,230.9 L589.1,231.1 L589.9,231.4 L590.6,231.8 L591.3,232.2 L592.1,232.1 L592.8,232.3 L593.5,232.4 L594.3,233 L595,232.7 L595.8,233.2 L596.5,233 L597.2,233.8 L598,233.3 L598.7,233.6 L599.4,234.2 L600.2,233.9 L600.9,234.5 L601.6,234.7 L602.4,234.6 L603.1,234.9 L603.8,234.9 L604.6,234.7 L605.3,235 L606.1,235.1 L606.8,235.5 L607.5,235.4 L608.3,235.5 L609,235.7 L609.7,235.7 L610.5,235.9 L611.2,236.4 L611.9,236.8 L612.7,236.4 L613.4,236.4 L614.1,237 L614.9,236.9 L615.6,236.8 L616.3,237" fill="none" stroke="#afd83a" stroke-width="1.5" stroke-linejoin="round"/>
<path d="M494.2,242.9 L495,242.9 L495.7,242.9 L496.4,242.9 L497.2,242.9 L497.9,242.9 L498.7,242.9 L499.4,242.9 L500.1,242.9 L500.9,242.9 L501.6,242.9 L502.3,242.9 L503.1,242.8 L503.8,242.6 L504.5,242.4 L505.3,242.2 L506,241.9 L506.7,241.6 L507.5,241.3 L508.2,241 L509,240.6 L509.7,240.1 L510.4,239.5 L511.2,238.8 L511.9,238.3 L512.6,237 L513.4,236.4 L514.1,235.3 L514.8,233.6 L515.6,232.7 L516.3,231.2 L517,229.9 L517.8,228.5 L518.5,227.2 L519.3,225.6 L520,223.7 L520.7,222.4 L521.5,221.1 L522.2,219.7 L522.9,218.1 L523.7,216.4 L524.4,215.4 L525.1,213.9 L525.9,212.5 L526.6,211.9 L527.3,210.5 L528.1,210.1 L528.8,208.9 L529.5,208.9 L530.3,208.4 L531,207.4 L531.8,207.7 L532.5,207.8 L533.2,207.5 L534,208.1 L534.7,208.4 L535.4,209.4 L536.2,209.9 L536.9,210.1 L537.6,211.1 L538.4,211.4 L539.1,212.7 L539.8,212.9 L540.6,214.2 L541.3,214.7 L542.1,215.8 L542.8,216.4 L543.5,216.5 L544.3,217.6 L545,218 L545.7,219.2 L546.5,219.9 L547.2,220.8 L547.9,221.3 L548.7,221.8 L549.4,222.8 L550.1,223.6 L550.9,223.9 L551.6,224.5 L552.4,225.3 L553.1,226.4 L553.8,226.4 L554.6,227 L555.3,227 L556,227.8 L556.8,227.8 L557.5,228.1 L558.2,228.6 L559,228.7 L559.7,228.8 L560.4,228.8 L561.2,229.4 L561.9,229.7 L562.7,229.4 L563.4,230.3 L564.1,229.8 L564.9,230.1 L565.6,230.3 L566.3,230.5 L567.1,230.4 L567.8,230.4 L568.5,230.7 L569.3,230.7 L570,231.4 L570.7,231.2 L571.5,231.4 L572.2,230.8 L572.9,231 L573.7,231.6 L574.4,231.4 L575.2,231.5 L575.9,232 L576.6,231.8 L577.4,231.7 L578.1,231.9 L578.8,232.4 L579.6,232.2 L580.3,232.7 L581,232.7 L581.8,232.9 L582.5,232.7 L583.2,233.1 L584,233.2 L584.7,233.5 L585.5,233.9 L586.2,233.7 L586.9,234.1 L587.7,234.4 L588.4,234.9 L589.1,235.2 L589.9,235.1 L590.6,235.1 L591.3,235.3 L592.1,235.7 L592.8,236 L593.5,235.8 L594.3,235.7 L595,236.3 L595.8,235.9 L596.5,236.5 L597.2,236.4 L598,236.7 L598.7,236.6 L599.4,236.6 L600.2,236.2 L600.9,236.3 L601.6,237 L602.4,236.9 L603.1,236.5 L603.8,237.2 L604.6,237.1 L605.3,237.1 L606.1,237.4 L606.8,237.4 L607.5,237.3 L608.3,237.4 L609,237 L609.7,237.6 L610.5,237.7 L611.2,237.2 L611.9,237.7 L612.7,237.4 L613.4,237.6 L614.1,237.6 L614.9,238 L615.6,238.2 L616.3,237.7" fill="none" stroke="#69c65a" stroke-width="1.5" stroke-linejoin="round"/>
<path d="M494.2,242.9 L495,242.9 L495.7,242.9 L496.4,242.9 L497.2,242.9 L497.9,242.9 L498.7,242.9 L499.4,242.9 L500.1,242.9 L500.9,242.9 L501.6,242.9 L502.3,242.9 L503.1,242.8 L503.8,242.7 L504.5,242.5 L505.3,242.4 L506,242.1 L506.7,241.9 L507.5,241.6 L508.2,241.4 L509,241.1 L509.7,240.7 L510.4,240.2 L511.2,239.5 L511.9,238.8 L512.6,238 L513.4,237.1 L514.1,236.2 L514.8,235.7 L515.6,234.6 L516.3,233.2 L517,232.4 L517.8,231.4 L518.5,230 L519.3,229.1 L520,227.5 L520.7,226.7 L521.5,224.7 L522.2,223.5 L522.9,222.4 L523.7,220.9 L524.4,220.3 L525.1,219.3 L525.9,218.5 L526.6,217.1 L527.3,216.2 L528.1,215.5 L528.8,215.2 L529.5,214.4 L530.3,214.4 L531,213.9 L531.8,213.4 L532.5,213.1 L533.2,213.5 L534,213.6 L534.7,213.9 L535.4,214.5 L536.2,214.4 L536.9,214.9 L537.6,215.7 L538.4,216.1 L539.1,216.3 L539.8,217.2 L540.6,217.9 L541.3,217.9 L542.1,218.7 L542.8,219.2 L543.5,219.6 L544.3,219.9 L545,221 L545.7,221.3 L546.5,222 L547.2,222.2 L547.9,222.6 L548.7,222.8 L549.4,223.5 L550.1,224 L550.9,224.6 L551.6,224.9 L552.4,225.6 L553.1,225.5 L553.8,226 L554.6,226.3 L555.3,227.2 L556,227.1 L556.8,227.3 L557.5,227.8 L558.2,227.8 L559,228.1 L559.7,228.5 L560.4,228.7 L561.2,229.1 L561.9,229.1 L562.7,229.9 L563.4,229.7 L564.1,229.9 L564.9,230.2 L565.6,230.7 L566.3,231.1 L567.1,230.8 L567.8,230.8 L568.5,231.4 L569.3,231.6 L570,231.7 L570.7,232 L571.5,231.6 L572.2,231.5 L572.9,231.8 L573.7,232.2 L574.4,232.1 L575.2,232.7 L575.9,232.3 L576.6,232.8 L577.4,233.2 L578.1,232.9 L578.8,233.4 L579.6,233.5 L580.3,233.8 L581,233.6 L581.8,233.7 L582.5,233.6 L583.2,234.4 L584,233.9 L584.7,234.6 L585.5,234.7 L586.2,234.5 L586.9,234.9 L587.7,235.1 L588.4,235 L589.1,235.4 L589.9,235.1 L590.6,235.7 L591.3,235.4 L592.1,235.5 L592.8,235.9 L593.5,236.4 L594.3,235.9 L595,236.6 L595.8,236.4 L596.5,236.6 L597.2,237 L598,236.7 L598.7,236.7 L599.4,236.9 L600.2,237.2 L600.9,237.2 L601.6,237.3 L602.4,237.7 L603.1,237.3 L603.8,237.3 L604.6,237.5 L605.3,237.5 L606.1,238.1 L606.8,237.7 L607.5,238.5 L608.3,238.3 L609,238.7 L609.7,238.5 L610.5,238.4 L611.2,238.5 L611.9,238.8 L612.7,239 L613.4,239.2 L614.1,239.1 L614.9,239.3 L615.6,239.5 L616.3,239.1" fill="none" stroke="#33b27b" stroke-width="1.5" stroke-linejoin="round"/>
<path d="M494.2,242.9 L495,242.9 L495.7,242.9 L496.4,242.9 L497.2,242.9 L497.9,242.9 L498.7,242.9 L499.4,242.9 L500.1,242.9 L500.9,242.9 L501.6,242.9 L502.3,242.9 L503.1,242.8 L503.8,242.7 L504.5,242.6 L505.3,242.4 L506,242.2 L506.7,242 L507.5,241.8 L508.2,241.5 L509,241.3 L509.7,240.9 L510.4,240.5 L511.2,240 L511.9,239.4 L512.6,238.8 L513.4,238.3 L514.1,237.2 L514.8,236.9 L515.6,236 L516.3,234.9 L517,233.8 L517.8,232.7 L518.5,231.9 L519.3,230.7 L520,229.6 L520.7,228.7 L521.5,227.5 L522.2,226.9 L522.9,225.7 L523.7,224.9 L524.4,223.3 L525.1,222.5 L525.9,221.6 L526.6,221.1 L527.3,220.2 L528.1,219.7 L528.8,218.8 L529.5,218 L530.3,218.1 L531,217.9 L531.8,217.6 L532.5,217.4 L533.2,217 L534,217.3 L534.7,217.8 L535.4,218.4 L536.2,218.6 L536.9,218.9 L537.6,218.8 L538.4,219.5 L539.1,219.5 L539.8,220 L540.6,220.6 L541.3,221.3 L542.1,221.5 L542.8,222.5 L543.5,223 L544.3,223 L545,223.5 L545.7,224.2 L546.5,224.6 L547.2,225.2 L547.9,224.9 L548.7,225.5 L549.4,225.7 L550.1,226.1 L550.9,227 L551.6,227.1 L552.4,227.8 L553.1,227.8 L553.8,228.2 L554.6,229.1 L555.3,229.5 L556,229.7 L556.8,229.7 L557.5,230.1 L558.2,230.7 L559,230.3 L559.7,230.6 L560.4,231.1 L561.2,231.7 L561.9,231.3 L562.7,231.8 L563.4,232.4 L564.1,232.5 L564.9,232.4 L565.6,232.5 L566.3,233 L567.1,233.1 L567.8,233.6 L568.5,233.8 L569.3,233.4 L570,234 L570.7,234.4 L571.5,234.2 L572.2,234.7 L572.9,234.8 L573.7,234.7 L574.4,234.8 L575.2,234.9 L575.9,235 L576.6,235.4 L577.4,235.8 L578.1,235.4 L578.8,236.1 L579.6,235.9 L580.3,236.1 L581,236.1 L581.8,236.2 L582.5,236.7 L583.2,236.5 L584,236.6 L584.7,236.9 L585.5,237.2 L586.2,236.7 L586.9,237.1 L587.7,237.6 L588.4,237.6 L589.1,237.1 L589.9,237.8 L590.6,237.8 L591.3,237.6 L592.1,237.7 L592.8,237.9 L593.5,237.9 L594.3,238.6 L595,238.6 L595.8,238 L596.5,238.2 L597.2,238.9 L598,239 L598.7,238.9 L599.4,238.5 L600.2,239.1 L600.9,238.8 L601.6,238.7 L602.4,239 L603.1,238.9 L603.8,239.5 L604.6,239.6 L605.3,239.8 L606.1,239.3 L606.8,239.9 L607.5,239.3 L608.3,239.5 L609,240 L609.7,239.6 L610.5,240.2 L611.2,240 L611.9,240.4 L612.7,239.9 L613.4,239.9 L614.1,239.9 L614.9,240.7 L615.6,240.1 L616.3,240.4" fill="none" stroke="#22998a" stroke-width="1.5" stroke-linejoin="round"/>
<path d="M494.2,242.9 L495,242.9 L495.7,242.9 L496.4,242.9 L497.2,242.9 L497.9,242.9 L498.7,242.9 L499.4,242.9 L500.1,242.9 L500.9,242.9 L501.6,242.9 L502.3,242.9 L503.1,242.8 L503.8,242.7 L504.5,242.6 L505.3,242.4 L506,242.2 L506.7,242 L507.5,241.8 L508.2,241.5 L509,241.3 L509.7,240.9 L510.4,240.5 L511.2,240 L511.9,239.2 L512.6,238.8 L513.4,238 L514.1,237.3 L514.8,236.4 L515.6,236.1 L516.3,235.1 L517,233.7 L517.8,232.9 L518.5,231.8 L519.3,231.1 L520,229.4 L520.7,228.8 L521.5,227.1 L522.2,226 L522.9,225.2 L523.7,224.5 L524.4,223.1 L525.1,222.6 L525.9,221.5 L526.6,221 L527.3,219.5 L528.1,219.2 L528.8,218.8 L529.5,218.5 L530.3,217.5 L531,217 L531.8,216.7 L532.5,217.3 L533.2,217.1 L534,217.4 L534.7,217.3 L535.4,218 L536.2,217.9 L536.9,217.9 L537.6,218.5 L538.4,219.5 L539.1,219.9 L539.8,220.3 L540.6,220.3 L541.3,220.9 L542.1,221.4 L542.8,221.9 L543.5,222.4 L544.3,222.7 L545,223.1 L545.7,223.3 L546.5,223.9 L547.2,224.3 L547.9,224.6 L548.7,225.1 L549.4,225.7 L550.1,226.6 L550.9,226.6 L551.6,226.8 L552.4,227.6 L553.1,227.6 L553.8,228.5 L554.6,228.3 L555.3,229 L556,229.1 L556.8,229.8 L557.5,230.1 L558.2,230.4 L559,230.7 L559.7,231.1 L560.4,231.1 L561.2,231 L561.9,231.5 L562.7,231.6 L563.4,232 L564.1,232.1 L564.9,232.3 L565.6,232.7 L566.3,233.3 L567.1,233.5 L567.8,233.6 L568.5,234.2 L569.3,234.2 L570,233.9 L570.7,234 L571.5,234.7 L572.2,234.5 L572.9,234.7 L573.7,234.8 L574.4,235 L575.2,235.4 L575.9,235.9 L576.6,235.4 L577.4,236 L578.1,235.8 L578.8,236.2 L579.6,236.2 L580.3,235.9 L581,236.7 L581.8,236.5 L582.5,236.5 L583.2,236.7 L584,236.5 L584.7,237.1 L585.5,236.8 L586.2,237.1 L586.9,237 L587.7,237.8 L588.4,237.8 L589.1,237.9 L589.9,237.5 L590.6,238.3 L591.3,238.2 L592.1,238 L592.8,237.8 L593.5,238.6 L594.3,238.5 L595,238.4 L595.8,238.5 L596.5,238.5 L597.2,238.6 L598,239.1 L598.7,239.2 L599.4,239.4 L600.2,239 L600.9,239.4 L601.6,239.5 L602.4,239 L603.1,239.3 L603.8,239.5 L604.6,239.5 L605.3,239.6 L606.1,239.6 L606.8,240 L607.5,240.3 L608.3,240.3 L609,240.4 L609.7,240.2 L610.5,240.5 L611.2,240.6 L611.9,240.3 L612.7,240 L613.4,240.3 L614.1,240.7 L614.9,240.4 L615.6,240.9 L616.3,241" fill="none" stroke="#2a7f8c" stroke-width="1.5" stroke-linejoin="round"/>
<path d="M494.2,242.9 L495,242.9 L495.7,242.9 L496.4,242.9 L497.2,242.9 L497.9,242.9 L498.7,242.9 L499.4,242.9 L500.1,242.9 L500.9,242.9 L501.6,242.9 L502.3,242.9 L503.1,242.8 L503.8,242.7 L504.5,242.6 L505.3,242.5 L506,242.3 L506.7,242.1 L507.5,241.9 L508.2,241.7 L509,241.5 L509.7,241.2 L510.4,240.8 L511.2,240.4 L511.9,240 L512.6,239.4 L513.4,238.6 L514.1,238.1 L514.8,237.2 L515.6,236.8 L516.3,235.3 L517,234.8 L517.8,233.4 L518.5,233.1 L519.3,231.5 L520,230.9 L520.7,229.3 L521.5,228.3 L522.2,227.3 L522.9,226.6 L523.7,225.9 L524.4,224.8 L525.1,223.4 L525.9,223.1 L526.6,221.9 L527.3,221.2 L528.1,220.5 L528.8,220.3 L529.5,219.8 L530.3,219.3 L531,218.2 L531.8,218.4 L532.5,218.1 L533.2,218.3 L534,218.6 L534.7,218.9 L535.4,219.2 L536.2,218.7 L536.9,219.5 L537.6,219.2 L538.4,220.1 L539.1,220.3 L539.8,221.2 L540.6,221.2 L541.3,222.1 L542.1,222.5 L542.8,222.9 L543.5,223.6 L544.3,223.9 L545,223.9 L545.7,224.8 L546.5,225.2 L547.2,225.3 L547.9,226.2 L548.7,226.6 L549.4,227.1 L550.1,227.4 L550.9,227.8 L551.6,228 L552.4,228.5 L553.1,228.6 L553.8,229.6 L554.6,229.5 L555.3,229.7 L556,230.5 L556.8,231 L557.5,231 L558.2,231.5 L559,231.5 L559.7,231.6 L560.4,232.4 L561.2,232.6 L561.9,232.6 L562.7,233.1 L563.4,233.3 L564.1,233.4 L564.9,233.8 L565.6,234.1 L566.3,234.1 L567.1,234.2 L567.8,234 L568.5,234.5 L569.3,235 L570,235.1 L570.7,234.8 L571.5,235.1 L572.2,235 L572.9,235 L573.7,235.3 L574.4,236 L575.2,235.4 L575.9,235.9 L576.6,236.3 L577.4,236.4 L578.1,236 L578.8,236.6 L579.6,236.8 L580.3,236.8 L581,236.4 L581.8,236.9 L582.5,236.8 L583.2,237.4 L584,237.3 L584.7,237.5 L585.5,237.7 L586.2,237.5 L586.9,237.8 L587.7,238.2 L588.4,237.6 L589.1,238.1 L589.9,238.5 L590.6,238.7 L591.3,238.3 L592.1,238.5 L592.8,239 L593.5,238.7 L594.3,238.6 L595,238.9 L595.8,239.2 L596.5,239.1 L597.2,239.1 L598,239.1 L598.7,239.6 L599.4,239.1 L600.2,239.1 L600.9,239.3 L601.6,239.3 L602.4,239.8 L603.1,239.4 L603.8,240.1 L604.6,240.1 L605.3,239.9 L606.1,239.7 L606.8,240.4 L607.5,240.4 L608.3,240.6 L609,240.3 L609.7,240.6 L610.5,240.7 L611.2,240.3 L611.9,240.5 L612.7,240.3 L613.4,240.7 L614.1,240.6 L614.9,241.2 L615.6,240.5 L616.3,241.1" fill="none" stroke="#30658f" stroke-width="1.5" stroke-linejoin="round"/>
<path d="M494.2,242.9 L495,242.9 L495.7,242.9 L496.4,242.9 L497.2,242.9 L497.9,242.9 L498.7,242.9 L499.4,242.9 L500.1,242.9 L500.9,242.9 L501.6,242.9 L502.3,242.9 L503.1,242.9 L503.8,243 L504.5,243 L505.3,243.1 L506,243.1 L506.7,243.2 L507.5,243.3 L508.2,243.3 L509,243.4 L509.7,243.5 L510.4,243.7 L511.2,243.9 L511.9,244.2 L512.6,244.4 L513.4,244.7 L514.1,245 L514.8,245.3 L515.6,245.7 L516.3,246.1 L517,246.5 L517.8,247 L518.5,247.4 L519.3,247.7 L520,248.1 L520.7,248.4 L521.5,248.7 L522.2,249.1 L522.9,249.4 L523.7,249.8 L524.4,250.2 L525.1,250.7 L525.9,251.2 L526.6,251.7 L527.3,252.1 L528.1,252.5 L528.8,252.9 L529.5,253.2 L530.3,253.4 L531,253.7 L531.8,253.9 L532.5,254.2 L533.2,254.4 L534,254.7 L534.7,255 L535.4,255.2 L536.2,255.5 L536.9,255.7 L537.6,255.9 L538.4,256.2 L539.1,256.4 L539.8,256.6 L540.6,256.8 L541.3,257.1 L542.1,257.3 L542.8,257.5 L543.5,257.8 L544.3,258.1 L545,258.4 L545.7,258.7 L546.5,259 L547.2,259.3 L547.9,259.7 L548.7,260 L549.4,260.4 L550.1,260.7 L550.9,261.1 L551.6,261.4 L552.4,261.7 L553.1,261.9 L553.8,262.2 L554.6,262.4 L555.3,262.6 L556,262.7 L556.8,262.9 L557.5,263 L558.2,263.1 L559,263.3 L559.7,263.4 L560.4,263.5 L561.2,263.6 L561.9,263.7 L562.7,263.8 L563.4,263.9 L564.1,264 L564.9,264 L565.6,264.1 L566.3,264.2 L567.1,264.2 L567.8,264.3 L568.5,264.3 L569.3,264.4 L570,264.4 L570.7,264.5 L571.5,264.5 L572.2,264.5 L572.9,264.6 L573.7,264.6 L574.4,264.6 L575.2,264.6 L575.9,264.6 L576.6,264.5 L577.4,264.4 L578.1,264.3 L578.8,264.2 L579.6,264 L580.3,263.8 L581,263.7 L581.8,263.5 L582.5,263.3 L583.2,263.1 L584,262.8 L584.7,262.5 L585.5,262.2 L586.2,261.8 L586.9,261.5 L587.7,261.1 L588.4,260.7 L589.1,260.3 L589.9,259.9 L590.6,259.5 L591.3,259.1 L592.1,258.8 L592.8,258.5 L593.5,258.1 L594.3,257.8 L595,257.5 L595.8,257.2 L596.5,256.8 L597.2,256.5 L598,256.2 L598.7,255.9 L599.4,255.6 L600.2,255.2 L600.9,254.9 L601.6,254.6 L602.4,254.3 L603.1,254 L603.8,253.7 L604.6,253.4 L605.3,253.1 L606.1,252.8 L606.8,252.5 L607.5,252.3 L608.3,252 L609,251.7 L609.7,251.4 L610.5,251.1 L611.2,250.9 L611.9,250.6 L612.7,250.3 L613.4,250 L614.1,249.8 L614.9,249.5 L615.6,249.2 L616.3,249" fill="none" stroke="#f59f4a" stroke-width="1.6" stroke-dasharray="1.4 1.3" stroke-linecap="butt"/>
<path d="M494.2,242.9 L495,242.9 L495.7,242.9 L496.4,242.9 L497.2,242.9 L497.9,242.9 L498.7,242.9 L499.4,242.9 L500.1,242.9 L500.9,242.9 L501.6,242.9 L502.3,242.9 L503.1,242.9 L503.8,243 L504.5,243.1 L505.3,243.1 L506,243.2 L506.7,243.3 L507.5,243.4 L508.2,243.6 L509,243.7 L509.7,243.8 L510.4,244.1 L511.2,244.3 L511.9,244.6 L512.6,245 L513.4,245.3 L514.1,245.7 L514.8,246.1 L515.6,246.5 L516.3,247 L517,247.5 L517.8,248.1 L518.5,248.6 L519.3,249.2 L520,249.8 L520.7,250.4 L521.5,251 L522.2,251.6 L522.9,252.2 L523.7,252.8 L524.4,253.3 L525.1,253.8 L525.9,254.2 L526.6,254.7 L527.3,255.1 L528.1,255.5 L528.8,255.8 L529.5,256.1 L530.3,256.4 L531,256.6 L531.8,256.9 L532.5,257.1 L533.2,257.4 L534,257.6 L534.7,257.9 L535.4,258.2 L536.2,258.4 L536.9,258.8 L537.6,259.1 L538.4,259.4 L539.1,259.8 L539.8,260.1 L540.6,260.5 L541.3,260.7 L542.1,261 L542.8,261.2 L543.5,261.4 L544.3,261.5 L545,261.6 L545.7,261.7 L546.5,261.8 L547.2,261.8 L547.9,261.9 L548.7,262 L549.4,262 L550.1,262.1 L550.9,262.1 L551.6,262.2 L552.4,262.3 L553.1,262.3 L553.8,262.4 L554.6,262.5 L555.3,262.6 L556,262.7 L556.8,262.8 L557.5,263 L558.2,263.1 L559,263.3 L559.7,263.4 L560.4,263.6 L561.2,263.8 L561.9,264 L562.7,264.2 L563.4,264.3 L564.1,264.5 L564.9,264.7 L565.6,264.8 L566.3,265 L567.1,265.1 L567.8,265.3 L568.5,265.4 L569.3,265.5 L570,265.6 L570.7,265.8 L571.5,265.9 L572.2,266 L572.9,266.1 L573.7,266.2 L574.4,266.2 L575.2,266.2 L575.9,266.2 L576.6,266.2 L577.4,266.1 L578.1,266 L578.8,265.9 L579.6,265.8 L580.3,265.7 L581,265.6 L581.8,265.4 L582.5,265.3 L583.2,265.1 L584,264.8 L584.7,264.5 L585.5,264.1 L586.2,263.7 L586.9,263.3 L587.7,262.8 L588.4,262.3 L589.1,261.8 L589.9,261.4 L590.6,260.9 L591.3,260.5 L592.1,260.1 L592.8,259.8 L593.5,259.4 L594.3,259.1 L595,258.8 L595.8,258.4 L596.5,258.1 L597.2,257.8 L598,257.5 L598.7,257.2 L599.4,256.9 L600.2,256.6 L600.9,256.3 L601.6,256 L602.4,255.7 L603.1,255.4 L603.8,255 L604.6,254.7 L605.3,254.4 L606.1,254.1 L606.8,253.8 L607.5,253.5 L608.3,253.2 L609,252.8 L609.7,252.5 L610.5,252.2 L611.2,251.9 L611.9,251.6 L612.7,251.3 L613.4,250.9 L614.1,250.6 L614.9,250.3 L615.6,250 L616.3,249.7" fill="none" stroke="#f8c23a" stroke-width="1.6" stroke-dasharray="1.4 1.3" stroke-linecap="butt"/>
<path d="M494.2,242.9 L495,242.9 L495.7,242.9 L496.4,242.9 L497.2,242.9 L497.9,242.9 L498.7,242.9 L499.4,242.9 L500.1,242.9 L500.9,242.9 L501.6,242.9 L502.3,242.9 L503.1,243 L503.8,243 L504.5,243.1 L505.3,243.3 L506,243.4 L506.7,243.5 L507.5,243.7 L508.2,243.9 L509,244.1 L509.7,244.3 L510.4,244.6 L511.2,245 L511.9,245.5 L512.6,246 L513.4,246.5 L514.1,247 L514.8,247.6 L515.6,248.3 L516.3,249 L517,249.7 L517.8,250.5 L518.5,251.2 L519.3,252 L520,252.8 L520.7,253.6 L521.5,254.4 L522.2,255.3 L522.9,256 L523.7,256.7 L524.4,257.3 L525.1,258 L525.9,258.6 L526.6,259.1 L527.3,259.6 L528.1,260.1 L528.8,260.4 L529.5,260.7 L530.3,261 L531,261.3 L531.8,261.5 L532.5,261.7 L533.2,261.9 L534,262.1 L534.7,262.3 L535.4,262.5 L536.2,262.7 L536.9,262.9 L537.6,263.2 L538.4,263.4 L539.1,263.7 L539.8,263.9 L540.6,264.2 L541.3,264.4 L542.1,264.5 L542.8,264.6 L543.5,264.6 L544.3,264.6 L545,264.6 L545.7,264.6 L546.5,264.5 L547.2,264.5 L547.9,264.5 L548.7,264.5 L549.4,264.4 L550.1,264.4 L550.9,264.4 L551.6,264.3 L552.4,264.3 L553.1,264.3 L553.8,264.3 L554.6,264.3 L555.3,264.3 L556,264.3 L556.8,264.3 L557.5,264.3 L558.2,264.3 L559,264.4 L559.7,264.4 L560.4,264.4 L561.2,264.5 L561.9,264.5 L562.7,264.6 L563.4,264.6 L564.1,264.7 L564.9,264.7 L565.6,264.8 L566.3,264.8 L567.1,264.9 L567.8,264.9 L568.5,265 L569.3,265 L570,265 L570.7,265.1 L571.5,265.1 L572.2,265.2 L572.9,265.2 L573.7,265.2 L574.4,265.2 L575.2,265.3 L575.9,265.2 L576.6,265.2 L577.4,265.1 L578.1,265 L578.8,264.8 L579.6,264.7 L580.3,264.5 L581,264.3 L581.8,264.1 L582.5,263.9 L583.2,263.7 L584,263.5 L584.7,263.2 L585.5,262.9 L586.2,262.5 L586.9,262.1 L587.7,261.7 L588.4,261.4 L589.1,261 L589.9,260.6 L590.6,260.2 L591.3,259.8 L592.1,259.4 L592.8,259.1 L593.5,258.8 L594.3,258.5 L595,258.1 L595.8,257.8 L596.5,257.5 L597.2,257.1 L598,256.8 L598.7,256.5 L599.4,256.2 L600.2,255.8 L600.9,255.5 L601.6,255.2 L602.4,254.9 L603.1,254.6 L603.8,254.4 L604.6,254.1 L605.3,253.8 L606.1,253.5 L606.8,253.3 L607.5,253 L608.3,252.8 L609,252.5 L609.7,252.3 L610.5,252 L611.2,251.8 L611.9,251.6 L612.7,251.3 L613.4,251.1 L614.1,250.9 L614.9,250.7 L615.6,250.5 L616.3,250.3" fill="none" stroke="#f8df2a" stroke-width="1.6" stroke-dasharray="1.4 1.3" stroke-linecap="butt"/>
<path d="M494.2,242.9 L495,242.9 L495.7,242.9 L496.4,242.9 L497.2,242.9 L497.9,242.9 L498.7,242.9 L499.4,242.9 L500.1,242.9 L500.9,242.9 L501.6,242.9 L502.3,242.9 L503.1,243 L503.8,243.1 L504.5,243.3 L505.3,243.4 L506,243.7 L506.7,243.9 L507.5,244.2 L508.2,244.4 L509,244.7 L509.7,245.1 L510.4,245.7 L511.2,246.4 L511.9,247.2 L512.6,248 L513.4,248.9 L514.1,249.8 L514.8,250.8 L515.6,251.8 L516.3,253 L517,254.2 L517.8,255.4 L518.5,256.6 L519.3,257.8 L520,259.1 L520.7,260.4 L521.5,261.8 L522.2,263 L522.9,264.2 L523.7,265.3 L524.4,266.2 L525.1,267.2 L525.9,268.2 L526.6,269 L527.3,269.8 L528.1,270.3 L528.8,270.6 L529.5,270.8 L530.3,271 L531,271.2 L531.8,271.3 L532.5,271.3 L533.2,271.2 L534,271 L534.7,270.8 L535.4,270.5 L536.2,270.3 L536.9,270 L537.6,269.7 L538.4,269.4 L539.1,269 L539.8,268.6 L540.6,268.3 L541.3,267.9 L542.1,267.5 L542.8,267.1 L543.5,266.8 L544.3,266.4 L545,266.1 L545.7,265.7 L546.5,265.4 L547.2,265 L547.9,264.6 L548.7,264.3 L549.4,263.9 L550.1,263.6 L550.9,263.3 L551.6,262.9 L552.4,262.7 L553.1,262.4 L553.8,262.1 L554.6,261.9 L555.3,261.7 L556,261.5 L556.8,261.4 L557.5,261.2 L558.2,261 L559,260.9 L559.7,260.7 L560.4,260.6 L561.2,260.5 L561.9,260.4 L562.7,260.2 L563.4,260.1 L564.1,260 L564.9,259.9 L565.6,259.9 L566.3,259.8 L567.1,259.7 L567.8,259.7 L568.5,259.6 L569.3,259.6 L570,259.6 L570.7,259.5 L571.5,259.5 L572.2,259.5 L572.9,259.5 L573.7,259.4 L574.4,259.4 L575.2,259.3 L575.9,259.3 L576.6,259.2 L577.4,259.1 L578.1,258.9 L578.8,258.8 L579.6,258.7 L580.3,258.5 L581,258.3 L581.8,258.2 L582.5,258 L583.2,257.9 L584,257.7 L584.7,257.5 L585.5,257.3 L586.2,257.1 L586.9,256.9 L587.7,256.7 L588.4,256.5 L589.1,256.3 L589.9,256.1 L590.6,255.9 L591.3,255.7 L592.1,255.5 L592.8,255.3 L593.5,255.1 L594.3,254.9 L595,254.7 L595.8,254.5 L596.5,254.3 L597.2,254.1 L598,253.9 L598.7,253.7 L599.4,253.5 L600.2,253.3 L600.9,253.1 L601.6,252.9 L602.4,252.7 L603.1,252.5 L603.8,252.3 L604.6,252.1 L605.3,251.9 L606.1,251.7 L606.8,251.5 L607.5,251.3 L608.3,251.1 L609,250.9 L609.7,250.7 L610.5,250.5 L611.2,250.3 L611.9,250.1 L612.7,249.9 L613.4,249.7 L614.1,249.5 L614.9,249.3 L615.6,249.1 L616.3,248.9" fill="none" stroke="#afd83a" stroke-width="1.6" stroke-dasharray="1.4 1.3" stroke-linecap="butt"/>
<path d="M494.2,242.9 L495,242.9 L495.7,242.9 L496.4,242.9 L497.2,242.9 L497.9,242.9 L498.7,242.9 L499.4,242.9 L500.1,242.9 L500.9,242.9 L501.6,242.9 L502.3,242.9 L503.1,243 L503.8,243.1 L504.5,243.3 L505.3,243.5 L506,243.7 L506.7,244 L507.5,244.2 L508.2,244.6 L509,244.9 L509.7,245.3 L510.4,245.9 L511.2,246.7 L511.9,247.6 L512.6,248.5 L513.4,249.5 L514.1,250.5 L514.8,251.6 L515.6,252.8 L516.3,254.1 L517,255.5 L517.8,256.9 L518.5,258.2 L519.3,259.6 L520,261 L520.7,262.5 L521.5,264 L522.2,265.4 L522.9,266.7 L523.7,267.9 L524.4,269 L525.1,270.1 L525.9,271.2 L526.6,272.2 L527.3,273 L528.1,273.6 L528.8,273.9 L529.5,274 L530.3,274.2 L531,274.3 L531.8,274.3 L532.5,274.3 L533.2,274.1 L534,273.7 L534.7,273.3 L535.4,272.8 L536.2,272.3 L536.9,271.9 L537.6,271.4 L538.4,270.9 L539.1,270.3 L539.8,269.8 L540.6,269.2 L541.3,268.7 L542.1,268.1 L542.8,267.6 L543.5,267.1 L544.3,266.5 L545,266 L545.7,265.4 L546.5,264.8 L547.2,264.3 L547.9,263.7 L548.7,263.1 L549.4,262.6 L550.1,262 L550.9,261.5 L551.6,261 L552.4,260.5 L553.1,260 L553.8,259.6 L554.6,259.2 L555.3,258.8 L556,258.5 L556.8,258.1 L557.5,257.8 L558.2,257.4 L559,257.1 L559.7,256.8 L560.4,256.5 L561.2,256.2 L561.9,255.9 L562.7,255.6 L563.4,255.4 L564.1,255.2 L564.9,255 L565.6,254.8 L566.3,254.6 L567.1,254.5 L567.8,254.4 L568.5,254.3 L569.3,254.3 L570,254.2 L570.7,254.2 L571.5,254.1 L572.2,254.1 L572.9,254.1 L573.7,254 L574.4,254 L575.2,253.9 L575.9,253.8 L576.6,253.7 L577.4,253.5 L578.1,253.4 L578.8,253.2 L579.6,253.1 L580.3,252.9 L581,252.7 L581.8,252.6 L582.5,252.4 L583.2,252.3 L584,252.1 L584.7,252 L585.5,251.8 L586.2,251.7 L586.9,251.5 L587.7,251.4 L588.4,251.2 L589.1,251.1 L589.9,250.9 L590.6,250.8 L591.3,250.7 L592.1,250.5 L592.8,250.4 L593.5,250.2 L594.3,250.1 L595,249.9 L595.8,249.8 L596.5,249.7 L597.2,249.5 L598,249.4 L598.7,249.2 L599.4,249.1 L600.2,249 L600.9,248.8 L601.6,248.7 L602.4,248.6 L603.1,248.4 L603.8,248.3 L604.6,248.2 L605.3,248 L606.1,247.9 L606.8,247.8 L607.5,247.7 L608.3,247.5 L609,247.4 L609.7,247.3 L610.5,247.2 L611.2,247.1 L611.9,246.9 L612.7,246.8 L613.4,246.7 L614.1,246.6 L614.9,246.5 L615.6,246.4 L616.3,246.3" fill="none" stroke="#69c65a" stroke-width="1.6" stroke-dasharray="1.4 1.3" stroke-linecap="butt"/>
<path d="M494.2,242.9 L495,242.9 L495.7,242.9 L496.4,242.9 L497.2,242.9 L497.9,242.9 L498.7,242.9 L499.4,242.9 L500.1,242.9 L500.9,242.9 L501.6,242.9 L502.3,242.9 L503.1,243 L503.8,243.1 L504.5,243.3 L505.3,243.4 L506,243.7 L506.7,243.9 L507.5,244.2 L508.2,244.4 L509,244.7 L509.7,245.1 L510.4,245.6 L511.2,246.3 L511.9,247 L512.6,247.8 L513.4,248.6 L514.1,249.4 L514.8,250.3 L515.6,251.4 L516.3,252.5 L517,253.6 L517.8,254.8 L518.5,256 L519.3,257.2 L520,258.6 L520.7,260 L521.5,261.4 L522.2,262.8 L522.9,264.1 L523.7,265.3 L524.4,266.3 L525.1,267.3 L525.9,268.3 L526.6,269.2 L527.3,270 L528.1,270.6 L528.8,270.9 L529.5,271.2 L530.3,271.5 L531,271.7 L531.8,271.8 L532.5,271.8 L533.2,271.7 L534,271.4 L534.7,271.1 L535.4,270.7 L536.2,270.4 L536.9,270.1 L537.6,269.7 L538.4,269.3 L539.1,268.9 L539.8,268.5 L540.6,268.1 L541.3,267.7 L542.1,267.3 L542.8,266.8 L543.5,266.4 L544.3,266 L545,265.6 L545.7,265.1 L546.5,264.7 L547.2,264.2 L547.9,263.8 L548.7,263.3 L549.4,262.9 L550.1,262.4 L550.9,262 L551.6,261.5 L552.4,261.1 L553.1,260.6 L553.8,260.2 L554.6,259.8 L555.3,259.5 L556,259.1 L556.8,258.7 L557.5,258.4 L558.2,258 L559,257.7 L559.7,257.3 L560.4,257 L561.2,256.7 L561.9,256.3 L562.7,256 L563.4,255.7 L564.1,255.4 L564.9,255.1 L565.6,254.8 L566.3,254.6 L567.1,254.3 L567.8,254.1 L568.5,253.8 L569.3,253.6 L570,253.4 L570.7,253.2 L571.5,253 L572.2,252.8 L572.9,252.6 L573.7,252.5 L574.4,252.3 L575.2,252.1 L575.9,251.9 L576.6,251.7 L577.4,251.6 L578.1,251.4 L578.8,251.2 L579.6,251.1 L580.3,250.9 L581,250.8 L581.8,250.6 L582.5,250.5 L583.2,250.3 L584,250.2 L584.7,250.1 L585.5,249.9 L586.2,249.8 L586.9,249.7 L587.7,249.6 L588.4,249.4 L589.1,249.3 L589.9,249.2 L590.6,249.1 L591.3,249 L592.1,248.9 L592.8,248.7 L593.5,248.6 L594.3,248.5 L595,248.4 L595.8,248.2 L596.5,248.1 L597.2,248 L598,247.9 L598.7,247.8 L599.4,247.6 L600.2,247.5 L600.9,247.4 L601.6,247.3 L602.4,247.2 L603.1,247.1 L603.8,247 L604.6,246.8 L605.3,246.7 L606.1,246.6 L606.8,246.5 L607.5,246.4 L608.3,246.3 L609,246.2 L609.7,246.1 L610.5,246 L611.2,245.9 L611.9,245.8 L612.7,245.7 L613.4,245.6 L614.1,245.5 L614.9,245.4 L615.6,245.4 L616.3,245.3" fill="none" stroke="#33b27b" stroke-width="1.6" stroke-dasharray="1.4 1.3" stroke-linecap="butt"/>
<path d="M494.2,242.9 L495,242.9 L495.7,242.9 L496.4,242.9 L497.2,242.9 L497.9,242.9 L498.7,242.9 L499.4,242.9 L500.1,242.9 L500.9,242.9 L501.6,242.9 L502.3,242.9 L503.1,243 L503.8,243.1 L504.5,243.2 L505.3,243.3 L506,243.5 L506.7,243.7 L507.5,243.9 L508.2,244.1 L509,244.3 L509.7,244.6 L510.4,245 L511.2,245.5 L511.9,246.1 L512.6,246.7 L513.4,247.4 L514.1,248.1 L514.8,248.8 L515.6,249.7 L516.3,250.7 L517,251.7 L517.8,252.7 L518.5,253.7 L519.3,254.8 L520,255.9 L520.7,257.1 L521.5,258.3 L522.2,259.5 L522.9,260.6 L523.7,261.6 L524.4,262.6 L525.1,263.6 L525.9,264.5 L526.6,265.4 L527.3,266.2 L528.1,266.8 L528.8,267.4 L529.5,268 L530.3,268.5 L531,268.9 L531.8,269.1 L532.5,269.2 L533.2,269.2 L534,269.2 L534.7,269.2 L535.4,269.2 L536.2,269.2 L536.9,269.1 L537.6,268.9 L538.4,268.6 L539.1,268.3 L539.8,267.9 L540.6,267.5 L541.3,267 L542.1,266.6 L542.8,266.2 L543.5,265.8 L544.3,265.4 L545,264.9 L545.7,264.5 L546.5,264 L547.2,263.5 L547.9,263 L548.7,262.5 L549.4,262 L550.1,261.5 L550.9,261 L551.6,260.5 L552.4,260 L553.1,259.5 L553.8,259 L554.6,258.6 L555.3,258.2 L556,257.8 L556.8,257.4 L557.5,257 L558.2,256.6 L559,256.2 L559.7,255.8 L560.4,255.4 L561.2,255 L561.9,254.7 L562.7,254.3 L563.4,254 L564.1,253.6 L564.9,253.3 L565.6,253 L566.3,252.7 L567.1,252.4 L567.8,252.1 L568.5,251.8 L569.3,251.6 L570,251.3 L570.7,251.1 L571.5,250.9 L572.2,250.6 L572.9,250.4 L573.7,250.2 L574.4,250 L575.2,249.8 L575.9,249.6 L576.6,249.4 L577.4,249.2 L578.1,249.1 L578.8,248.9 L579.6,248.7 L580.3,248.6 L581,248.4 L581.8,248.3 L582.5,248.2 L583.2,248 L584,247.9 L584.7,247.8 L585.5,247.7 L586.2,247.6 L586.9,247.5 L587.7,247.4 L588.4,247.3 L589.1,247.2 L589.9,247.2 L590.6,247.1 L591.3,247 L592.1,246.9 L592.8,246.8 L593.5,246.7 L594.3,246.6 L595,246.5 L595.8,246.4 L596.5,246.3 L597.2,246.2 L598,246.1 L598.7,246 L599.4,245.9 L600.2,245.8 L600.9,245.7 L601.6,245.6 L602.4,245.5 L603.1,245.4 L603.8,245.3 L604.6,245.2 L605.3,245.1 L606.1,245 L606.8,244.9 L607.5,244.9 L608.3,244.8 L609,244.7 L609.7,244.6 L610.5,244.5 L611.2,244.5 L611.9,244.4 L612.7,244.3 L613.4,244.2 L614.1,244.1 L614.9,244.1 L615.6,244 L616.3,243.9" fill="none" stroke="#22998a" stroke-width="1.6" stroke-dasharray="1.4 1.3" stroke-linecap="butt"/>
<path d="M494.2,242.9 L495,242.9 L495.7,242.9 L496.4,242.9 L497.2,242.9 L497.9,242.9 L498.7,242.9 L499.4,242.9 L500.1,242.9 L500.9,242.9 L501.6,242.9 L502.3,242.9 L503.1,243 L503.8,243 L504.5,243.1 L505.3,243.3 L506,243.4 L506.7,243.6 L507.5,243.7 L508.2,243.9 L509,244.1 L509.7,244.3 L510.4,244.6 L511.2,245 L511.9,245.4 L512.6,245.9 L513.4,246.4 L514.1,246.9 L514.8,247.5 L515.6,248.2 L516.3,249 L517,249.8 L517.8,250.6 L518.5,251.5 L519.3,252.4 L520,253.3 L520.7,254.2 L521.5,255.2 L522.2,256.2 L522.9,257.1 L523.7,258 L524.4,258.9 L525.1,259.7 L525.9,260.5 L526.6,261.3 L527.3,262.1 L528.1,262.8 L528.8,263.5 L529.5,264.2 L530.3,264.8 L531,265.4 L531.8,265.9 L532.5,266.4 L533.2,266.8 L534,267.3 L534.7,267.6 L535.4,267.8 L536.2,267.9 L536.9,267.9 L537.6,267.8 L538.4,267.8 L539.1,267.7 L539.8,267.7 L540.6,267.6 L541.3,267.5 L542.1,267.4 L542.8,267.3 L543.5,267.2 L544.3,267 L545,266.6 L545.7,266.2 L546.5,265.7 L547.2,265.1 L547.9,264.4 L548.7,263.7 L549.4,262.9 L550.1,262.1 L550.9,261.4 L551.6,260.6 L552.4,259.8 L553.1,259.1 L553.8,258.4 L554.6,257.8 L555.3,257.2 L556,256.7 L556.8,256.2 L557.5,255.7 L558.2,255.3 L559,254.8 L559.7,254.4 L560.4,253.9 L561.2,253.5 L561.9,253.1 L562.7,252.6 L563.4,252.3 L564.1,251.9 L564.9,251.5 L565.6,251.2 L566.3,250.8 L567.1,250.5 L567.8,250.3 L568.5,250 L569.3,249.8 L570,249.5 L570.7,249.3 L571.5,249.1 L572.2,248.9 L572.9,248.7 L573.7,248.5 L574.4,248.3 L575.2,248.2 L575.9,248 L576.6,247.8 L577.4,247.7 L578.1,247.5 L578.8,247.4 L579.6,247.2 L580.3,247.1 L581,247 L581.8,246.8 L582.5,246.7 L583.2,246.6 L584,246.5 L584.7,246.4 L585.5,246.3 L586.2,246.2 L586.9,246.1 L587.7,246 L588.4,245.9 L589.1,245.8 L589.9,245.7 L590.6,245.6 L591.3,245.5 L592.1,245.4 L592.8,245.3 L593.5,245.3 L594.3,245.2 L595,245.1 L595.8,245 L596.5,244.9 L597.2,244.8 L598,244.8 L598.7,244.7 L599.4,244.6 L600.2,244.5 L600.9,244.4 L601.6,244.4 L602.4,244.3 L603.1,244.2 L603.8,244.2 L604.6,244.1 L605.3,244 L606.1,243.9 L606.8,243.9 L607.5,243.8 L608.3,243.8 L609,243.7 L609.7,243.6 L610.5,243.6 L611.2,243.5 L611.9,243.5 L612.7,243.4 L613.4,243.3 L614.1,243.3 L614.9,243.2 L615.6,243.2 L616.3,243.1" fill="none" stroke="#2a7f8c" stroke-width="1.6" stroke-dasharray="1.4 1.3" stroke-linecap="butt"/>
<path d="M494.2,242.9 L495,242.9 L495.7,242.9 L496.4,242.9 L497.2,242.9 L497.9,242.9 L498.7,242.9 L499.4,242.9 L500.1,242.9 L500.9,242.9 L501.6,242.9 L502.3,242.9 L503.1,243 L503.8,243 L504.5,243.1 L505.3,243.2 L506,243.3 L506.7,243.4 L507.5,243.6 L508.2,243.7 L509,243.9 L509.7,244.1 L510.4,244.3 L511.2,244.7 L511.9,245 L512.6,245.4 L513.4,245.9 L514.1,246.3 L514.8,246.9 L515.6,247.5 L516.3,248.2 L517,249 L517.8,249.7 L518.5,250.5 L519.3,251.3 L520,252.2 L520.7,253.1 L521.5,254 L522.2,254.9 L522.9,255.8 L523.7,256.7 L524.4,257.5 L525.1,258.4 L525.9,259.2 L526.6,260 L527.3,260.8 L528.1,261.5 L528.8,262.2 L529.5,262.8 L530.3,263.4 L531,264 L531.8,264.6 L532.5,265.1 L533.2,265.7 L534,266.2 L534.7,266.7 L535.4,267.1 L536.2,267.3 L536.9,267.4 L537.6,267.5 L538.4,267.6 L539.1,267.7 L539.8,267.7 L540.6,267.8 L541.3,267.8 L542.1,267.9 L542.8,267.9 L543.5,267.9 L544.3,267.8 L545,267.5 L545.7,267.1 L546.5,266.6 L547.2,266.1 L547.9,265.4 L548.7,264.7 L549.4,264 L550.1,263.2 L550.9,262.4 L551.6,261.6 L552.4,260.9 L553.1,260.1 L553.8,259.4 L554.6,258.8 L555.3,258.2 L556,257.7 L556.8,257.2 L557.5,256.7 L558.2,256.2 L559,255.7 L559.7,255.2 L560.4,254.7 L561.2,254.3 L561.9,253.8 L562.7,253.4 L563.4,253 L564.1,252.5 L564.9,252.2 L565.6,251.8 L566.3,251.4 L567.1,251.1 L567.8,250.8 L568.5,250.5 L569.3,250.2 L570,250 L570.7,249.7 L571.5,249.5 L572.2,249.3 L572.9,249.1 L573.7,248.9 L574.4,248.7 L575.2,248.5 L575.9,248.3 L576.6,248.1 L577.4,248 L578.1,247.8 L578.8,247.7 L579.6,247.5 L580.3,247.4 L581,247.2 L581.8,247.1 L582.5,247 L583.2,246.9 L584,246.7 L584.7,246.6 L585.5,246.5 L586.2,246.4 L586.9,246.3 L587.7,246.2 L588.4,246.1 L589.1,245.9 L589.9,245.8 L590.6,245.8 L591.3,245.7 L592.1,245.6 L592.8,245.5 L593.5,245.4 L594.3,245.3 L595,245.2 L595.8,245.1 L596.5,245 L597.2,245 L598,244.9 L598.7,244.8 L599.4,244.7 L600.2,244.6 L600.9,244.6 L601.6,244.5 L602.4,244.4 L603.1,244.4 L603.8,244.3 L604.6,244.2 L605.3,244.1 L606.1,244.1 L606.8,244 L607.5,244 L608.3,243.9 L609,243.8 L609.7,243.8 L610.5,243.7 L611.2,243.6 L611.9,243.6 L612.7,243.5 L613.4,243.5 L614.1,243.4 L614.9,243.4 L615.6,243.3 L616.3,243.3" fill="none" stroke="#30658f" stroke-width="1.6" stroke-dasharray="1.4 1.3" stroke-linecap="butt"/>
</g>
<g clip-path="url(#clipf2)">
<path d="M494.2,359.3 L495,359.3 L495.7,359.3 L496.4,359.3 L497.2,359.3 L497.9,359.3 L498.7,359.2 L499.4,359.2 L500.1,359.2 L500.9,359.2 L501.6,359.1 L502.3,359.1 L503.1,359.1 L503.8,359.1 L504.5,359 L505.3,359 L506,358.9 L506.7,358.8 L507.5,358.7 L508.2,358.6 L509,358.5 L509.7,358.3 L510.4,358.1 L511.2,357.7 L511.9,357.3 L512.6,356.9 L513.4,356.4 L514.1,355.9 L514.8,355.3 L515.6,354.6 L516.3,353.9 L517,353.1 L517.8,352.2 L518.5,351.3 L519.3,350.4 L520,349.6 L520.7,348.6 L521.5,347.7 L522.2,346.7 L522.9,345.7 L523.7,344.7 L524.4,343.7 L525.1,342.7 L525.9,341.8 L526.6,340.9 L527.3,340 L528.1,339.2 L528.8,338.3 L529.5,337.5 L530.3,336.6 L531,335.8 L531.8,335 L532.5,334.2 L533.2,333.4 L534,332.7 L534.7,332 L535.4,331.4 L536.2,330.8 L536.9,330.2 L537.6,329.6 L538.4,329.1 L539.1,328.6 L539.8,328.1 L540.6,327.6 L541.3,327.2 L542.1,326.8 L542.8,326.3 L543.5,325.9 L544.3,325.6 L545,325.2 L545.7,324.9 L546.5,324.5 L547.2,324.3 L547.9,324 L548.7,323.7 L549.4,323.5 L550.1,323.1 L550.9,322.8 L551.6,322.3 L552.4,321.8 L553.1,321.3 L553.8,320.7 L554.6,320 L555.3,319.3 L556,318.4 L556.8,317.4 L557.5,316.3 L558.2,315.1 L559,313.8 L559.7,312.5 L560.4,311.2 L561.2,309.9 L561.9,308.4 L562.7,306.9 L563.4,305.4 L564.1,304.1 L564.9,302.8 L565.6,301.8 L566.3,300.8 L567.1,299.9 L567.8,299.1 L568.5,298.4 L569.3,297.7 L570,297.1 L570.7,296.5 L571.5,296 L572.2,295.4 L572.9,294.9 L573.7,294.4 L574.4,294 L575.2,293.7 L575.9,293.6 L576.6,293.5 L577.4,293.5 L578.1,293.6 L578.8,293.7 L579.6,293.8 L580.3,293.9 L581,294 L581.8,294.2 L582.5,294.3 L583.2,294.5 L584,294.7 L584.7,295 L585.5,295.4 L586.2,295.8 L586.9,296.2 L587.7,296.7 L588.4,297.2 L589.1,297.7 L589.9,298.2 L590.6,298.8 L591.3,299.4 L592.1,300.1 L592.8,300.9 L593.5,301.7 L594.3,302.5 L595,303.4 L595.8,304.3 L596.5,305.1 L597.2,306 L598,306.9 L598.7,307.7 L599.4,308.6 L600.2,309.5 L600.9,310.4 L601.6,311.4 L602.4,312.3 L603.1,313.2 L603.8,314.2 L604.6,315.1 L605.3,316 L606.1,316.9 L606.8,317.9 L607.5,318.8 L608.3,319.7 L609,320.7 L609.7,321.6 L610.5,322.6 L611.2,323.6 L611.9,324.5 L612.7,325.5 L613.4,326.5 L614.1,327.6 L614.9,328.6 L615.6,329.6 L616.3,330.7" fill="none" stroke="#f59f4a" stroke-width="1.6" stroke-linejoin="round"/>
<path d="M494.2,359.3 L495,359.3 L495.7,359.3 L496.4,359.3 L497.2,359.3 L497.9,359.2 L498.7,359.2 L499.4,359.2 L500.1,359.1 L500.9,359.1 L501.6,359.1 L502.3,359 L503.1,359 L503.8,358.9 L504.5,358.9 L505.3,358.8 L506,358.7 L506.7,358.5 L507.5,358.4 L508.2,358.2 L509,358 L509.7,357.7 L510.4,357.3 L511.2,356.7 L511.9,356.1 L512.6,355.3 L513.4,354.6 L514.1,353.8 L514.8,353 L515.6,352.1 L516.3,351 L517,349.9 L517.8,348.8 L518.5,347.5 L519.3,346.3 L520,345 L520.7,343.6 L521.5,342 L522.2,340.4 L522.9,338.7 L523.7,337.1 L524.4,335.5 L525.1,334.2 L525.9,332.8 L526.6,331.5 L527.3,330.2 L528.1,329.1 L528.8,328 L529.5,327.1 L530.3,326.3 L531,325.6 L531.8,325 L532.5,324.4 L533.2,323.9 L534,323.4 L534.7,322.9 L535.4,322.5 L536.2,322.1 L536.9,321.7 L537.6,321.3 L538.4,321 L539.1,320.6 L539.8,320.3 L540.6,320 L541.3,319.6 L542.1,319.3 L542.8,319 L543.5,318.7 L544.3,318.4 L545,318 L545.7,317.7 L546.5,317.4 L547.2,317 L547.9,316.7 L548.7,316.3 L549.4,315.9 L550.1,315.4 L550.9,314.9 L551.6,314.3 L552.4,313.6 L553.1,312.8 L553.8,311.9 L554.6,311.1 L555.3,310.2 L556,309.3 L556.8,308.3 L557.5,307.3 L558.2,306.3 L559,305.3 L559.7,304.3 L560.4,303.4 L561.2,302.5 L561.9,301.7 L562.7,300.8 L563.4,300.1 L564.1,299.3 L564.9,298.6 L565.6,298 L566.3,297.4 L567.1,296.8 L567.8,296.3 L568.5,295.8 L569.3,295.4 L570,295 L570.7,294.8 L571.5,294.6 L572.2,294.3 L572.9,294.1 L573.7,294 L574.4,293.8 L575.2,293.7 L575.9,293.7 L576.6,293.7 L577.4,293.7 L578.1,293.9 L578.8,294.1 L579.6,294.3 L580.3,294.6 L581,294.9 L581.8,295.3 L582.5,295.6 L583.2,295.9 L584,296.3 L584.7,296.8 L585.5,297.3 L586.2,297.8 L586.9,298.4 L587.7,299 L588.4,299.6 L589.1,300.2 L589.9,300.8 L590.6,301.4 L591.3,302.1 L592.1,302.9 L592.8,303.6 L593.5,304.4 L594.3,305.2 L595,306.1 L595.8,306.9 L596.5,307.8 L597.2,308.6 L598,309.5 L598.7,310.3 L599.4,311.2 L600.2,312.1 L600.9,313 L601.6,314 L602.4,314.9 L603.1,315.8 L603.8,316.8 L604.6,317.7 L605.3,318.6 L606.1,319.6 L606.8,320.5 L607.5,321.4 L608.3,322.4 L609,323.3 L609.7,324.2 L610.5,325.2 L611.2,326.1 L611.9,327.1 L612.7,328 L613.4,328.9 L614.1,329.9 L614.9,330.8 L615.6,331.7 L616.3,332.7" fill="none" stroke="#f8c23a" stroke-width="1.6" stroke-linejoin="round"/>
<path d="M494.2,359.3 L495,359.3 L495.7,359.3 L496.4,359.3 L497.2,359.2 L497.9,359.2 L498.7,359.2 L499.4,359.1 L500.1,359.1 L500.9,359 L501.6,358.9 L502.3,358.8 L503.1,358.8 L503.8,358.7 L504.5,358.6 L505.3,358.4 L506,358.2 L506.7,357.9 L507.5,357.5 L508.2,357.1 L509,356.7 L509.7,356.1 L510.4,355.4 L511.2,354.4 L511.9,353.4 L512.6,352.2 L513.4,351 L514.1,349.8 L514.8,348.4 L515.6,346.9 L516.3,345.3 L517,343.5 L517.8,341.7 L518.5,339.8 L519.3,337.9 L520,335.9 L520.7,333.7 L521.5,331.3 L522.2,328.7 L522.9,326.2 L523.7,323.7 L524.4,321.5 L525.1,319.7 L525.9,318 L526.6,316.3 L527.3,314.7 L528.1,313.3 L528.8,312.2 L529.5,311.4 L530.3,310.9 L531,310.5 L531.8,310.1 L532.5,309.8 L533.2,309.6 L534,309.4 L534.7,309.2 L535.4,309.1 L536.2,309 L536.9,308.9 L537.6,308.8 L538.4,308.7 L539.1,308.6 L539.8,308.6 L540.6,308.6 L541.3,308.6 L542.1,308.6 L542.8,308.6 L543.5,308.6 L544.3,308.6 L545,308.6 L545.7,308.6 L546.5,308.6 L547.2,308.5 L547.9,308.4 L548.7,308.3 L549.4,308.2 L550.1,308.1 L550.9,307.9 L551.6,307.6 L552.4,307.2 L553.1,306.7 L553.8,306.1 L554.6,305.5 L555.3,304.9 L556,304.3 L556.8,303.5 L557.5,302.7 L558.2,301.9 L559,301 L559.7,300.2 L560.4,299.5 L561.2,298.8 L561.9,298.1 L562.7,297.5 L563.4,296.8 L564.1,296.3 L564.9,295.8 L565.6,295.5 L566.3,295.2 L567.1,294.9 L567.8,294.7 L568.5,294.5 L569.3,294.4 L570,294.3 L570.7,294.3 L571.5,294.3 L572.2,294.3 L572.9,294.3 L573.7,294.3 L574.4,294.3 L575.2,294.3 L575.9,294.3 L576.6,294.3 L577.4,294.4 L578.1,294.6 L578.8,294.9 L579.6,295.3 L580.3,295.7 L581,296.1 L581.8,296.5 L582.5,296.9 L583.2,297.3 L584,297.7 L584.7,298.2 L585.5,298.7 L586.2,299.2 L586.9,299.7 L587.7,300.3 L588.4,300.9 L589.1,301.5 L589.9,302.1 L590.6,302.7 L591.3,303.4 L592.1,304.2 L592.8,304.9 L593.5,305.7 L594.3,306.5 L595,307.4 L595.8,308.2 L596.5,309.1 L597.2,309.9 L598,310.8 L598.7,311.6 L599.4,312.5 L600.2,313.4 L600.9,314.3 L601.6,315.3 L602.4,316.2 L603.1,317.1 L603.8,318.1 L604.6,319 L605.3,319.9 L606.1,320.9 L606.8,321.8 L607.5,322.7 L608.3,323.7 L609,324.6 L609.7,325.5 L610.5,326.5 L611.2,327.4 L611.9,328.4 L612.7,329.3 L613.4,330.2 L614.1,331.2 L614.9,332.1 L615.6,333 L616.3,334" fill="none" stroke="#f8df2a" stroke-width="1.6" stroke-linejoin="round"/>
<path d="M494.2,359.3 L495,359.3 L495.7,359.3 L496.4,359.2 L497.2,359.2 L497.9,359.1 L498.7,359 L499.4,358.9 L500.1,358.8 L500.9,358.7 L501.6,358.5 L502.3,358.4 L503.1,358.2 L503.8,358.1 L504.5,357.8 L505.3,357.5 L506,357 L506.7,356.4 L507.5,355.7 L508.2,354.9 L509,354.1 L509.7,353.1 L510.4,351.9 L511.2,350.4 L511.9,348.7 L512.6,346.9 L513.4,345 L514.1,343 L514.8,340.7 L515.6,338.1 L516.3,335.2 L517,332.2 L517.8,329.1 L518.5,326 L519.3,323.1 L520,320.3 L520.7,317.6 L521.5,314.7 L522.2,311.9 L522.9,309.2 L523.7,306.7 L524.4,304.6 L525.1,302.9 L525.9,301.3 L526.6,299.7 L527.3,298.3 L528.1,297.1 L528.8,296.2 L529.5,295.7 L530.3,295.5 L531,295.3 L531.8,295.2 L532.5,295.1 L533.2,295 L534,295 L534.7,295 L535.4,295.1 L536.2,295.6 L536.9,296.2 L537.6,297 L538.4,297.9 L539.1,298.7 L539.8,299.5 L540.6,300.3 L541.3,301.1 L542.1,302 L542.8,302.9 L543.5,303.8 L544.3,304.7 L545,305.4 L545.7,306 L546.5,306.5 L547.2,307 L547.9,307.5 L548.7,308 L549.4,308.3 L550.1,308.5 L550.9,308.6 L551.6,308.7 L552.4,308.7 L553.1,308.8 L553.8,308.8 L554.6,308.8 L555.3,308.9 L556,308.9 L556.8,308.8 L557.5,308.8 L558.2,308.7 L559,308.7 L559.7,308.6 L560.4,308.6 L561.2,308.6 L561.9,308.5 L562.7,308.5 L563.4,308.4 L564.1,308.4 L564.9,308.4 L565.6,308.3 L566.3,308.3 L567.1,308.3 L567.8,308.3 L568.5,308.2 L569.3,308.2 L570,308.2 L570.7,308.2 L571.5,308.2 L572.2,308.3 L572.9,308.3 L573.7,308.3 L574.4,308.4 L575.2,308.5 L575.9,308.5 L576.6,308.6 L577.4,308.8 L578.1,309 L578.8,309.3 L579.6,309.6 L580.3,310 L581,310.4 L581.8,310.8 L582.5,311.2 L583.2,311.6 L584,312.1 L584.7,312.5 L585.5,313 L586.2,313.6 L586.9,314.1 L587.7,314.7 L588.4,315.2 L589.1,315.8 L589.9,316.4 L590.6,317 L591.3,317.6 L592.1,318.2 L592.8,318.9 L593.5,319.5 L594.3,320.2 L595,320.9 L595.8,321.6 L596.5,322.2 L597.2,322.9 L598,323.6 L598.7,324.2 L599.4,324.9 L600.2,325.6 L600.9,326.3 L601.6,327 L602.4,327.7 L603.1,328.4 L603.8,329.1 L604.6,329.8 L605.3,330.5 L606.1,331.2 L606.8,331.9 L607.5,332.7 L608.3,333.4 L609,334.2 L609.7,334.9 L610.5,335.6 L611.2,336.4 L611.9,337.2 L612.7,337.9 L613.4,338.7 L614.1,339.5 L614.9,340.3 L615.6,341.1 L616.3,341.9" fill="none" stroke="#afd83a" stroke-width="1.6" stroke-linejoin="round"/>
<path d="M494.2,359.3 L495,359.3 L495.7,359.3 L496.4,359.2 L497.2,359.2 L497.9,359.1 L498.7,359 L499.4,358.9 L500.1,358.8 L500.9,358.7 L501.6,358.5 L502.3,358.4 L503.1,358.2 L503.8,358.1 L504.5,357.8 L505.3,357.5 L506,357 L506.7,356.4 L507.5,355.7 L508.2,354.9 L509,354.1 L509.7,353.1 L510.4,351.9 L511.2,350.4 L511.9,348.7 L512.6,346.9 L513.4,345 L514.1,343 L514.8,340.7 L515.6,338.1 L516.3,335.2 L517,332.2 L517.8,329.1 L518.5,326 L519.3,323.1 L520,320.3 L520.7,317.6 L521.5,314.7 L522.2,311.9 L522.9,309.2 L523.7,306.7 L524.4,304.6 L525.1,302.9 L525.9,301.3 L526.6,299.8 L527.3,298.4 L528.1,297.3 L528.8,296.4 L529.5,295.7 L530.3,295.4 L531,295.1 L531.8,294.8 L532.5,294.6 L533.2,294.4 L534,294.3 L534.7,294.3 L535.4,294.5 L536.2,295 L536.9,295.7 L537.6,296.6 L538.4,297.6 L539.1,298.6 L539.8,299.5 L540.6,300.4 L541.3,301.4 L542.1,302.4 L542.8,303.4 L543.5,304.5 L544.3,305.5 L545,306.4 L545.7,307.3 L546.5,308.1 L547.2,308.9 L547.9,309.6 L548.7,310.3 L549.4,310.9 L550.1,311.5 L550.9,312 L551.6,312.5 L552.4,312.9 L553.1,313.3 L553.8,313.7 L554.6,314.1 L555.3,314.4 L556,314.6 L556.8,314.8 L557.5,315.1 L558.2,315.2 L559,315.4 L559.7,315.6 L560.4,315.8 L561.2,315.9 L561.9,316 L562.7,316.1 L563.4,316.3 L564.1,316.4 L564.9,316.5 L565.6,316.7 L566.3,317 L567.1,317.3 L567.8,317.7 L568.5,318.1 L569.3,318.5 L570,318.9 L570.7,319.2 L571.5,319.5 L572.2,319.9 L572.9,320.2 L573.7,320.5 L574.4,320.8 L575.2,321.1 L575.9,321.4 L576.6,321.7 L577.4,322 L578.1,322.3 L578.8,322.6 L579.6,322.9 L580.3,323.2 L581,323.5 L581.8,323.9 L582.5,324.2 L583.2,324.5 L584,324.9 L584.7,325.3 L585.5,325.6 L586.2,326 L586.9,326.4 L587.7,326.8 L588.4,327.2 L589.1,327.7 L589.9,328.1 L590.6,328.6 L591.3,329.1 L592.1,329.6 L592.8,330.1 L593.5,330.7 L594.3,331.2 L595,331.7 L595.8,332.3 L596.5,332.8 L597.2,333.3 L598,333.8 L598.7,334.3 L599.4,334.7 L600.2,335.2 L600.9,335.7 L601.6,336.1 L602.4,336.6 L603.1,337 L603.8,337.4 L604.6,337.9 L605.3,338.3 L606.1,338.7 L606.8,339.1 L607.5,339.5 L608.3,339.9 L609,340.3 L609.7,340.6 L610.5,341 L611.2,341.3 L611.9,341.7 L612.7,342 L613.4,342.3 L614.1,342.6 L614.9,342.9 L615.6,343.2 L616.3,343.5" fill="none" stroke="#69c65a" stroke-width="1.6" stroke-linejoin="round"/>
<path d="M494.2,359.3 L495,359.3 L495.7,359.3 L496.4,359.2 L497.2,359.2 L497.9,359.1 L498.7,359 L499.4,358.9 L500.1,358.8 L500.9,358.7 L501.6,358.5 L502.3,358.4 L503.1,358.2 L503.8,358.1 L504.5,357.9 L505.3,357.6 L506,357.2 L506.7,356.7 L507.5,356.1 L508.2,355.5 L509,354.8 L509.7,353.9 L510.4,352.7 L511.2,351.3 L511.9,349.8 L512.6,348 L513.4,346.2 L514.1,344.4 L514.8,342.2 L515.6,339.8 L516.3,337.1 L517,334.3 L517.8,331.4 L518.5,328.5 L519.3,325.7 L520,322.9 L520.7,320.1 L521.5,317.1 L522.2,314 L522.9,311 L523.7,308.3 L524.4,306 L525.1,304.1 L525.9,302.4 L526.6,300.8 L527.3,299.3 L528.1,298 L528.8,297 L529.5,296.4 L530.3,296 L531,295.7 L531.8,295.5 L532.5,295.3 L533.2,295.1 L534,295 L534.7,295 L535.4,295.1 L536.2,295.4 L536.9,296 L537.6,296.6 L538.4,297.3 L539.1,298.1 L539.8,298.9 L540.6,299.6 L541.3,300.6 L542.1,301.6 L542.8,302.7 L543.5,303.8 L544.3,305 L545,306.2 L545.7,307.3 L546.5,308.4 L547.2,309.6 L547.9,310.8 L548.7,312 L549.4,313.2 L550.1,314.4 L550.9,315.5 L551.6,316.5 L552.4,317.5 L553.1,318.5 L553.8,319.5 L554.6,320.4 L555.3,321.3 L556,322.2 L556.8,323 L557.5,323.8 L558.2,324.6 L559,325.4 L559.7,326.1 L560.4,326.8 L561.2,327.5 L561.9,328.1 L562.7,328.7 L563.4,329.3 L564.1,329.9 L564.9,330.4 L565.6,330.9 L566.3,331.3 L567.1,331.7 L567.8,332.1 L568.5,332.5 L569.3,332.9 L570,333.2 L570.7,333.5 L571.5,333.8 L572.2,334 L572.9,334.2 L573.7,334.4 L574.4,334.7 L575.2,334.9 L575.9,335.1 L576.6,335.3 L577.4,335.6 L578.1,335.8 L578.8,336 L579.6,336.3 L580.3,336.5 L581,336.7 L581.8,337 L582.5,337.2 L583.2,337.4 L584,337.7 L584.7,338 L585.5,338.2 L586.2,338.5 L586.9,338.7 L587.7,339 L588.4,339.3 L589.1,339.5 L589.9,339.8 L590.6,340.1 L591.3,340.3 L592.1,340.6 L592.8,340.8 L593.5,341.1 L594.3,341.4 L595,341.6 L595.8,341.9 L596.5,342.1 L597.2,342.4 L598,342.7 L598.7,342.9 L599.4,343.2 L600.2,343.5 L600.9,343.7 L601.6,344 L602.4,344.2 L603.1,344.5 L603.8,344.8 L604.6,345 L605.3,345.2 L606.1,345.5 L606.8,345.7 L607.5,345.9 L608.3,346.2 L609,346.4 L609.7,346.6 L610.5,346.9 L611.2,347.1 L611.9,347.3 L612.7,347.6 L613.4,347.8 L614.1,348 L614.9,348.3 L615.6,348.5 L616.3,348.7" fill="none" stroke="#33b27b" stroke-width="1.6" stroke-linejoin="round"/>
<path d="M494.2,359.3 L495,359.3 L495.7,359.3 L496.4,359.2 L497.2,359.2 L497.9,359.1 L498.7,359.1 L499.4,359 L500.1,358.9 L500.9,358.8 L501.6,358.7 L502.3,358.6 L503.1,358.4 L503.8,358.3 L504.5,358.1 L505.3,357.9 L506,357.5 L506.7,357.1 L507.5,356.6 L508.2,356 L509,355.4 L509.7,354.7 L510.4,353.7 L511.2,352.7 L511.9,351.4 L512.6,350.1 L513.4,348.6 L514.1,347.1 L514.8,345.3 L515.6,343.2 L516.3,341 L517,338.6 L517.8,336 L518.5,333.4 L519.3,330.7 L520,328.1 L520.7,325.3 L521.5,322.2 L522.2,319 L522.9,315.8 L523.7,312.8 L524.4,310.1 L525.1,307.9 L525.9,305.8 L526.6,303.8 L527.3,301.9 L528.1,300.3 L528.8,298.9 L529.5,297.8 L530.3,297.1 L531,296.3 L531.8,295.7 L532.5,295.1 L533.2,294.7 L534,294.4 L534.7,294.3 L535.4,294.4 L536.2,294.6 L536.9,294.9 L537.6,295.3 L538.4,295.8 L539.1,296.3 L539.8,296.9 L540.6,297.6 L541.3,298.5 L542.1,299.6 L542.8,300.8 L543.5,302.1 L544.3,303.4 L545,304.7 L545.7,306 L546.5,307.3 L547.2,308.7 L547.9,310.1 L548.7,311.5 L549.4,312.9 L550.1,314.2 L550.9,315.5 L551.6,316.8 L552.4,318 L553.1,319.2 L553.8,320.4 L554.6,321.5 L555.3,322.6 L556,323.6 L556.8,324.5 L557.5,325.4 L558.2,326.2 L559,327 L559.7,327.9 L560.4,328.8 L561.2,329.6 L561.9,330.6 L562.7,331.5 L563.4,332.4 L564.1,333.3 L564.9,334.1 L565.6,334.8 L566.3,335.5 L567.1,336.1 L567.8,336.7 L568.5,337.3 L569.3,337.8 L570,338.3 L570.7,338.8 L571.5,339.2 L572.2,339.7 L572.9,340.1 L573.7,340.4 L574.4,340.8 L575.2,341.2 L575.9,341.5 L576.6,341.9 L577.4,342.2 L578.1,342.5 L578.8,342.9 L579.6,343.2 L580.3,343.5 L581,343.8 L581.8,344.1 L582.5,344.4 L583.2,344.6 L584,344.9 L584.7,345.2 L585.5,345.5 L586.2,345.7 L586.9,346 L587.7,346.2 L588.4,346.5 L589.1,346.7 L589.9,346.9 L590.6,347.2 L591.3,347.4 L592.1,347.6 L592.8,347.8 L593.5,348 L594.3,348.2 L595,348.4 L595.8,348.5 L596.5,348.7 L597.2,348.9 L598,349.1 L598.7,349.2 L599.4,349.4 L600.2,349.5 L600.9,349.7 L601.6,349.9 L602.4,350 L603.1,350.2 L603.8,350.3 L604.6,350.5 L605.3,350.6 L606.1,350.8 L606.8,350.9 L607.5,351.1 L608.3,351.3 L609,351.4 L609.7,351.6 L610.5,351.7 L611.2,351.9 L611.9,352 L612.7,352.1 L613.4,352.2 L614.1,352.4 L614.9,352.5 L615.6,352.6 L616.3,352.7" fill="none" stroke="#22998a" stroke-width="1.6" stroke-linejoin="round"/>
<path d="M494.2,359.3 L495,359.3 L495.7,359.3 L496.4,359.3 L497.2,359.2 L497.9,359.2 L498.7,359.1 L499.4,359.1 L500.1,359 L500.9,358.9 L501.6,358.8 L502.3,358.8 L503.1,358.7 L503.8,358.6 L504.5,358.4 L505.3,358.2 L506,357.9 L506.7,357.5 L507.5,357 L508.2,356.6 L509,356.1 L509.7,355.5 L510.4,354.8 L511.2,354 L511.9,353.1 L512.6,352.1 L513.4,351 L514.1,349.8 L514.8,348.3 L515.6,346.6 L516.3,344.7 L517,342.6 L517.8,340.4 L518.5,338.1 L519.3,335.7 L520,333.3 L520.7,330.7 L521.5,327.7 L522.2,324.6 L522.9,321.4 L523.7,318.4 L524.4,315.5 L525.1,313 L525.9,310.6 L526.6,308.2 L527.3,306 L528.1,303.9 L528.8,302.1 L529.5,300.6 L530.3,299.3 L531,298.1 L531.8,296.9 L532.5,295.9 L533.2,295 L534,294.5 L534.7,294.3 L535.4,294.3 L536.2,294.4 L536.9,294.6 L537.6,294.8 L538.4,295 L539.1,295.3 L539.8,295.6 L540.6,296.1 L541.3,296.9 L542.1,297.9 L542.8,299.1 L543.5,300.5 L544.3,301.9 L545,303.3 L545.7,304.7 L546.5,306.1 L547.2,307.7 L547.9,309.3 L548.7,311 L549.4,312.6 L550.1,314.2 L550.9,315.5 L551.6,316.8 L552.4,318 L553.1,319.2 L553.8,320.3 L554.6,321.4 L555.3,322.5 L556,323.6 L556.8,324.7 L557.5,325.8 L558.2,326.9 L559,328 L559.7,329 L560.4,330.1 L561.2,331.1 L561.9,332.1 L562.7,333.1 L563.4,334.1 L564.1,335.1 L564.9,336 L565.6,336.8 L566.3,337.6 L567.1,338.3 L567.8,339 L568.5,339.7 L569.3,340.3 L570,340.9 L570.7,341.5 L571.5,342 L572.2,342.5 L572.9,343 L573.7,343.4 L574.4,343.9 L575.2,344.3 L575.9,344.7 L576.6,345.1 L577.4,345.6 L578.1,346 L578.8,346.4 L579.6,346.8 L580.3,347.2 L581,347.6 L581.8,347.9 L582.5,348.2 L583.2,348.6 L584,348.8 L584.7,349.1 L585.5,349.4 L586.2,349.6 L586.9,349.9 L587.7,350.1 L588.4,350.4 L589.1,350.6 L589.9,350.9 L590.6,351.1 L591.3,351.3 L592.1,351.6 L592.8,351.8 L593.5,352 L594.3,352.2 L595,352.5 L595.8,352.7 L596.5,352.9 L597.2,353.1 L598,353.2 L598.7,353.4 L599.4,353.6 L600.2,353.7 L600.9,353.9 L601.6,354 L602.4,354.2 L603.1,354.3 L603.8,354.5 L604.6,354.6 L605.3,354.8 L606.1,354.9 L606.8,355 L607.5,355.1 L608.3,355.3 L609,355.4 L609.7,355.5 L610.5,355.6 L611.2,355.7 L611.9,355.9 L612.7,356 L613.4,356.1 L614.1,356.2 L614.9,356.4 L615.6,356.5 L616.3,356.6" fill="none" stroke="#2a7f8c" stroke-width="1.6" stroke-linejoin="round"/>
<path d="M494.2,359.3 L495,359.3 L495.7,359.3 L496.4,359.3 L497.2,359.2 L497.9,359.2 L498.7,359.1 L499.4,359.1 L500.1,359 L500.9,359 L501.6,358.9 L502.3,358.8 L503.1,358.8 L503.8,358.7 L504.5,358.6 L505.3,358.5 L506,358.3 L506.7,358.1 L507.5,357.9 L508.2,357.6 L509,357.4 L509.7,357 L510.4,356.5 L511.2,355.8 L511.9,355.1 L512.6,354.3 L513.4,353.4 L514.1,352.5 L514.8,351.4 L515.6,350.1 L516.3,348.7 L517,347.1 L517.8,345.5 L518.5,343.7 L519.3,341.8 L520,339.8 L520.7,337.6 L521.5,335 L522.2,332.2 L522.9,329.2 L523.7,326.3 L524.4,323.4 L525.1,320.7 L525.9,318 L526.6,315.2 L527.3,312.4 L528.1,309.8 L528.8,307.4 L529.5,305.3 L530.3,303.5 L531,301.8 L531.8,300.1 L532.5,298.6 L533.2,297.3 L534,296.3 L534.7,295.6 L535.4,295.2 L536.2,294.7 L536.9,294.4 L537.6,294.1 L538.4,293.8 L539.1,293.7 L539.8,293.6 L540.6,293.8 L541.3,294.3 L542.1,295.1 L542.8,296 L543.5,297.1 L544.3,298.3 L545,299.6 L545.7,300.8 L546.5,302.2 L547.2,303.8 L547.9,305.6 L548.7,307.5 L549.4,309.4 L550.1,311.3 L550.9,313.1 L551.6,314.8 L552.4,316.5 L553.1,318.2 L553.8,319.9 L554.6,321.5 L555.3,323.1 L556,324.5 L556.8,325.9 L557.5,327.2 L558.2,328.5 L559,329.7 L559.7,330.9 L560.4,332 L561.2,333.1 L561.9,334.1 L562.7,335.1 L563.4,336.1 L564.1,337 L564.9,337.9 L565.6,338.8 L566.3,339.6 L567.1,340.5 L567.8,341.3 L568.5,342.1 L569.3,342.8 L570,343.5 L570.7,344.1 L571.5,344.7 L572.2,345.3 L572.9,345.9 L573.7,346.4 L574.4,347 L575.2,347.5 L575.9,347.9 L576.6,348.4 L577.4,348.8 L578.1,349.3 L578.8,349.7 L579.6,350.1 L580.3,350.4 L581,350.8 L581.8,351.2 L582.5,351.5 L583.2,351.8 L584,352.2 L584.7,352.5 L585.5,352.8 L586.2,353.1 L586.9,353.4 L587.7,353.6 L588.4,353.9 L589.1,354.1 L589.9,354.4 L590.6,354.6 L591.3,354.8 L592.1,355 L592.8,355.2 L593.5,355.4 L594.3,355.5 L595,355.7 L595.8,355.9 L596.5,356 L597.2,356.2 L598,356.3 L598.7,356.5 L599.4,356.6 L600.2,356.8 L600.9,356.9 L601.6,357 L602.4,357.2 L603.1,357.3 L603.8,357.4 L604.6,357.5 L605.3,357.6 L606.1,357.7 L606.8,357.7 L607.5,357.8 L608.3,357.9 L609,358 L609.7,358 L610.5,358.1 L611.2,358.2 L611.9,358.2 L612.7,358.3 L613.4,358.4 L614.1,358.4 L614.9,358.5 L615.6,358.6 L616.3,358.6" fill="none" stroke="#30658f" stroke-width="1.6" stroke-linejoin="round"/>
<path d="M494.2,359.3 L495,359.3 L495.7,359.3 L496.4,359.3 L497.2,359.3 L497.9,359.3 L498.7,359.2 L499.4,359.2 L500.1,359.2 L500.9,359.2 L501.6,359.1 L502.3,359.1 L503.1,359.1 L503.8,359.1 L504.5,359 L505.3,359 L506,358.9 L506.7,358.9 L507.5,358.8 L508.2,358.7 L509,358.7 L509.7,358.5 L510.4,358.3 L511.2,358.1 L511.9,357.8 L512.6,357.5 L513.4,357.2 L514.1,356.8 L514.8,356.4 L515.6,355.9 L516.3,355.4 L517,354.8 L517.8,354.2 L518.5,353.5 L519.3,352.8 L520,352.2 L520.7,351.4 L521.5,350.6 L522.2,349.7 L522.9,348.8 L523.7,347.9 L524.4,346.9 L525.1,346 L525.9,345 L526.6,344 L527.3,343 L528.1,342 L528.8,341 L529.5,340.1 L530.3,339.2 L531,338.4 L531.8,337.6 L532.5,336.8 L533.2,336 L534,335.3 L534.7,334.6 L535.4,334 L536.2,333.4 L536.9,332.8 L537.6,332.3 L538.4,331.7 L539.1,331.2 L539.8,330.7 L540.6,330.2 L541.3,329.7 L542.1,329.2 L542.8,328.7 L543.5,328.2 L544.3,327.7 L545,327.2 L545.7,326.8 L546.5,326.4 L547.2,326 L547.9,325.6 L548.7,325.3 L549.4,324.9 L550.1,324.5 L550.9,324 L551.6,323.6 L552.4,323.1 L553.1,322.5 L553.8,321.9 L554.6,321.3 L555.3,320.6 L556,319.7 L556.8,318.7 L557.5,317.6 L558.2,316.4 L559,315.1 L559.7,313.8 L560.4,312.5 L561.2,311.2 L561.9,309.7 L562.7,308.2 L563.4,306.7 L564.1,305.4 L564.9,304.1 L565.6,303.1 L566.3,302.1 L567.1,301.2 L567.8,300.4 L568.5,299.7 L569.3,299 L570,298.4 L570.7,297.8 L571.5,297.3 L572.2,296.8 L572.9,296.3 L573.7,295.8 L574.4,295.4 L575.2,295.1 L575.9,295 L576.6,295 L577.4,295 L578.1,295 L578.8,295.1 L579.6,295.2 L580.3,295.3 L581,295.4 L581.8,295.5 L582.5,295.6 L583.2,295.8 L584,296 L584.7,296.3 L585.5,296.7 L586.2,297.1 L586.9,297.5 L587.7,298 L588.4,298.5 L589.1,299 L589.9,299.5 L590.6,300.1 L591.3,300.7 L592.1,301.4 L592.8,302.2 L593.5,303 L594.3,303.8 L595,304.7 L595.8,305.6 L596.5,306.4 L597.2,307.3 L598,308.2 L598.7,309 L599.4,309.9 L600.2,310.8 L600.9,311.7 L601.6,312.7 L602.4,313.6 L603.1,314.5 L603.8,315.5 L604.6,316.4 L605.3,317.3 L606.1,318.2 L606.8,319.2 L607.5,320.1 L608.3,321 L609,322 L609.7,322.9 L610.5,323.9 L611.2,324.9 L611.9,325.8 L612.7,326.8 L613.4,327.8 L614.1,328.9 L614.9,329.9 L615.6,330.9 L616.3,332" fill="none" stroke="#f59f4a" stroke-width="1.6" stroke-dasharray="1.4 1.3" stroke-linecap="butt"/>
<path d="M494.2,359.3 L495,359.3 L495.7,359.3 L496.4,359.3 L497.2,359.3 L497.9,359.2 L498.7,359.2 L499.4,359.2 L500.1,359.1 L500.9,359.1 L501.6,359.1 L502.3,359 L503.1,359 L503.8,358.9 L504.5,358.9 L505.3,358.8 L506,358.7 L506.7,358.6 L507.5,358.5 L508.2,358.4 L509,358.3 L509.7,358 L510.4,357.7 L511.2,357.3 L511.9,356.8 L512.6,356.3 L513.4,355.8 L514.1,355.2 L514.8,354.6 L515.6,353.8 L516.3,353.1 L517,352.2 L517.8,351.3 L518.5,350.3 L519.3,349.3 L520,348.2 L520.7,347.1 L521.5,345.7 L522.2,344.3 L522.9,342.8 L523.7,341.4 L524.4,340 L525.1,338.8 L525.9,337.6 L526.6,336.4 L527.3,335.3 L528.1,334.3 L528.8,333.3 L529.5,332.3 L530.3,331.4 L531,330.5 L531.8,329.7 L532.5,328.9 L533.2,328.2 L534,327.5 L534.7,326.8 L535.4,326.2 L536.2,325.5 L536.9,324.9 L537.6,324.4 L538.4,323.8 L539.1,323.3 L539.8,322.9 L540.6,322.5 L541.3,322.2 L542.1,321.8 L542.8,321.5 L543.5,321.2 L544.3,321 L545,320.6 L545.7,320.3 L546.5,320 L547.2,319.6 L547.9,319.3 L548.7,318.9 L549.4,318.5 L550.1,318 L550.9,317.5 L551.6,316.9 L552.4,316.2 L553.1,315.4 L553.8,314.6 L554.6,313.7 L555.3,312.8 L556,311.8 L556.8,310.7 L557.5,309.5 L558.2,308.2 L559,307 L559.7,305.8 L560.4,304.7 L561.2,303.7 L561.9,302.7 L562.7,301.8 L563.4,300.9 L564.1,300 L564.9,299.3 L565.6,298.6 L566.3,298 L567.1,297.4 L567.8,296.9 L568.5,296.4 L569.3,296 L570,295.7 L570.7,295.4 L571.5,295.2 L572.2,295 L572.9,294.8 L573.7,294.6 L574.4,294.5 L575.2,294.4 L575.9,294.3 L576.6,294.3 L577.4,294.4 L578.1,294.5 L578.8,294.7 L579.6,295 L580.3,295.3 L581,295.6 L581.8,295.9 L582.5,296.2 L583.2,296.6 L584,297 L584.7,297.4 L585.5,297.9 L586.2,298.5 L586.9,299 L587.7,299.6 L588.4,300.2 L589.1,300.8 L589.9,301.4 L590.6,302.1 L591.3,302.8 L592.1,303.5 L592.8,304.3 L593.5,305.1 L594.3,305.9 L595,306.7 L595.8,307.6 L596.5,308.4 L597.2,309.2 L598,310.1 L598.7,311 L599.4,311.9 L600.2,312.8 L600.9,313.7 L601.6,314.6 L602.4,315.6 L603.1,316.5 L603.8,317.4 L604.6,318.4 L605.3,319.3 L606.1,320.2 L606.8,321.1 L607.5,322.1 L608.3,323 L609,324 L609.7,324.9 L610.5,325.8 L611.2,326.8 L611.9,327.7 L612.7,328.6 L613.4,329.6 L614.1,330.5 L614.9,331.5 L615.6,332.4 L616.3,333.3" fill="none" stroke="#f8c23a" stroke-width="1.6" stroke-dasharray="1.4 1.3" stroke-linecap="butt"/>
<path d="M494.2,359.3 L495,359.3 L495.7,359.3 L496.4,359.3 L497.2,359.2 L497.9,359.2 L498.7,359.2 L499.4,359.1 L500.1,359.1 L500.9,359.1 L501.6,359 L502.3,358.9 L503.1,358.9 L503.8,358.8 L504.5,358.7 L505.3,358.6 L506,358.4 L506.7,358.2 L507.5,357.9 L508.2,357.7 L509,357.4 L509.7,356.9 L510.4,356.4 L511.2,355.8 L511.9,355 L512.6,354.2 L513.4,353.4 L514.1,352.5 L514.8,351.5 L515.6,350.4 L516.3,349.3 L517,348 L517.8,346.7 L518.5,345.3 L519.3,343.9 L520,342.4 L520.7,340.8 L521.5,339.1 L522.2,337.2 L522.9,335.4 L523.7,333.5 L524.4,331.8 L525.1,330.2 L525.9,328.7 L526.6,327.1 L527.3,325.7 L528.1,324.3 L528.8,323.1 L529.5,321.9 L530.3,320.9 L531,320 L531.8,319.1 L532.5,318.3 L533.2,317.6 L534,317 L534.7,316.4 L535.4,315.9 L536.2,315.5 L536.9,315 L537.6,314.7 L538.4,314.3 L539.1,314 L539.8,313.8 L540.6,313.6 L541.3,313.4 L542.1,313.2 L542.8,313.1 L543.5,313 L544.3,312.8 L545,312.7 L545.7,312.5 L546.5,312.3 L547.2,312.2 L547.9,312 L548.7,311.8 L549.4,311.6 L550.1,311.4 L550.9,311.1 L551.6,310.7 L552.4,310.2 L553.1,309.6 L553.8,308.9 L554.6,308.2 L555.3,307.5 L556,306.8 L556.8,306.1 L557.5,305.3 L558.2,304.5 L559,303.7 L559.7,302.9 L560.4,302.1 L561.2,301.3 L561.9,300.4 L562.7,299.5 L563.4,298.6 L564.1,297.9 L564.9,297.2 L565.6,296.8 L566.3,296.3 L567.1,295.9 L567.8,295.6 L568.5,295.3 L569.3,295.1 L570,295 L570.7,295 L571.5,295 L572.2,295 L572.9,295 L573.7,295 L574.4,295 L575.2,295 L575.9,295 L576.6,295 L577.4,295.1 L578.1,295.3 L578.8,295.5 L579.6,295.9 L580.3,296.3 L581,296.7 L581.8,297.1 L582.5,297.6 L583.2,298 L584,298.5 L584.7,299 L585.5,299.5 L586.2,300.1 L586.9,300.8 L587.7,301.4 L588.4,302.1 L589.1,302.7 L589.9,303.4 L590.6,304.1 L591.3,304.8 L592.1,305.5 L592.8,306.3 L593.5,307.1 L594.3,307.9 L595,308.7 L595.8,309.5 L596.5,310.4 L597.2,311.2 L598,312.1 L598.7,312.9 L599.4,313.8 L600.2,314.7 L600.9,315.6 L601.6,316.6 L602.4,317.5 L603.1,318.4 L603.8,319.4 L604.6,320.3 L605.3,321.2 L606.1,322.2 L606.8,323.1 L607.5,324 L608.3,325 L609,325.9 L609.7,326.8 L610.5,327.8 L611.2,328.7 L611.9,329.7 L612.7,330.6 L613.4,331.5 L614.1,332.5 L614.9,333.4 L615.6,334.3 L616.3,335.3" fill="none" stroke="#f8df2a" stroke-width="1.6" stroke-dasharray="1.4 1.3" stroke-linecap="butt"/>
<path d="M494.2,359.3 L495,359.3 L495.7,359.3 L496.4,359.2 L497.2,359.1 L497.9,359.1 L498.7,359 L499.4,358.8 L500.1,358.7 L500.9,358.6 L501.6,358.4 L502.3,358.2 L503.1,358 L503.8,357.8 L504.5,357.5 L505.3,357.1 L506,356.5 L506.7,355.7 L507.5,354.8 L508.2,353.8 L509,352.8 L509.7,351.6 L510.4,350.2 L511.2,348.5 L511.9,346.6 L512.6,344.6 L513.4,342.5 L514.1,340.3 L514.8,337.8 L515.6,335 L516.3,331.9 L517,328.6 L517.8,325.4 L518.5,322.2 L519.3,319.2 L520,316.4 L520.7,313.7 L521.5,311 L522.2,308.3 L522.9,305.7 L523.7,303.5 L524.4,301.7 L525.1,300.4 L525.9,299.3 L526.6,298.2 L527.3,297.2 L528.1,296.4 L528.8,295.9 L529.5,295.6 L530.3,295.6 L531,295.7 L531.8,295.9 L532.5,296.1 L533.2,296.3 L534,296.6 L534.7,296.9 L535.4,297.2 L536.2,297.7 L536.9,298.2 L537.6,298.8 L538.4,299.5 L539.1,300.1 L539.8,300.8 L540.6,301.5 L541.3,302.4 L542.1,303.3 L542.8,304.2 L543.5,305.1 L544.3,305.9 L545,306.7 L545.7,307.3 L546.5,307.8 L547.2,308.4 L547.9,308.9 L548.7,309.3 L549.4,309.7 L550.1,309.9 L550.9,309.9 L551.6,309.9 L552.4,309.8 L553.1,309.7 L553.8,309.6 L554.6,309.4 L555.3,309.3 L556,309.1 L556.8,308.9 L557.5,308.6 L558.2,308.3 L559,308 L559.7,307.6 L560.4,307.3 L561.2,306.9 L561.9,306.5 L562.7,306.1 L563.4,305.7 L564.1,305.2 L564.9,304.9 L565.6,304.6 L566.3,304.3 L567.1,304.1 L567.8,303.8 L568.5,303.6 L569.3,303.5 L570,303.4 L570.7,303.4 L571.5,303.4 L572.2,303.4 L572.9,303.4 L573.7,303.4 L574.4,303.4 L575.2,303.4 L575.9,303.4 L576.6,303.4 L577.4,303.5 L578.1,303.7 L578.8,304 L579.6,304.3 L580.3,304.7 L581,305.1 L581.8,305.6 L582.5,306 L583.2,306.5 L584,307 L584.7,307.6 L585.5,308.2 L586.2,308.9 L586.9,309.6 L587.7,310.3 L588.4,311 L589.1,311.8 L589.9,312.5 L590.6,313.2 L591.3,314 L592.1,314.7 L592.8,315.5 L593.5,316.3 L594.3,317.1 L595,317.9 L595.8,318.7 L596.5,319.5 L597.2,320.3 L598,321.1 L598.7,321.9 L599.4,322.6 L600.2,323.4 L600.9,324.2 L601.6,325 L602.4,325.8 L603.1,326.5 L603.8,327.3 L604.6,328.1 L605.3,328.9 L606.1,329.7 L606.8,330.5 L607.5,331.3 L608.3,332.1 L609,332.9 L609.7,333.6 L610.5,334.4 L611.2,335.1 L611.9,335.7 L612.7,336.4 L613.4,337 L614.1,337.7 L614.9,338.3 L615.6,338.9 L616.3,339.4" fill="none" stroke="#afd83a" stroke-width="1.6" stroke-dasharray="1.4 1.3" stroke-linecap="butt"/>
<path d="M494.2,359.3 L495,359.3 L495.7,359.3 L496.4,359.2 L497.2,359.1 L497.9,359.1 L498.7,359 L499.4,358.8 L500.1,358.7 L500.9,358.6 L501.6,358.4 L502.3,358.2 L503.1,358 L503.8,357.8 L504.5,357.5 L505.3,357.1 L506,356.5 L506.7,355.7 L507.5,354.8 L508.2,353.8 L509,352.8 L509.7,351.6 L510.4,350.2 L511.2,348.5 L511.9,346.6 L512.6,344.6 L513.4,342.5 L514.1,340.3 L514.8,337.8 L515.6,335 L516.3,332 L517,328.8 L517.8,325.5 L518.5,322.3 L519.3,319.3 L520,316.4 L520.7,313.6 L521.5,310.6 L522.2,307.6 L522.9,304.9 L523.7,302.4 L524.4,300.5 L525.1,299.1 L525.9,297.9 L526.6,296.9 L527.3,295.9 L528.1,295.1 L528.8,294.6 L529.5,294.3 L530.3,294.3 L531,294.4 L531.8,294.6 L532.5,294.8 L533.2,295 L534,295.3 L534.7,295.6 L535.4,296 L536.2,296.6 L536.9,297.3 L537.6,298.2 L538.4,299 L539.1,299.9 L539.8,300.8 L540.6,301.7 L541.3,302.6 L542.1,303.6 L542.8,304.6 L543.5,305.6 L544.3,306.7 L545,307.7 L545.7,308.6 L546.5,309.5 L547.2,310.5 L547.9,311.5 L548.7,312.4 L549.4,313.2 L550.1,314 L550.9,314.7 L551.6,315.3 L552.4,315.8 L553.1,316.4 L553.8,316.8 L554.6,317.3 L555.3,317.6 L556,317.9 L556.8,318.1 L557.5,318.3 L558.2,318.5 L559,318.6 L559.7,318.8 L560.4,319 L561.2,319.2 L561.9,319.4 L562.7,319.6 L563.4,319.8 L564.1,320 L564.9,320.2 L565.6,320.4 L566.3,320.6 L567.1,320.7 L567.8,320.9 L568.5,321.1 L569.3,321.3 L570,321.5 L570.7,321.7 L571.5,322 L572.2,322.2 L572.9,322.4 L573.7,322.6 L574.4,322.9 L575.2,323.1 L575.9,323.4 L576.6,323.6 L577.4,323.9 L578.1,324.2 L578.8,324.5 L579.6,324.8 L580.3,325.1 L581,325.5 L581.8,325.8 L582.5,326.2 L583.2,326.5 L584,326.9 L584.7,327.2 L585.5,327.6 L586.2,328 L586.9,328.4 L587.7,328.8 L588.4,329.2 L589.1,329.6 L589.9,330.1 L590.6,330.5 L591.3,330.9 L592.1,331.4 L592.8,331.8 L593.5,332.3 L594.3,332.7 L595,333.2 L595.8,333.7 L596.5,334.1 L597.2,334.6 L598,335.1 L598.7,335.5 L599.4,336 L600.2,336.5 L600.9,336.9 L601.6,337.4 L602.4,337.8 L603.1,338.3 L603.8,338.7 L604.6,339.2 L605.3,339.6 L606.1,340 L606.8,340.4 L607.5,340.8 L608.3,341.2 L609,341.6 L609.7,341.9 L610.5,342.3 L611.2,342.6 L611.9,343 L612.7,343.3 L613.4,343.6 L614.1,343.9 L614.9,344.2 L615.6,344.5 L616.3,344.8" fill="none" stroke="#69c65a" stroke-width="1.6" stroke-dasharray="1.4 1.3" stroke-linecap="butt"/>
<path d="M494.2,359.3 L495,359.3 L495.7,359.3 L496.4,359.2 L497.2,359.2 L497.9,359.1 L498.7,359 L499.4,358.9 L500.1,358.8 L500.9,358.7 L501.6,358.6 L502.3,358.4 L503.1,358.2 L503.8,358.1 L504.5,357.8 L505.3,357.4 L506,356.8 L506.7,356.1 L507.5,355.3 L508.2,354.4 L509,353.4 L509.7,352.3 L510.4,351 L511.2,349.4 L511.9,347.7 L512.6,345.8 L513.4,343.8 L514.1,341.7 L514.8,339.3 L515.6,336.7 L516.3,333.9 L517,330.9 L517.8,327.9 L518.5,324.8 L519.3,321.9 L520,319 L520.7,316.1 L521.5,312.9 L522.2,309.7 L522.9,306.7 L523.7,304 L524.4,301.9 L525.1,300.4 L525.9,299.1 L526.6,297.8 L527.3,296.8 L528.1,295.9 L528.8,295.3 L529.5,295 L530.3,295 L531,295.1 L531.8,295.2 L532.5,295.4 L533.2,295.7 L534,296 L534.7,296.2 L535.4,296.6 L536.2,297.1 L536.9,297.7 L537.6,298.4 L538.4,299.2 L539.1,300 L539.8,300.8 L540.6,301.7 L541.3,302.8 L542.1,303.9 L542.8,305.1 L543.5,306.4 L544.3,307.6 L545,308.8 L545.7,309.9 L546.5,310.9 L547.2,311.9 L547.9,312.9 L548.7,313.8 L549.4,314.8 L550.1,315.8 L550.9,316.7 L551.6,317.7 L552.4,318.7 L553.1,319.7 L553.8,320.7 L554.6,321.7 L555.3,322.6 L556,323.5 L556.8,324.3 L557.5,325.1 L558.2,325.9 L559,326.7 L559.7,327.4 L560.4,328.1 L561.2,328.8 L561.9,329.4 L562.7,330 L563.4,330.6 L564.1,331.2 L564.9,331.7 L565.6,332.2 L566.3,332.6 L567.1,333 L567.8,333.4 L568.5,333.8 L569.3,334.2 L570,334.5 L570.7,334.8 L571.5,335.1 L572.2,335.3 L572.9,335.5 L573.7,335.7 L574.4,336 L575.2,336.2 L575.9,336.4 L576.6,336.6 L577.4,336.9 L578.1,337.1 L578.8,337.3 L579.6,337.6 L580.3,337.8 L581,338 L581.8,338.3 L582.5,338.5 L583.2,338.7 L584,339 L584.7,339.3 L585.5,339.5 L586.2,339.8 L586.9,340 L587.7,340.3 L588.4,340.6 L589.1,340.8 L589.9,341.1 L590.6,341.4 L591.3,341.6 L592.1,341.9 L592.8,342.1 L593.5,342.4 L594.3,342.7 L595,342.9 L595.8,343.2 L596.5,343.4 L597.2,343.7 L598,344 L598.7,344.2 L599.4,344.5 L600.2,344.8 L600.9,345 L601.6,345.3 L602.4,345.6 L603.1,345.8 L603.8,346.1 L604.6,346.3 L605.3,346.5 L606.1,346.7 L606.8,346.9 L607.5,347.1 L608.3,347.3 L609,347.5 L609.7,347.7 L610.5,347.9 L611.2,348.1 L611.9,348.3 L612.7,348.5 L613.4,348.7 L614.1,348.9 L614.9,349.1 L615.6,349.2 L616.3,349.4" fill="none" stroke="#33b27b" stroke-width="1.6" stroke-dasharray="1.4 1.3" stroke-linecap="butt"/>
<path d="M494.2,359.3 L495,359.3 L495.7,359.3 L496.4,359.2 L497.2,359.2 L497.9,359.1 L498.7,359 L499.4,358.9 L500.1,358.8 L500.9,358.7 L501.6,358.5 L502.3,358.4 L503.1,358.2 L503.8,358.1 L504.5,357.8 L505.3,357.5 L506,357 L506.7,356.4 L507.5,355.7 L508.2,354.9 L509,354.1 L509.7,353.2 L510.4,352.1 L511.2,350.8 L511.9,349.4 L512.6,347.8 L513.4,346.2 L514.1,344.4 L514.8,342.3 L515.6,339.9 L516.3,337.2 L517,334.4 L517.8,331.5 L518.5,328.6 L519.3,325.7 L520,322.9 L520.7,320.1 L521.5,317.1 L522.2,314.1 L522.9,311.1 L523.7,308.4 L524.4,306 L525.1,304.1 L525.9,302.2 L526.6,300.4 L527.3,298.8 L528.1,297.4 L528.8,296.3 L529.5,295.7 L530.3,295.5 L531,295.3 L531.8,295.2 L532.5,295.1 L533.2,295 L534,295 L534.7,295 L535.4,295.1 L536.2,295.5 L536.9,296.1 L537.6,296.9 L538.4,297.8 L539.1,298.6 L539.8,299.5 L540.6,300.4 L541.3,301.4 L542.1,302.5 L542.8,303.7 L543.5,304.9 L544.3,306.2 L545,307.4 L545.7,308.6 L546.5,309.8 L547.2,310.9 L547.9,312.1 L548.7,313.3 L549.4,314.4 L550.1,315.6 L550.9,316.8 L551.6,318 L552.4,319.2 L553.1,320.4 L553.8,321.6 L554.6,322.8 L555.3,323.9 L556,324.9 L556.8,325.8 L557.5,326.7 L558.2,327.6 L559,328.4 L559.7,329.2 L560.4,330.1 L561.2,330.9 L561.9,331.7 L562.7,332.5 L563.4,333.3 L564.1,334.1 L564.9,334.8 L565.6,335.5 L566.3,336.1 L567.1,336.8 L567.8,337.4 L568.5,337.9 L569.3,338.5 L570,339 L570.7,339.5 L571.5,339.9 L572.2,340.3 L572.9,340.7 L573.7,341.1 L574.4,341.5 L575.2,341.8 L575.9,342.2 L576.6,342.5 L577.4,342.9 L578.1,343.2 L578.8,343.5 L579.6,343.8 L580.3,344.1 L581,344.4 L581.8,344.7 L582.5,345 L583.2,345.3 L584,345.6 L584.7,345.8 L585.5,346.1 L586.2,346.4 L586.9,346.6 L587.7,346.9 L588.4,347.1 L589.1,347.4 L589.9,347.6 L590.6,347.8 L591.3,348 L592.1,348.2 L592.8,348.4 L593.5,348.6 L594.3,348.8 L595,349 L595.8,349.2 L596.5,349.4 L597.2,349.6 L598,349.7 L598.7,349.9 L599.4,350 L600.2,350.2 L600.9,350.3 L601.6,350.4 L602.4,350.6 L603.1,350.7 L603.8,350.8 L604.6,351 L605.3,351.1 L606.1,351.3 L606.8,351.4 L607.5,351.6 L608.3,351.7 L609,351.8 L609.7,352 L610.5,352.1 L611.2,352.2 L611.9,352.4 L612.7,352.5 L613.4,352.6 L614.1,352.7 L614.9,352.9 L615.6,353 L616.3,353.1" fill="none" stroke="#22998a" stroke-width="1.6" stroke-dasharray="1.4 1.3" stroke-linecap="butt"/>
<path d="M494.2,359.3 L495,359.3 L495.7,359.3 L496.4,359.2 L497.2,359.2 L497.9,359.1 L498.7,359.1 L499.4,359 L500.1,358.9 L500.9,358.8 L501.6,358.7 L502.3,358.6 L503.1,358.4 L503.8,358.3 L504.5,358.1 L505.3,357.9 L506,357.5 L506.7,357.1 L507.5,356.6 L508.2,356 L509,355.4 L509.7,354.7 L510.4,353.7 L511.2,352.6 L511.9,351.4 L512.6,350 L513.4,348.6 L514.1,347.1 L514.8,345.4 L515.6,343.5 L516.3,341.4 L517,339.2 L517.8,336.8 L518.5,334.4 L519.3,331.9 L520,329.4 L520.7,326.7 L521.5,323.6 L522.2,320.5 L522.9,317.3 L523.7,314.2 L524.4,311.5 L525.1,309.2 L525.9,307 L526.6,304.9 L527.3,303 L528.1,301.2 L528.8,299.7 L529.5,298.5 L530.3,297.6 L531,296.8 L531.8,296 L532.5,295.3 L533.2,294.8 L534,294.4 L534.7,294.3 L535.4,294.4 L536.2,294.8 L536.9,295.3 L537.6,295.9 L538.4,296.7 L539.1,297.4 L539.8,298.2 L540.6,299 L541.3,300 L542.1,301.1 L542.8,302.2 L543.5,303.5 L544.3,304.8 L545,306 L545.7,307.3 L546.5,308.6 L547.2,310 L547.9,311.4 L548.7,312.8 L549.4,314.2 L550.1,315.5 L550.9,316.8 L551.6,318.1 L552.4,319.3 L553.1,320.5 L553.8,321.6 L554.6,322.7 L555.3,323.8 L556,324.9 L556.8,325.9 L557.5,327 L558.2,327.9 L559,328.9 L559.7,329.8 L560.4,330.7 L561.2,331.5 L561.9,332.4 L562.7,333.2 L563.4,333.9 L564.1,334.7 L564.9,335.4 L565.6,336.1 L566.3,336.9 L567.1,337.6 L567.8,338.3 L568.5,339 L569.3,339.7 L570,340.3 L570.7,340.8 L571.5,341.4 L572.2,341.9 L572.9,342.4 L573.7,342.8 L574.4,343.3 L575.2,343.7 L575.9,344.1 L576.6,344.5 L577.4,344.8 L578.1,345.2 L578.8,345.5 L579.6,345.8 L580.3,346.1 L581,346.4 L581.8,346.7 L582.5,346.9 L583.2,347.2 L584,347.5 L584.7,347.8 L585.5,348.1 L586.2,348.3 L586.9,348.6 L587.7,348.8 L588.4,349.1 L589.1,349.3 L589.9,349.6 L590.6,349.8 L591.3,350 L592.1,350.2 L592.8,350.4 L593.5,350.6 L594.3,350.8 L595,351 L595.8,351.2 L596.5,351.3 L597.2,351.5 L598,351.7 L598.7,351.8 L599.4,351.9 L600.2,352.1 L600.9,352.2 L601.6,352.3 L602.4,352.4 L603.1,352.6 L603.8,352.7 L604.6,352.8 L605.3,352.9 L606.1,353 L606.8,353.1 L607.5,353.3 L608.3,353.4 L609,353.5 L609.7,353.6 L610.5,353.7 L611.2,353.8 L611.9,353.9 L612.7,354 L613.4,354.1 L614.1,354.2 L614.9,354.3 L615.6,354.3 L616.3,354.4" fill="none" stroke="#2a7f8c" stroke-width="1.6" stroke-dasharray="1.4 1.3" stroke-linecap="butt"/>
<path d="M494.2,359.3 L495,359.3 L495.7,359.3 L496.4,359.3 L497.2,359.2 L497.9,359.2 L498.7,359.1 L499.4,359.1 L500.1,359 L500.9,358.9 L501.6,358.8 L502.3,358.7 L503.1,358.7 L503.8,358.6 L504.5,358.4 L505.3,358.3 L506,358 L506.7,357.8 L507.5,357.4 L508.2,357.1 L509,356.7 L509.7,356.2 L510.4,355.6 L511.2,354.9 L511.9,354.1 L512.6,353.2 L513.4,352.2 L514.1,351.1 L514.8,349.9 L515.6,348.5 L516.3,346.9 L517,345.2 L517.8,343.3 L518.5,341.3 L519.3,339.3 L520,337.2 L520.7,334.9 L521.5,332.2 L522.2,329.4 L522.9,326.5 L523.7,323.5 L524.4,320.7 L525.1,318.2 L525.9,315.6 L526.6,313 L527.3,310.5 L528.1,308.1 L528.8,305.9 L529.5,304 L530.3,302.3 L531,300.5 L531.8,298.8 L532.5,297.3 L533.2,296.1 L534,295.3 L534.7,295 L535.4,295 L536.2,295 L536.9,295.1 L537.6,295.2 L538.4,295.3 L539.1,295.4 L539.8,295.6 L540.6,296 L541.3,296.7 L542.1,297.7 L542.8,299 L543.5,300.4 L544.3,301.9 L545,303.3 L545.7,304.7 L546.5,306.1 L547.2,307.6 L547.9,309.2 L548.7,310.8 L549.4,312.5 L550.1,314.1 L550.9,315.6 L551.6,317.1 L552.4,318.6 L553.1,320.1 L553.8,321.6 L554.6,323 L555.3,324.4 L556,325.8 L556.8,327.1 L557.5,328.5 L558.2,329.8 L559,331 L559.7,332.2 L560.4,333.3 L561.2,334.3 L561.9,335.2 L562.7,336.1 L563.4,337 L564.1,337.8 L564.9,338.6 L565.6,339.4 L566.3,340.3 L567.1,341.1 L567.8,341.9 L568.5,342.7 L569.3,343.5 L570,344.1 L570.7,344.8 L571.5,345.3 L572.2,345.9 L572.9,346.4 L573.7,346.9 L574.4,347.4 L575.2,347.9 L575.9,348.3 L576.6,348.8 L577.4,349.2 L578.1,349.6 L578.8,350 L579.6,350.4 L580.3,350.7 L581,351.1 L581.8,351.4 L582.5,351.8 L583.2,352.1 L584,352.4 L584.7,352.7 L585.5,353 L586.2,353.3 L586.9,353.5 L587.7,353.8 L588.4,354.1 L589.1,354.3 L589.9,354.5 L590.6,354.7 L591.3,354.9 L592.1,355 L592.8,355.2 L593.5,355.4 L594.3,355.5 L595,355.7 L595.8,355.8 L596.5,355.9 L597.2,356.1 L598,356.2 L598.7,356.3 L599.4,356.4 L600.2,356.5 L600.9,356.6 L601.6,356.7 L602.4,356.8 L603.1,356.9 L603.8,357 L604.6,357.1 L605.3,357.2 L606.1,357.3 L606.8,357.3 L607.5,357.4 L608.3,357.5 L609,357.6 L609.7,357.6 L610.5,357.7 L611.2,357.8 L611.9,357.9 L612.7,357.9 L613.4,358 L614.1,358 L614.9,358.1 L615.6,358.2 L616.3,358.2" fill="none" stroke="#30658f" stroke-width="1.6" stroke-dasharray="1.4 1.3" stroke-linecap="butt"/>
</g>
<line x1="491.2" y1="216.6" x2="494.6" y2="216.6" stroke="#000" stroke-width="1.25"/>
<line x1="491.2" y1="242.9" x2="494.6" y2="242.9" stroke="#000" stroke-width="1.25"/>
<line x1="491.2" y1="269.2" x2="494.6" y2="269.2" stroke="#000" stroke-width="1.25"/>
<line x1="492.8" y1="229.8" x2="494.6" y2="229.8" stroke="#000" stroke-width="1.25"/>
<line x1="492.8" y1="256.1" x2="494.6" y2="256.1" stroke="#000" stroke-width="1.25"/>
<text transform="translate(488.8,220.4) scale(1,1.12)" font-size="10.5" font-weight="bold" text-anchor="end" fill="#000" stroke="#000" stroke-width="0.22" >400</text>
<text transform="translate(488.8,246.7) scale(1,1.12)" font-size="10.5" font-weight="bold" text-anchor="end" fill="#000" stroke="#000" stroke-width="0.22" >0</text>
<text transform="translate(488.8,273) scale(1,1.12)" font-size="10.5" font-weight="bold" text-anchor="end" fill="#000" stroke="#000" stroke-width="0.22" >-400</text>
<line x1="491.2" y1="359.3" x2="494.6" y2="359.3" stroke="#000" stroke-width="1.25"/>
<line x1="491.2" y1="333.3" x2="494.6" y2="333.3" stroke="#000" stroke-width="1.25"/>
<line x1="491.2" y1="307.3" x2="494.6" y2="307.3" stroke="#000" stroke-width="1.25"/>
<line x1="492.8" y1="346.3" x2="494.6" y2="346.3" stroke="#000" stroke-width="1.25"/>
<line x1="492.8" y1="320.3" x2="494.6" y2="320.3" stroke="#000" stroke-width="1.25"/>
<line x1="492.8" y1="294.3" x2="494.6" y2="294.3" stroke="#000" stroke-width="1.25"/>
<text transform="translate(488.8,363.1) scale(1,1.12)" font-size="10.5" font-weight="bold" text-anchor="end" fill="#000" stroke="#000" stroke-width="0.22" >0.0</text>
<text transform="translate(488.8,337.1) scale(1,1.12)" font-size="10.5" font-weight="bold" text-anchor="end" fill="#000" stroke="#000" stroke-width="0.22" >0.2</text>
<text transform="translate(488.8,311.1) scale(1,1.12)" font-size="10.5" font-weight="bold" text-anchor="end" fill="#000" stroke="#000" stroke-width="0.22" >0.4</text>
<line x1="506.5" y1="359.3" x2="506.5" y2="362.7" stroke="#000" stroke-width="1.25"/>
<line x1="543.3" y1="359.3" x2="543.3" y2="362.7" stroke="#000" stroke-width="1.25"/>
<line x1="580.1" y1="359.3" x2="580.1" y2="362.7" stroke="#000" stroke-width="1.25"/>
<line x1="616.8" y1="359.3" x2="616.8" y2="362.7" stroke="#000" stroke-width="1.25"/>
<line x1="653.6" y1="359.3" x2="653.6" y2="362.7" stroke="#000" stroke-width="1.25"/>
<line x1="524.9" y1="359.3" x2="524.9" y2="361.1" stroke="#000" stroke-width="1.25"/>
<line x1="561.7" y1="359.3" x2="561.7" y2="361.1" stroke="#000" stroke-width="1.25"/>
<line x1="598.5" y1="359.3" x2="598.5" y2="361.1" stroke="#000" stroke-width="1.25"/>
<line x1="635.2" y1="359.3" x2="635.2" y2="361.1" stroke="#000" stroke-width="1.25"/>
<line x1="672" y1="359.3" x2="672" y2="361.1" stroke="#000" stroke-width="1.25"/>
<text transform="translate(506.5,373.4) scale(1,1.12)" font-size="10.5" font-weight="bold" text-anchor="middle" fill="#000" stroke="#000" stroke-width="0.22" >450</text>
<text transform="translate(543.3,373.4) scale(1,1.12)" font-size="10.5" font-weight="bold" text-anchor="middle" fill="#000" stroke="#000" stroke-width="0.22" >600</text>
<text transform="translate(580.1,373.4) scale(1,1.12)" font-size="10.5" font-weight="bold" text-anchor="middle" fill="#000" stroke="#000" stroke-width="0.22" >750</text>
<text transform="translate(616.8,373.4) scale(1,1.12)" font-size="10.5" font-weight="bold" text-anchor="middle" fill="#000" stroke="#000" stroke-width="0.22" >900</text>
<text transform="translate(653.6,373.4) scale(1,1.12)" font-size="10.5" font-weight="bold" text-anchor="middle" fill="#000" stroke="#000" stroke-width="0.22" >1050</text>
<text x="475.6" y="205.3" font-size="18.8" font-weight="bold" text-anchor="start" fill="#000" stroke="#000" stroke-width="0.22" >f</text>
<text transform="translate(465.4,243.2) rotate(-90)" font-size="11.0" font-weight="bold" text-anchor="middle" stroke="#000" stroke-width="0.22">CPL (mdeg)</text>
<text transform="translate(465.5,319.8) rotate(-90)" font-size="11.0" font-weight="bold" text-anchor="middle" stroke="#000" stroke-width="0.22">DC (V)</text>
<text x="585.9" y="384.5" font-size="10.8" font-weight="bold" text-anchor="middle" fill="#000" stroke="#000" stroke-width="0.22"  textLength="91" lengthAdjust="spacingAndGlyphs">Wavelength (nm)</text>
<text transform="translate(674.4,213.3) scale(1,1.15)" font-size="7.45" font-weight="bold" text-anchor="end" fill="#000" stroke="#000" stroke-width="0.22" ><tspan font-style="italic">f</tspan> (mol%) of Cu<tspan font-size="5" dy="1.5">6</tspan><tspan dy="-1.5"> in BTA/phol/Ag</tspan><tspan font-size="5" dy="1.5">6</tspan></text>
<text transform="translate(620.3,222.7) scale(1,1.15)" font-size="7.2" font-weight="bold" text-anchor="start" fill="#000" stroke="#000" stroke-width="0.22" ><tspan font-style="italic">R</tspan>-Cu<tspan font-size="5" dy="1.5">6</tspan><tspan dy="-1.5">:</tspan></text>
<text transform="translate(650.5,222.7) scale(1,1.15)" font-size="7.2" font-weight="bold" text-anchor="start" fill="#000" stroke="#000" stroke-width="0.22" ><tspan font-style="italic">S</tspan>-Cu<tspan font-size="5" dy="1.5">6</tspan><tspan dy="-1.5">:</tspan></text>
<line x1="617.7" y1="230.6" x2="635.8" y2="230.6" stroke="#30658f" stroke-width="2.0"/>
<text transform="translate(637,233.3) scale(1,1.15)" font-size="7.2" font-weight="bold" text-anchor="start" fill="#000" stroke="#000" stroke-width="0.22" >0</text>
<line x1="647.2" y1="230.6" x2="663.7" y2="230.6" stroke="#30658f" stroke-width="1.7" stroke-dasharray="1.5 1.96"/>
<text transform="translate(666.6,233.3) scale(1,1.15)" font-size="7.2" font-weight="bold" text-anchor="start" fill="#000" stroke="#000" stroke-width="0.22" >0</text>
<line x1="617.7" y1="239.6" x2="635.8" y2="239.6" stroke="#2a7f8c" stroke-width="2.0"/>
<text transform="translate(637,242.3) scale(1,1.15)" font-size="7.2" font-weight="bold" text-anchor="start" fill="#000" stroke="#000" stroke-width="0.22" >0.1</text>
<line x1="647.2" y1="239.6" x2="663.7" y2="239.6" stroke="#2a7f8c" stroke-width="1.7" stroke-dasharray="1.5 1.96"/>
<text transform="translate(666.6,242.3) scale(1,1.15)" font-size="7.2" font-weight="bold" text-anchor="start" fill="#000" stroke="#000" stroke-width="0.22" >0.1</text>
<line x1="617.7" y1="248.7" x2="635.8" y2="248.7" stroke="#22998a" stroke-width="2.0"/>
<text transform="translate(637,251.4) scale(1,1.15)" font-size="7.2" font-weight="bold" text-anchor="start" fill="#000" stroke="#000" stroke-width="0.22" >0.5</text>
<line x1="647.2" y1="248.7" x2="663.7" y2="248.7" stroke="#22998a" stroke-width="1.7" stroke-dasharray="1.5 1.96"/>
<text transform="translate(666.6,251.4) scale(1,1.15)" font-size="7.2" font-weight="bold" text-anchor="start" fill="#000" stroke="#000" stroke-width="0.22" >0.5</text>
<line x1="617.7" y1="257.8" x2="635.8" y2="257.8" stroke="#33b27b" stroke-width="2.0"/>
<text transform="translate(637,260.5) scale(1,1.15)" font-size="7.2" font-weight="bold" text-anchor="start" fill="#000" stroke="#000" stroke-width="0.22" >1</text>
<line x1="647.2" y1="257.8" x2="663.7" y2="257.8" stroke="#33b27b" stroke-width="1.7" stroke-dasharray="1.5 1.96"/>
<text transform="translate(666.6,260.5) scale(1,1.15)" font-size="7.2" font-weight="bold" text-anchor="start" fill="#000" stroke="#000" stroke-width="0.22" >1</text>
<line x1="617.7" y1="267.1" x2="635.8" y2="267.1" stroke="#69c65a" stroke-width="2.0"/>
<text transform="translate(637,269.8) scale(1,1.15)" font-size="7.2" font-weight="bold" text-anchor="start" fill="#000" stroke="#000" stroke-width="0.22" >3</text>
<line x1="647.2" y1="267.1" x2="663.7" y2="267.1" stroke="#69c65a" stroke-width="1.7" stroke-dasharray="1.5 1.96"/>
<text transform="translate(666.6,269.8) scale(1,1.15)" font-size="7.2" font-weight="bold" text-anchor="start" fill="#000" stroke="#000" stroke-width="0.22" >3</text>
<line x1="617.7" y1="276.3" x2="635.8" y2="276.3" stroke="#afd83a" stroke-width="2.0"/>
<text transform="translate(637,279) scale(1,1.15)" font-size="7.2" font-weight="bold" text-anchor="start" fill="#000" stroke="#000" stroke-width="0.22" >5</text>
<line x1="647.2" y1="276.3" x2="663.7" y2="276.3" stroke="#afd83a" stroke-width="1.7" stroke-dasharray="1.5 1.96"/>
<text transform="translate(666.6,279) scale(1,1.15)" font-size="7.2" font-weight="bold" text-anchor="start" fill="#000" stroke="#000" stroke-width="0.22" >5</text>
<line x1="617.7" y1="285.6" x2="635.8" y2="285.6" stroke="#f8df2a" stroke-width="2.0"/>
<text transform="translate(637,288.3) scale(1,1.15)" font-size="7.2" font-weight="bold" text-anchor="start" fill="#000" stroke="#000" stroke-width="0.22" >7</text>
<line x1="647.2" y1="285.6" x2="663.7" y2="285.6" stroke="#f8df2a" stroke-width="1.7" stroke-dasharray="1.5 1.96"/>
<text transform="translate(666.6,288.3) scale(1,1.15)" font-size="7.2" font-weight="bold" text-anchor="start" fill="#000" stroke="#000" stroke-width="0.22" >7</text>
<line x1="617.7" y1="294.8" x2="635.8" y2="294.8" stroke="#f8c23a" stroke-width="2.0"/>
<text transform="translate(637,297.5) scale(1,1.15)" font-size="7.2" font-weight="bold" text-anchor="start" fill="#000" stroke="#000" stroke-width="0.22" >10</text>
<line x1="647.2" y1="294.8" x2="663.7" y2="294.8" stroke="#f8c23a" stroke-width="1.7" stroke-dasharray="1.5 1.96"/>
<text transform="translate(666.6,297.5) scale(1,1.15)" font-size="7.2" font-weight="bold" text-anchor="start" fill="#000" stroke="#000" stroke-width="0.22" >10</text>
<line x1="617.7" y1="304" x2="635.8" y2="304" stroke="#f59f4a" stroke-width="2.0"/>
<text transform="translate(637,306.7) scale(1,1.15)" font-size="7.2" font-weight="bold" text-anchor="start" fill="#000" stroke="#000" stroke-width="0.22" >20</text>
<line x1="647.2" y1="304.0" x2="663.7" y2="304.0" stroke="#f59f4a" stroke-width="1.7" stroke-dasharray="1.5 1.96"/>
<text transform="translate(666.6,306.7) scale(1,1.15)" font-size="7.2" font-weight="bold" text-anchor="start" fill="#000" stroke="#000" stroke-width="0.22" >20</text>
</svg></body></html>
